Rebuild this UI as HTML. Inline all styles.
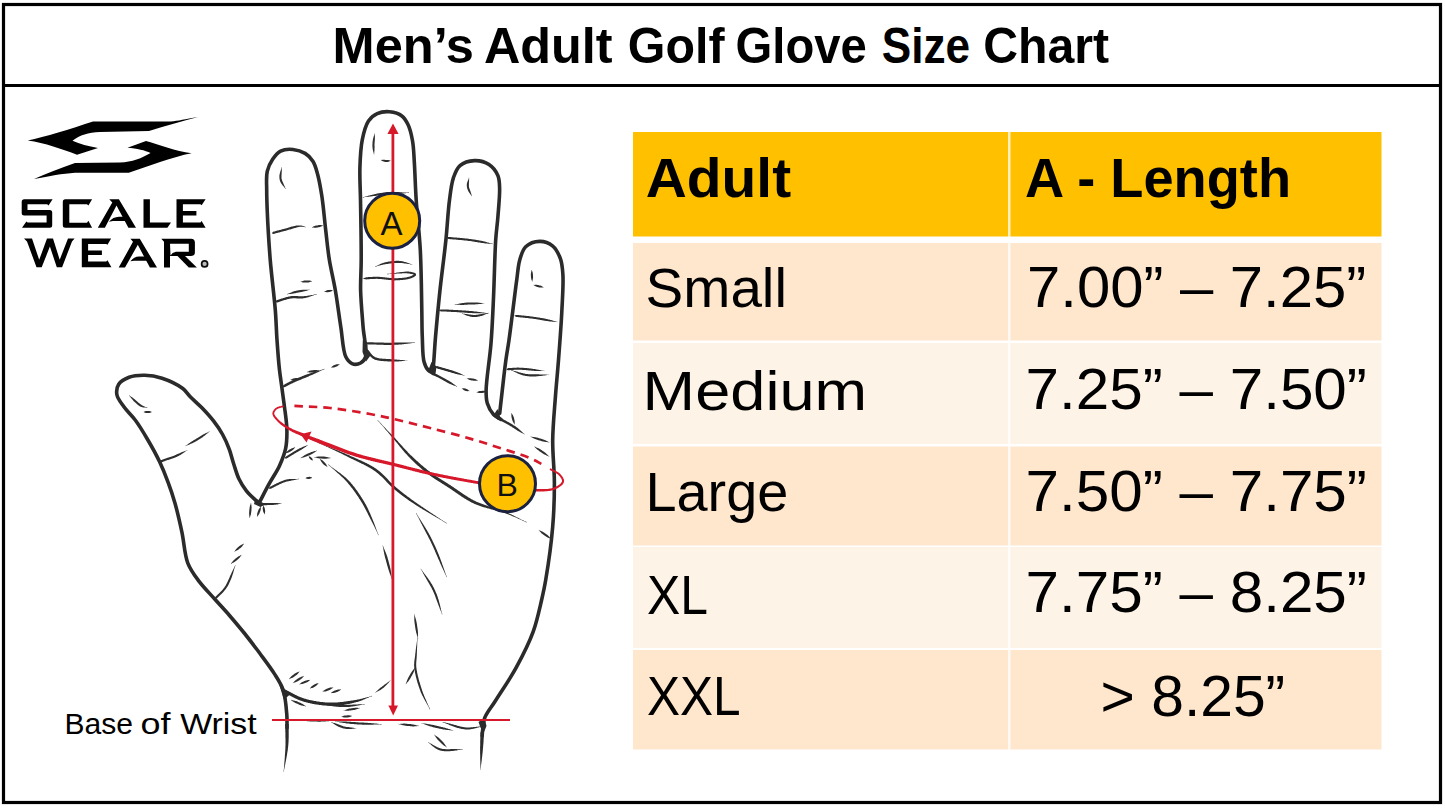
<!DOCTYPE html>
<html><head><meta charset="utf-8">
<style>
html,body{margin:0;padding:0;background:#fff;width:1445px;height:808px;overflow:hidden;}
svg{display:block;}
text{font-family:"Liberation Sans",sans-serif;}
</style></head>
<body>
<svg width="1445" height="808" viewBox="0 0 1445 808">
<rect x="0" y="0" width="1445" height="808" fill="#fff"/>
<rect x="3.5" y="4.5" width="1437" height="798" fill="none" stroke="#000" stroke-width="3.2"/>
<line x1="3" y1="85.5" x2="1442" y2="85.5" stroke="#000" stroke-width="3.2"/>
<g font-size="49.5" font-weight="bold" fill="#000">
<text x="332.6" y="63" textLength="141.3" lengthAdjust="spacingAndGlyphs">Men’s</text>
<text x="483.9" y="63" textLength="128.6" lengthAdjust="spacingAndGlyphs">Adult</text>
<text x="627.8" y="63" textLength="96.7" lengthAdjust="spacingAndGlyphs">Golf</text>
<text x="735.5" y="63" textLength="131.3" lengthAdjust="spacingAndGlyphs">Glove</text>
<text x="881.8" y="63" textLength="88.4" lengthAdjust="spacingAndGlyphs">Size</text>
<text x="983.2" y="63" textLength="125.8" lengthAdjust="spacingAndGlyphs">Chart</text>
</g>

<g>
<rect x="633" y="132" width="748.5" height="104.5" fill="#FFC000"/>
<rect x="633" y="243" width="748.5" height="97.5" fill="#FEE7CD"/>
<rect x="633" y="343" width="748.5" height="101" fill="#FDF3E6"/>
<rect x="633" y="446.5" width="748.5" height="99" fill="#FEE7CD"/>
<rect x="633" y="547" width="748.5" height="101" fill="#FDF3E6"/>
<rect x="633" y="650" width="748.5" height="99.5" fill="#FEE7CD"/>
<rect x="1008" y="132" width="2.5" height="618" fill="#fff" opacity="0.75"/>
</g>
<g fill="#000">
<text x="645.8" y="197" font-size="55" font-weight="bold" textLength="145.3" lengthAdjust="spacingAndGlyphs">Adult</text>
<text x="1025" y="196.5" font-size="55" font-weight="bold" textLength="266" lengthAdjust="spacingAndGlyphs">A - Length</text>
</g>
<g font-size="57" fill="#000">
<text x="645.6" y="306.5" font-size="55" textLength="141.4" lengthAdjust="spacingAndGlyphs">Small</text>
<text x="1027" y="307" textLength="339.2" lengthAdjust="spacingAndGlyphs">7.00” – 7.25”</text>
<text x="642.6" y="410" font-size="55" textLength="224.5" lengthAdjust="spacingAndGlyphs">Medium</text>
<text x="1025.6" y="409.2" textLength="341.3" lengthAdjust="spacingAndGlyphs">7.25” – 7.50”</text>
<text x="645.4" y="511" font-size="55" textLength="142.9" lengthAdjust="spacingAndGlyphs">Large</text>
<text x="1025.6" y="510.6" textLength="341.3" lengthAdjust="spacingAndGlyphs">7.50” – 7.75”</text>
<text x="647" y="614" font-size="55" textLength="61" lengthAdjust="spacingAndGlyphs">XL</text>
<text x="1025.6" y="611.8" textLength="341.3" lengthAdjust="spacingAndGlyphs">7.75” – 8.25”</text>
<text x="647" y="714.5" font-size="55" textLength="93.6" lengthAdjust="spacingAndGlyphs">XXL</text>
<text x="1100.6" y="715.5" textLength="184.6" lengthAdjust="spacingAndGlyphs">&gt; 8.25”</text>
</g>

<g font-size="30" fill="#000">
<text x="64.4" y="733.5" textLength="68.5" lengthAdjust="spacingAndGlyphs">Base</text>
<text x="140.6" y="733.5" textLength="30" lengthAdjust="spacingAndGlyphs">of</text>
<text x="180.2" y="733.5" textLength="76.5" lengthAdjust="spacingAndGlyphs">Wrist</text>
</g>

<g id="logo">

<path d="M198,117 C185,119 178,121 171,121.5 L93,121.5 C70,129 45,137 27.7,140.5 C45,143 62,149 77,154.8 L98,148 C88,146 80,144 72.5,140.7 C80,135 88,132.5 100,132 L149,131 C165,126 182,121 198,117 Z" fill="#000"/>
<path d="M34,179 C50,176 62,173.5 75,172.7 L128.8,172.7 C150,166 172,157 191.6,153.3 C175,151 160,145 146,141 L127.5,147.8 C137,148.5 145,150.5 150.6,152.9 C142,158 132,162 120,162.5 L75,163 C60,168 46,174 34,179 Z" fill="#000"/>
<g fill="#000">
<path d="M24,199.2 L52.6,199.2 L48.5,205.5 L47.2,204.2 L27.5,204.2 L27.5,209.9 L49.7,209.9 Q52.2,209.9 52.2,212.4 L52.2,225.3 Q52.2,227.8 49.7,227.8 L22,227.8 L26.4,221.4 L27.6,222.6 L46.6,222.6 L46.6,215.5 L24.2,215.5 Q21.7,215.5 21.7,213 L21.7,201.7 Q21.7,199.2 24.2,199.2 Z"/>
<path d="M65.3,199.2 L92.1,199.2 L88.4,205.5 L87,204.2 L69.3,204.2 L69.3,222.8 L87,222.8 L88.4,220.8 L92.1,227.8 L65.3,227.8 Q62.8,227.8 62.8,225.3 L62.8,201.7 Q62.8,199.2 65.3,199.2 Z"/>
<path d="M109.3,199.2 L118.9,199.2 L136,227.8 L128.4,227.8 L116.5,205.5 L104.9,227.8 L97.8,227.8 L112.3,202.5 Z"/>
<path d="M108.9,221.8 Q113,217 119,216.8 L124,216.8 L126.2,221 L113,221 Z"/>
<path d="M143.5,199.2 L149.9,199.2 L149.9,222.6 L171,222.6 L167.4,227.8 L143.5,227.8 Z"/>
<path d="M176.5,199.2 L205.6,199.2 L201.6,205.3 L200.5,204.3 L182.9,204.3 L182.9,211.1 L196.4,211.1 L196.4,215.5 L182.9,215.5 L182.9,222.6 L200.5,222.6 L201.6,221 L205.6,227.8 L176.5,227.8 Z"/>
<path d="M24,238.6 L32,238.6 L39.2,259.8 L47,238.6 L53,238.6 L59.7,259.7 L68,238.6 L74.6,238.6 L72,241.5 L62.1,267.2 L56.8,267.2 L49.9,246.6 L41.7,267.2 L36.5,267.2 L27,241.5 Z"/>
<path d="M81.8,238.6 L111.1,238.6 L107.5,244.8 L106.3,243.9 L88.1,243.9 L88.1,250.4 L101.9,250.4 L101.9,255 L88.1,255 L88.1,261.6 L106.3,261.6 L107.5,260.3 L111.4,267.2 L81.8,267.2 Z"/>
<path d="M130.4,238.7 L139.8,238.7 L157,267.6 L149.9,267.6 L137.8,244.8 L125,267.6 L118.7,267.6 L133,241.8 Z"/>
<path d="M130.4,261.2 Q134,256.8 139,256.6 L145.2,256.6 L147.2,260.8 L134,260.8 Z"/>
<path fill-rule="evenodd" d="M161.3,238.7 L191,238.7 Q194.9,238.7 194.9,242.6 L194.9,252.2 Q194.9,256.1 191,256.1 L170,256.1 L170,267.6 L164,267.6 L164,241.8 Z M170,243.7 L188.8,243.7 L188.8,251.8 L176,251.8 Q172,252.5 170.5,255.5 Z"/>
<path d="M177,255.5 L184.5,255.5 L196.9,267.6 L188.8,267.6 Z"/>
<circle cx="204.6" cy="263.9" r="3" fill="#bbb" stroke="#0d0d0d" stroke-width="1.7"/>
</g>

</g>

<g id="hand">
<path d="M259.6,502.0 C262.9,495.7 266.1,489.3 269.5,483.2 C272.7,477.3 276.7,471.8 279.4,465.9 C282.0,460.2 284.3,454.6 285.6,448.6 C286.9,442.6 287.0,436.5 286.9,430.0 C286.8,422.8 285.4,414.3 284.5,407.1 C283.7,400.6 282.8,394.8 282.0,388.6 C281.2,382.4 280.3,376.9 279.5,370.0 C278.5,361.2 277.7,350.0 277.0,340.0 C276.3,330.0 276.2,321.3 275.3,310.0 C274.1,295.3 271.6,276.3 270.2,259.5 C268.9,242.9 267.7,222.8 267.2,210.0 C266.9,201.9 266.7,196.6 266.7,190.0 C266.7,183.6 266.0,176.7 267.3,171.2 C268.4,166.6 270.4,162.5 272.8,159.0 C275.0,155.9 277.4,152.7 280.6,151.1 C284.0,149.4 288.8,149.1 292.9,149.5 C297.0,149.9 301.7,151.3 305.1,153.4 C308.3,155.3 310.9,158.1 312.9,161.2 C315.1,164.6 316.1,168.7 317.4,173.4 C319.2,179.7 320.5,187.4 321.8,195.7 C323.4,205.9 324.4,219.0 325.7,230.0 C326.9,240.2 327.7,249.6 329.3,259.5 C330.9,269.6 333.5,279.3 335.3,290.0 C337.3,301.7 339.0,315.3 340.8,327.0 C342.5,337.5 342.8,350.6 345.8,356.8 C347.5,360.2 349.5,362.6 352.0,363.6 C354.4,364.6 358.3,364.2 360.6,363.0 C362.8,361.9 364.6,359.9 365.6,356.8 C367.4,350.8 363.9,337.5 363.1,327.0 C362.2,315.3 360.9,301.7 360.6,290.0 C360.4,279.5 361.2,271.7 361.2,260.0 C361.3,243.4 360.8,216.9 360.5,200.0 C360.3,187.7 359.6,178.3 359.9,168.0 C360.2,158.2 360.6,148.0 362.3,139.6 C363.7,132.7 365.5,125.5 368.5,121.0 C370.8,117.6 373.8,115.1 377.2,113.6 C380.8,112.0 385.5,111.4 389.6,111.8 C393.8,112.2 398.8,113.6 401.9,116.0 C404.8,118.1 406.4,121.3 408.1,124.8 C410.2,129.2 411.5,135.0 412.5,140.8 C413.7,147.3 413.8,153.8 414.3,161.9 C415.0,172.7 415.3,186.4 416.2,200.0 C417.2,215.5 419.4,232.6 420.3,250.0 C421.3,269.1 421.5,293.9 421.8,310.0 C422.0,320.8 421.9,328.2 422.3,337.0 C422.7,345.5 422.4,355.9 424.1,361.9 C425.1,365.6 426.6,368.6 428.5,370.5 C429.9,371.9 431.8,372.2 433.4,373.0" fill="none" stroke="#2b2b2b" stroke-width="3.6" stroke-linecap="round" stroke-linejoin="round" />
<path d="M432.5,372.0 C432.8,369.9 433.1,368.5 433.4,365.6 C434.1,359.5 434.6,347.7 435.5,337.0 C436.7,323.3 438.3,306.0 440.0,290.0 C441.8,273.3 444.4,254.9 446.0,239.0 C447.4,225.2 448.0,211.2 449.5,200.1 C450.6,191.6 451.3,184.0 453.4,177.8 C455.1,173.0 456.6,168.5 460.0,165.6 C463.5,162.6 469.6,160.8 474.5,160.6 C479.3,160.4 485.1,161.9 489.0,164.5 C492.8,167.0 496.2,171.5 497.9,175.6 C499.5,179.4 499.4,182.9 499.6,187.9 C499.9,195.5 498.6,207.7 497.9,216.8 C497.3,225.0 496.3,230.5 495.7,240.0 C494.7,255.3 494.3,281.6 493.4,300.0 C492.7,315.6 492.2,328.5 491.0,343.3 C489.8,358.8 486.1,380.3 486.1,391.0 C486.1,396.4 486.1,399.4 487.3,403.3 C488.5,407.3 490.9,411.7 493.5,414.5 C495.6,416.8 498.5,417.8 501.0,419.4" fill="none" stroke="#2b2b2b" stroke-width="3.6" stroke-linecap="round" stroke-linejoin="round" />
<path d="M499.7,413.2 C500.5,405.8 501.3,399.0 502.2,391.0 C503.3,381.5 504.6,369.2 505.9,360.0 C506.9,352.6 508.0,347.3 509.0,340.0 C510.3,331.0 511.6,320.0 512.9,310.0 C514.2,299.9 515.5,288.6 516.8,279.5 C517.8,272.2 518.1,265.5 519.8,259.7 C521.3,254.8 522.5,249.8 525.7,246.8 C529.0,243.7 535.0,241.5 539.6,241.4 C544.0,241.3 549.1,243.1 552.5,245.8 C556.1,248.7 558.7,254.0 560.4,258.7 C562.2,263.6 562.5,268.2 562.9,274.6 C563.5,284.0 562.5,297.2 561.9,310.0 C561.2,325.2 559.7,344.6 558.5,360.0 C557.5,373.3 556.3,384.2 555.4,397.0 C554.4,410.8 552.9,425.6 552.7,440.0 C552.5,454.4 554.4,468.9 554.4,483.3 C554.4,497.8 554.0,511.5 552.7,526.7 C551.3,543.6 548.0,566.5 545.7,580.0 C544.3,588.3 543.3,592.6 541.6,600.0 C539.4,609.4 537.1,620.9 533.2,631.6 C528.9,643.4 522.6,655.8 516.3,667.4 C510.0,679.0 501.1,691.7 495.3,701.0 C491.2,707.6 486.8,712.5 484.7,717.9 C483.1,722.2 483.0,727.2 482.6,730.5 C482.3,732.7 482.3,734.2 482.2,736.0" fill="none" stroke="#2b2b2b" stroke-width="3.6" stroke-linecap="round" stroke-linejoin="round" />
<path d="M480.6,731.9 L480.6,732.6 L480.5,733.3 L480.5,734.0 L480.5,734.7 L480.4,735.4 L480.4,736.0 L480.4,736.7 L480.4,737.4 L480.3,738.1 L480.3,738.8 L480.3,739.4 L480.3,740.1 L480.2,740.8 L480.2,741.5 L480.2,742.2 L480.2,742.9 L480.2,743.6 L480.2,744.3 L480.2,745.1 L480.2,745.8 L480.1,746.6 L480.1,747.3 L480.1,748.0 L480.1,748.6 L480.1,749.3 L480.1,750.0 L480.1,750.6 L480.1,751.3 L480.1,752.0 L480.1,752.7 L480.1,753.4 L480.1,754.1 L480.2,754.8 L480.2,755.5 L480.2,756.2 L480.2,756.9 L480.2,757.7 L480.2,758.4 L480.2,759.1 L480.2,759.8 L480.3,760.6 L480.3,761.3 L480.3,762.0 L480.3,762.8 L480.3,763.5 L480.3,764.2 L480.4,765.0 L480.4,765.7 L480.4,766.4 L480.4,767.1 L480.4,767.9 L480.4,768.6 L480.4,769.3 L480.4,770.0 L480.6,770.0 L480.7,769.3 L480.7,768.6 L480.8,767.9 L480.9,767.2 L481.0,766.4 L481.0,765.7 L481.1,765.0 L481.2,764.3 L481.3,763.5 L481.4,762.8 L481.5,762.1 L481.6,761.4 L481.7,760.6 L481.8,759.9 L481.8,759.2 L481.9,758.5 L482.0,757.8 L482.1,757.0 L482.2,756.3 L482.3,755.6 L482.3,754.9 L482.4,754.2 L482.5,753.5 L482.6,752.8 L482.6,752.1 L482.7,751.4 L482.8,750.8 L482.8,750.1 L482.9,749.4 L482.9,748.8 L483.0,748.1 L483.1,747.5 L483.1,746.7 L483.2,746.0 L483.2,745.2 L483.3,744.5 L483.4,743.8 L483.4,743.1 L483.5,742.4 L483.5,741.7 L483.6,741.0 L483.6,740.3 L483.6,739.6 L483.7,738.9 L483.7,738.2 L483.7,737.6 L483.8,736.9 L483.8,736.2 L483.8,735.5 L483.9,734.8 L483.9,734.2 L483.9,733.5 L484.0,732.8 L484.0,732.1 Z" fill="#2b2b2b"/>
<path d="M259.6,503.0 C258.2,501.9 256.9,501.2 255.3,499.8 C252.8,497.6 249.1,494.3 246.4,490.9 C243.6,487.4 241.1,483.3 239.0,479.0 C236.8,474.4 235.4,469.2 233.8,464.2 C232.2,459.3 231.1,454.2 229.3,449.3 C227.4,444.3 225.2,439.2 222.6,434.5 C220.0,429.8 217.0,425.5 213.7,421.2 C210.2,416.6 205.9,412.0 201.9,407.8 C198.0,403.8 193.4,400.0 190.0,396.5 C187.2,393.7 186.1,391.0 182.8,388.5 C177.9,384.8 168.8,380.4 162.0,378.2 C156.1,376.3 150.3,375.4 144.7,375.3 C139.4,375.2 133.6,375.6 129.1,377.3 C125.1,378.8 120.7,381.2 118.7,384.3 C116.9,387.1 116.3,391.2 116.9,394.7 C117.6,398.7 121.1,402.8 123.9,406.8 C127.1,411.3 131.5,415.1 135.2,420.0 C139.4,425.6 143.4,432.3 147.3,439.0 C151.5,446.1 156.0,454.1 159.5,461.6 C162.8,468.6 165.5,475.4 168.1,482.4 C170.7,489.3 172.8,495.6 175.0,503.2 C177.5,512.1 179.9,522.7 182.0,532.6 C184.1,542.6 184.5,554.4 187.7,562.8 C190.3,569.6 193.9,574.4 198.1,580.1 C202.8,586.5 209.5,593.2 214.9,599.3 C220.0,605.0 224.8,610.1 229.7,615.7 C234.7,621.5 239.7,627.4 244.6,633.5 C249.6,639.8 254.5,646.2 259.4,652.8 C264.4,659.6 270.1,667.0 274.3,673.6 C277.9,679.3 281.1,683.8 283.2,690.0 C285.6,697.2 286.2,707.7 286.8,714.7 C287.2,719.8 286.9,723.6 287.0,728.0" fill="none" stroke="#2b2b2b" stroke-width="3.6" stroke-linecap="round" stroke-linejoin="round" />
<path d="M285.3,724.0 L285.3,724.7 L285.3,725.4 L285.3,726.2 L285.3,726.9 L285.3,727.6 L285.3,728.3 L285.3,729.0 L285.3,729.7 L285.3,730.4 L285.3,731.2 L285.3,731.9 L285.4,732.6 L285.4,733.3 L285.4,734.0 L285.4,734.7 L285.4,735.4 L285.4,736.1 L285.4,736.8 L285.4,737.6 L285.5,738.3 L285.5,739.0 L285.5,739.7 L285.5,740.4 L285.5,741.1 L285.5,741.8 L285.5,742.6 L285.5,743.3 L285.5,744.0 L285.5,744.7 L285.5,745.5 L285.4,746.2 L285.4,746.9 L285.4,747.6 L285.4,748.3 L285.3,749.0 L285.3,749.7 L285.3,750.4 L285.2,751.1 L285.2,751.8 L285.1,752.5 L285.1,753.2 L285.0,753.9 L285.0,754.6 L284.9,755.3 L284.9,756.1 L284.8,756.8 L284.8,757.5 L284.7,758.2 L284.7,758.9 L284.6,759.7 L284.6,760.4 L284.5,761.1 L284.4,761.8 L284.4,762.6 L284.3,763.3 L284.3,764.0 L284.2,764.8 L284.2,765.5 L284.1,766.2 L284.0,766.9 L284.0,767.7 L283.9,768.4 L283.9,769.1 L283.8,769.8 L283.7,770.6 L283.6,771.3 L283.6,772.0 L283.8,772.0 L283.9,771.3 L284.0,770.6 L284.1,769.9 L284.2,769.2 L284.4,768.4 L284.5,767.7 L284.7,767.0 L284.8,766.3 L284.9,765.6 L285.1,764.9 L285.2,764.2 L285.4,763.4 L285.5,762.7 L285.6,762.0 L285.8,761.3 L285.9,760.6 L286.1,759.9 L286.2,759.1 L286.3,758.4 L286.5,757.7 L286.6,757.0 L286.7,756.3 L286.9,755.6 L287.0,754.9 L287.1,754.1 L287.2,753.4 L287.3,752.7 L287.4,752.0 L287.6,751.3 L287.7,750.6 L287.8,749.9 L287.8,749.2 L287.9,748.5 L288.0,747.8 L288.1,747.1 L288.2,746.4 L288.2,745.6 L288.3,744.9 L288.4,744.1 L288.4,743.4 L288.5,742.7 L288.5,741.9 L288.6,741.2 L288.6,740.5 L288.6,739.7 L288.6,739.0 L288.7,738.3 L288.7,737.6 L288.7,736.8 L288.7,736.1 L288.7,735.4 L288.7,734.7 L288.7,734.0 L288.7,733.3 L288.7,732.5 L288.7,731.8 L288.7,731.1 L288.7,730.4 L288.7,729.7 L288.7,729.0 L288.7,728.3 L288.7,727.6 L288.7,726.9 L288.7,726.2 L288.7,725.4 L288.7,724.7 L288.7,724.0 Z" fill="#2b2b2b"/>
<path d="M282.8,691.9 L283.5,692.3 L284.1,692.6 L284.7,692.9 L285.4,693.2 L286.0,693.5 L286.6,693.8 L287.2,694.2 L287.9,694.5 L288.5,694.8 L289.1,695.2 L289.7,695.5 L290.4,695.8 L291.0,696.2 L291.6,696.5 L292.3,696.8 L292.9,697.2 L293.6,697.5 L294.2,697.8 L294.9,698.2 L295.5,698.5 L296.2,698.8 L296.9,699.1 L297.6,699.4 L298.2,699.7 L298.9,700.0 L299.6,700.3 L300.3,700.5 L301.0,700.8 L301.8,701.1 L302.5,701.3 L303.2,701.5 L303.9,701.7 L304.5,701.9 L305.2,702.1 L305.9,702.3 L306.6,702.5 L307.2,702.6 L307.9,702.8 L308.6,703.0 L309.3,703.1 L310.0,703.3 L310.7,703.5 L311.4,703.6 L312.1,703.8 L312.9,703.9 L313.6,704.0 L314.3,704.2 L315.0,704.3 L315.8,704.4 L316.5,704.5 L317.2,704.6 L317.9,704.7 L318.7,704.8 L319.4,704.9 L320.1,705.0 L320.9,705.1 L321.6,705.2 L322.3,705.3 L323.1,705.4 L323.8,705.4 L324.5,705.5 L325.3,705.5 L326.0,705.6 L326.7,705.6 L327.4,705.7 L328.1,705.7 L328.9,705.7 L329.6,705.8 L330.3,705.8 L331.0,705.8 L331.7,705.8 L332.5,705.8 L333.2,705.8 L333.9,705.8 L334.7,705.7 L335.4,705.7 L336.2,705.7 L336.9,705.6 L337.7,705.6 L338.4,705.5 L339.2,705.4 L339.9,705.4 L340.6,705.3 L341.4,705.2 L342.1,705.1 L342.9,705.0 L343.6,704.9 L344.3,704.8 L345.1,704.7 L345.8,704.6 L346.5,704.5 L347.2,704.3 L347.9,704.2 L348.6,704.0 L349.3,703.9 L350.0,703.8 L350.7,703.6 L351.4,703.4 L352.1,703.3 L352.7,703.1 L353.4,703.0 L354.0,702.8 L354.7,702.6 L355.3,702.5 L355.9,702.3 L356.6,702.1 L357.3,701.9 L358.1,701.7 L358.8,701.4 L359.5,701.2 L360.2,700.9 L360.9,700.7 L361.6,700.4 L362.3,700.2 L363.0,699.9 L363.6,699.6 L364.3,699.4 L364.9,699.1 L365.6,698.8 L366.2,698.5 L366.8,698.2 L367.5,697.9 L368.1,697.7 L368.8,697.4 L369.4,697.1 L370.0,696.9 L370.7,696.6 L371.4,696.4 L372.1,696.2 L371.9,695.8 L371.3,696.0 L370.6,696.3 L369.9,696.5 L369.2,696.7 L368.6,696.9 L367.9,697.1 L367.2,697.2 L366.6,697.4 L365.9,697.6 L365.2,697.8 L364.5,698.0 L363.9,698.1 L363.2,698.3 L362.5,698.5 L361.8,698.7 L361.1,698.8 L360.4,699.0 L359.7,699.2 L359.0,699.3 L358.3,699.5 L357.6,699.6 L356.8,699.7 L356.0,699.9 L355.4,700.0 L354.8,700.1 L354.2,700.2 L353.5,700.3 L352.9,700.4 L352.2,700.5 L351.5,700.6 L350.9,700.7 L350.2,700.8 L349.5,700.9 L348.8,701.0 L348.1,701.1 L347.4,701.2 L346.7,701.3 L346.0,701.4 L345.3,701.5 L344.6,701.6 L343.9,701.7 L343.2,701.8 L342.5,701.9 L341.7,702.0 L341.0,702.0 L340.3,702.1 L339.6,702.2 L338.9,702.3 L338.1,702.3 L337.4,702.4 L336.7,702.4 L336.0,702.5 L335.3,702.5 L334.6,702.5 L333.8,702.6 L333.1,702.6 L332.4,702.6 L331.7,702.6 L331.0,702.6 L330.3,702.6 L329.7,702.6 L329.0,702.5 L328.3,702.5 L327.6,702.5 L326.9,702.4 L326.2,702.4 L325.5,702.4 L324.8,702.3 L324.1,702.2 L323.4,702.2 L322.7,702.1 L322.0,702.0 L321.2,701.9 L320.5,701.9 L319.8,701.8 L319.1,701.7 L318.4,701.6 L317.7,701.5 L317.0,701.4 L316.3,701.2 L315.6,701.1 L314.9,701.0 L314.2,700.9 L313.5,700.7 L312.8,700.6 L312.1,700.5 L311.4,700.3 L310.7,700.2 L310.0,700.0 L309.4,699.9 L308.7,699.7 L308.0,699.5 L307.4,699.4 L306.7,699.2 L306.1,699.0 L305.4,698.8 L304.8,698.7 L304.2,698.5 L303.5,698.3 L302.8,698.0 L302.1,697.8 L301.5,697.5 L300.8,697.3 L300.1,697.0 L299.5,696.7 L298.8,696.5 L298.2,696.2 L297.6,695.9 L296.9,695.6 L296.3,695.3 L295.7,695.0 L295.0,694.7 L294.4,694.3 L293.8,694.0 L293.1,693.7 L292.5,693.3 L291.9,693.0 L291.3,692.7 L290.6,692.3 L290.0,692.0 L289.4,691.7 L288.7,691.3 L288.1,691.0 L287.4,690.7 L286.8,690.3 L286.2,690.0 L285.5,689.7 L284.8,689.4 L284.2,689.1 Z" fill="#2b2b2b"/>
<path d="M375.4,692.7 L376.0,692.3 L376.6,692.0 L377.3,691.6 L378.0,691.3 L378.6,691.0 L379.3,690.6 L379.9,690.3 L380.5,689.9 L381.1,689.5 L381.8,689.1 L382.4,688.6 L383.0,688.2 L383.6,687.7 L384.1,687.2 L384.6,686.8 L385.1,686.3 L385.6,685.8 L386.2,685.3 L386.7,684.8 L387.1,684.3 L387.6,683.7 L388.1,683.2 L388.6,682.7 L389.1,682.1 L389.6,681.6 L390.0,681.1 L390.6,680.6 L391.1,680.1 L390.9,679.9 L390.4,680.4 L389.8,680.8 L389.2,681.2 L388.7,681.7 L388.1,682.1 L387.5,682.5 L386.9,682.9 L386.3,683.4 L385.8,683.8 L385.2,684.2 L384.6,684.6 L384.1,685.1 L383.5,685.5 L383.0,685.9 L382.4,686.3 L381.9,686.8 L381.3,687.2 L380.7,687.6 L380.1,688.1 L379.6,688.6 L379.0,689.0 L378.5,689.5 L377.9,690.0 L377.4,690.5 L376.9,691.0 L376.3,691.5 L375.8,692.1 L375.2,692.5 Z" fill="#2b2b2b"/>
<path d="M272.1,233.4 L272.9,233.7 L273.7,233.9 L274.4,233.7 L275.1,233.5 L275.8,233.3 L276.5,233.1 L277.2,232.9 L277.9,232.8 L278.6,232.6 L279.3,232.4 L280.0,232.2 L280.7,232.0 L281.5,231.8 L282.2,231.6 L282.9,231.4 L283.6,231.2 L284.3,231.1 L285.1,230.9 L285.8,230.7 L286.5,230.5 L287.2,230.3 L288.0,230.1 L288.7,229.8 L289.4,229.6 L290.2,229.4 L291.0,229.2 L291.7,228.9 L292.5,228.7 L293.2,228.5 L293.9,228.3 L294.6,228.1 L295.3,227.9 L296.0,227.7 L296.7,227.5 L297.3,227.3 L297.9,227.2 L298.5,227.0 L299.1,226.9 L299.6,226.8 L300.5,226.7 L301.3,226.7 L302.0,226.7 L302.8,226.8 L303.5,226.9 L304.3,227.0 L305.0,227.2 L305.8,227.3 L305.8,226.9 L305.1,226.8 L304.4,226.6 L303.7,226.3 L302.9,226.1 L302.2,225.8 L301.4,225.6 L300.5,225.5 L299.6,225.4 L299.0,225.4 L298.3,225.4 L297.7,225.4 L297.0,225.5 L296.3,225.6 L295.6,225.7 L294.8,225.9 L294.1,226.0 L293.4,226.2 L292.6,226.4 L291.8,226.6 L291.1,226.8 L290.3,227.1 L289.6,227.3 L288.8,227.5 L288.1,227.7 L287.3,227.9 L286.6,228.2 L285.9,228.4 L285.2,228.6 L284.5,228.7 L283.8,228.9 L283.1,229.1 L282.3,229.3 L281.6,229.5 L280.9,229.7 L280.2,229.9 L279.5,230.1 L278.8,230.3 L278.1,230.4 L277.4,230.6 L276.6,230.8 L275.9,231.0 L275.2,231.2 L274.5,231.4 L273.8,231.6 L273.1,231.8 L272.5,232.4 L271.9,233.0 Z" fill="#2e2e2e"/>
<path d="M312.0,227.5 L312.7,227.4 L313.5,227.6 L314.2,227.7 L314.9,227.7 L315.6,227.7 L316.3,227.7 L317.0,227.5 L317.7,227.4 L318.4,227.3 L319.1,227.2 L319.8,227.0 L320.5,226.8 L321.1,226.5 L321.8,226.2 L322.4,225.9 L323.1,225.7 L323.1,225.3 L322.4,225.4 L321.6,225.2 L320.9,225.1 L320.2,225.1 L319.5,225.1 L318.8,225.1 L318.1,225.3 L317.4,225.4 L316.7,225.5 L316.0,225.6 L315.3,225.8 L314.6,226.0 L314.0,226.3 L313.3,226.6 L312.7,226.9 L312.0,227.1 Z" fill="#2e2e2e"/>
<path d="M275.1,302.2 L275.9,302.3 L276.7,302.5 L277.5,302.4 L278.2,302.2 L278.9,302.0 L279.6,301.7 L280.3,301.5 L281.0,301.3 L281.7,301.0 L282.4,300.8 L283.1,300.5 L283.8,300.3 L284.5,300.1 L285.2,299.9 L285.9,299.7 L286.6,299.5 L287.3,299.3 L287.9,299.1 L288.6,298.9 L289.2,298.8 L289.9,298.7 L290.5,298.5 L291.2,298.4 L291.9,298.4 L292.6,298.3 L293.3,298.3 L294.0,298.3 L294.7,298.3 L295.4,298.3 L296.1,298.3 L296.8,298.4 L297.5,298.4 L298.2,298.5 L298.9,298.5 L299.6,298.5 L300.4,298.5 L301.1,298.5 L301.9,298.5 L302.6,298.4 L303.4,298.3 L304.1,298.2 L304.8,298.1 L305.5,297.9 L306.2,297.8 L306.9,297.6 L307.5,297.4 L308.2,297.2 L308.9,297.0 L309.6,296.8 L310.3,296.6 L310.9,296.3 L311.6,296.1 L312.3,295.8 L313.0,295.6 L313.6,295.4 L314.3,295.1 L315.0,294.9 L315.7,294.7 L316.4,294.6 L317.0,294.4 L317.0,294.0 L316.3,294.2 L315.6,294.3 L314.9,294.5 L314.2,294.6 L313.5,294.7 L312.8,294.9 L312.1,295.0 L311.4,295.1 L310.7,295.2 L310.0,295.3 L309.3,295.5 L308.6,295.6 L307.9,295.7 L307.2,295.8 L306.5,295.9 L305.8,296.0 L305.2,296.1 L304.5,296.1 L303.8,296.2 L303.2,296.3 L302.5,296.3 L301.8,296.3 L301.1,296.3 L300.4,296.3 L299.7,296.3 L299.0,296.2 L298.3,296.2 L297.6,296.1 L296.9,296.1 L296.2,296.0 L295.5,296.0 L294.7,296.0 L294.0,296.0 L293.2,296.0 L292.4,296.0 L291.6,296.1 L290.8,296.2 L290.1,296.3 L289.5,296.4 L288.8,296.5 L288.1,296.7 L287.4,296.9 L286.7,297.1 L285.9,297.3 L285.2,297.5 L284.5,297.7 L283.8,297.9 L283.1,298.1 L282.4,298.4 L281.7,298.6 L281.0,298.8 L280.3,299.1 L279.6,299.3 L278.9,299.6 L278.1,299.8 L277.4,300.0 L276.7,300.3 L276.1,300.6 L275.5,301.2 L274.9,301.8 Z" fill="#2e2e2e"/>
<path d="M287.2,294.4 L288.0,294.2 L288.7,294.1 L289.5,294.0 L290.2,293.9 L290.9,293.9 L291.7,293.8 L292.4,293.7 L293.2,293.6 L293.9,293.4 L294.6,293.3 L295.3,293.2 L296.0,293.0 L296.8,292.8 L297.5,292.7 L298.2,292.5 L298.9,292.4 L299.6,292.3 L300.3,292.2 L301.0,292.0 L301.7,291.9 L302.4,291.8 L303.1,291.6 L303.8,291.5 L304.6,291.3 L305.3,291.1 L306.0,290.9 L306.7,290.7 L307.4,290.5 L308.1,290.3 L308.8,290.1 L309.5,290.0 L309.5,289.6 L308.8,289.7 L308.0,289.7 L307.3,289.7 L306.5,289.7 L305.8,289.7 L305.1,289.7 L304.3,289.7 L303.6,289.7 L302.9,289.7 L302.1,289.8 L301.4,289.9 L300.7,290.0 L300.0,290.1 L299.2,290.2 L298.5,290.3 L297.8,290.5 L297.1,290.6 L296.3,290.8 L295.6,291.0 L294.8,291.1 L294.1,291.3 L293.4,291.6 L292.7,291.8 L292.0,292.1 L291.3,292.4 L290.6,292.7 L289.9,293.0 L289.3,293.3 L288.6,293.6 L287.9,293.8 L287.2,294.0 Z" fill="#2e2e2e"/>
<path d="M300.8,282.0 L301.5,282.0 L302.2,282.2 L302.9,282.4 L303.6,282.5 L304.4,282.6 L305.1,282.6 L305.8,282.6 L306.5,282.5 L307.2,282.5 L307.9,282.5 L308.6,282.4 L309.2,282.2 L309.9,282.0 L310.6,281.8 L311.3,281.5 L312.0,281.4 L312.0,281.0 L311.3,281.0 L310.6,280.8 L309.9,280.6 L309.2,280.5 L308.4,280.4 L307.7,280.4 L307.0,280.4 L306.3,280.5 L305.6,280.5 L304.9,280.5 L304.2,280.6 L303.6,280.8 L302.9,281.0 L302.2,281.2 L301.5,281.5 L300.8,281.6 Z" fill="#2e2e2e"/>
<path d="M324.4,291.9 L325.2,291.9 L325.9,292.1 L326.7,292.2 L327.4,292.3 L328.1,292.2 L328.9,292.1 L329.6,292.0 L330.3,291.8 L331.0,291.6 L331.7,291.2 L332.3,290.8 L333.0,290.6 L333.0,290.2 L332.2,290.2 L331.5,290.0 L330.7,289.9 L330.0,289.8 L329.3,289.9 L328.5,290.0 L327.8,290.1 L327.1,290.3 L326.4,290.5 L325.7,290.9 L325.1,291.3 L324.4,291.5 Z" fill="#2e2e2e"/>
<path d="M282.6,387.2 L283.4,387.2 L284.3,387.3 L285.0,387.1 L285.6,386.8 L286.2,386.5 L286.8,386.1 L287.5,385.8 L288.1,385.5 L288.7,385.1 L289.3,384.8 L289.9,384.5 L290.6,384.1 L291.2,383.8 L291.9,383.5 L292.6,383.2 L293.1,382.9 L293.7,382.6 L294.3,382.4 L294.9,382.1 L295.6,381.8 L296.2,381.5 L296.8,381.3 L297.4,381.0 L298.0,380.7 L298.7,380.5 L299.3,380.2 L300.0,379.9 L300.7,379.7 L301.3,379.4 L302.0,379.1 L302.7,378.8 L303.4,378.6 L304.1,378.3 L304.8,378.0 L305.5,377.7 L306.1,377.4 L306.7,377.2 L307.3,376.9 L307.9,376.7 L308.6,376.4 L309.2,376.1 L309.8,375.8 L310.5,375.6 L311.1,375.3 L311.8,375.0 L312.5,374.7 L313.1,374.4 L313.8,374.1 L314.5,373.8 L315.1,373.5 L315.8,373.2 L316.5,372.8 L317.2,372.5 L317.8,372.2 L318.5,371.9 L319.2,371.6 L319.9,371.2 L320.5,370.9 L321.2,370.6 L321.9,370.3 L322.5,370.0 L323.2,369.7 L323.9,369.4 L324.6,369.2 L324.4,368.8 L323.8,369.1 L323.1,369.3 L322.4,369.6 L321.7,369.8 L321.0,370.0 L320.3,370.2 L319.5,370.4 L318.8,370.6 L318.1,370.8 L317.4,371.0 L316.7,371.2 L316.0,371.5 L315.3,371.7 L314.5,371.9 L313.8,372.1 L313.1,372.3 L312.4,372.5 L311.7,372.8 L311.0,373.0 L310.4,373.2 L309.7,373.4 L309.0,373.7 L308.3,373.9 L307.7,374.1 L307.0,374.4 L306.4,374.6 L305.8,374.8 L305.1,375.1 L304.5,375.3 L303.8,375.6 L303.1,375.9 L302.4,376.1 L301.7,376.4 L301.0,376.7 L300.3,377.0 L299.7,377.3 L299.0,377.5 L298.3,377.8 L297.7,378.1 L297.0,378.3 L296.4,378.6 L295.8,378.9 L295.1,379.2 L294.5,379.4 L293.9,379.7 L293.3,380.0 L292.7,380.3 L292.0,380.5 L291.4,380.8 L290.7,381.2 L290.1,381.5 L289.4,381.8 L288.7,382.2 L288.1,382.5 L287.5,382.8 L286.8,383.2 L286.2,383.5 L285.6,383.8 L285.0,384.2 L284.4,384.5 L283.8,384.9 L283.2,385.4 L282.8,386.1 L282.4,386.8 Z" fill="#2e2e2e"/>
<path d="M290.6,380.0 L291.4,380.0 L292.1,380.2 L292.9,380.3 L293.6,380.4 L294.4,380.3 L295.1,380.2 L295.8,380.1 L296.5,380.0 L297.2,379.9 L297.9,379.6 L298.6,379.3 L299.3,378.9 L300.0,378.7 L300.0,378.3 L299.2,378.3 L298.5,378.1 L297.7,378.0 L297.0,377.9 L296.2,378.0 L295.5,378.1 L294.8,378.2 L294.1,378.3 L293.4,378.4 L292.7,378.7 L292.0,379.0 L291.3,379.4 L290.6,379.6 Z" fill="#2e2e2e"/>
<path d="M307.0,372.2 L307.7,372.2 L308.5,372.3 L309.2,372.4 L309.9,372.5 L310.6,372.5 L311.4,372.5 L312.1,372.4 L312.8,372.3 L313.5,372.2 L314.2,372.2 L314.9,372.1 L315.6,371.9 L316.3,371.7 L317.0,371.4 L317.6,371.1 L318.3,370.8 L319.0,370.7 L319.0,370.3 L318.3,370.3 L317.5,370.2 L316.8,370.1 L316.1,370.0 L315.4,370.0 L314.6,370.0 L313.9,370.1 L313.2,370.2 L312.5,370.3 L311.8,370.3 L311.1,370.4 L310.4,370.6 L309.7,370.8 L309.0,371.1 L308.4,371.4 L307.7,371.7 L307.0,371.8 Z" fill="#2e2e2e"/>
<path d="M331.1,367.6 L331.8,367.5 L332.5,367.5 L333.3,367.5 L334.0,367.4 L334.7,367.2 L335.3,367.0 L336.0,366.7 L336.6,366.5 L337.3,366.2 L337.9,365.8 L338.5,365.3 L339.0,364.8 L339.7,364.5 L339.5,364.1 L338.8,364.2 L338.1,364.2 L337.3,364.2 L336.6,364.3 L335.9,364.5 L335.3,364.7 L334.6,365.0 L334.0,365.2 L333.3,365.5 L332.7,365.9 L332.1,366.4 L331.6,366.9 L330.9,367.2 Z" fill="#2e2e2e"/>
<path d="M362.8,197.5 L363.5,197.4 L364.2,197.3 L364.9,197.1 L365.6,197.0 L366.3,197.0 L367.0,196.9 L367.7,196.8 L368.4,196.7 L369.1,196.7 L369.8,196.6 L370.5,196.5 L371.2,196.4 L371.9,196.3 L372.6,196.2 L373.3,196.1 L374.0,196.0 L374.7,196.0 L375.4,195.9 L376.1,195.8 L376.8,195.7 L377.5,195.6 L378.2,195.5 L378.8,195.4 L379.5,195.3 L380.2,195.2 L380.9,195.1 L381.6,195.0 L382.3,194.9 L383.0,194.8 L383.7,194.7 L384.4,194.6 L385.1,194.5 L385.8,194.5 L386.5,194.4 L387.2,194.4 L387.8,194.3 L388.5,194.3 L389.2,194.2 L389.9,194.2 L390.6,194.2 L391.3,194.1 L392.0,194.1 L392.7,194.1 L393.4,194.0 L394.1,194.0 L394.8,194.0 L395.5,193.9 L396.2,193.9 L396.9,193.8 L397.7,193.8 L398.4,193.8 L399.1,193.7 L399.8,193.7 L400.5,193.6 L401.2,193.6 L401.9,193.5 L402.6,193.4 L403.3,193.4 L404.0,193.3 L404.8,193.2 L405.5,193.2 L406.2,193.1 L406.9,193.1 L407.6,193.0 L408.3,193.0 L409.0,193.0 L409.0,192.6 L408.3,192.6 L407.6,192.6 L406.9,192.7 L406.2,192.6 L405.5,192.6 L404.7,192.5 L404.0,192.5 L403.3,192.4 L402.6,192.4 L401.9,192.3 L401.2,192.3 L400.5,192.2 L399.8,192.2 L399.1,192.1 L398.3,192.1 L397.6,192.1 L396.9,192.1 L396.2,192.0 L395.5,192.0 L394.8,192.0 L394.1,192.0 L393.4,192.0 L392.7,192.0 L391.9,192.0 L391.2,192.0 L390.5,192.1 L389.8,192.1 L389.1,192.1 L388.4,192.2 L387.7,192.2 L387.0,192.3 L386.3,192.3 L385.6,192.4 L384.9,192.5 L384.2,192.5 L383.5,192.6 L382.7,192.7 L382.0,192.8 L381.3,192.9 L380.6,193.0 L379.9,193.1 L379.2,193.2 L378.5,193.3 L377.8,193.5 L377.1,193.6 L376.4,193.7 L375.7,193.9 L375.1,194.0 L374.4,194.2 L373.7,194.4 L373.0,194.5 L372.3,194.7 L371.6,194.9 L370.9,195.1 L370.3,195.2 L369.6,195.4 L368.9,195.6 L368.2,195.8 L367.6,196.0 L366.9,196.2 L366.2,196.4 L365.5,196.6 L364.8,196.7 L364.2,196.9 L363.5,197.0 L362.8,197.1 Z" fill="#2e2e2e"/>
<path d="M375.1,266.9 L375.8,266.6 L376.4,266.4 L377.1,266.2 L377.8,266.0 L378.5,265.8 L379.2,265.6 L379.9,265.4 L380.6,265.2 L381.3,265.1 L382.0,264.9 L382.7,264.7 L383.4,264.6 L384.1,264.4 L384.9,264.3 L385.5,264.2 L386.2,264.1 L386.8,264.0 L387.5,263.9 L388.2,263.8 L388.9,263.7 L389.6,263.6 L390.3,263.5 L391.0,263.4 L391.7,263.3 L392.4,263.2 L393.2,263.1 L393.9,263.1 L394.6,263.0 L395.3,263.0 L396.0,262.9 L396.7,262.9 L397.4,262.9 L398.1,262.9 L398.8,262.9 L399.4,262.9 L400.2,262.9 L400.9,263.0 L401.6,263.0 L402.2,263.1 L402.9,263.2 L403.7,263.3 L404.4,263.4 L405.1,263.5 L405.8,263.6 L406.5,263.7 L407.2,263.8 L407.9,263.9 L408.6,264.0 L409.3,264.1 L410.0,264.2 L410.7,264.4 L411.5,264.5 L412.2,264.7 L412.2,264.3 L411.5,264.2 L410.8,264.0 L410.2,263.8 L409.5,263.6 L408.8,263.3 L408.1,263.1 L407.4,262.8 L406.8,262.6 L406.1,262.3 L405.4,262.1 L404.7,261.9 L404.0,261.7 L403.3,261.5 L402.5,261.3 L401.8,261.2 L401.1,261.1 L400.3,261.0 L399.6,260.9 L398.8,260.8 L398.1,260.8 L397.4,260.8 L396.7,260.8 L395.9,260.8 L395.2,260.9 L394.5,260.9 L393.7,261.0 L393.0,261.0 L392.2,261.1 L391.5,261.2 L390.7,261.3 L390.0,261.4 L389.3,261.5 L388.6,261.6 L387.8,261.7 L387.1,261.9 L386.5,262.0 L385.8,262.2 L385.1,262.3 L384.5,262.5 L383.7,262.7 L383.0,263.0 L382.2,263.3 L381.5,263.5 L380.9,263.8 L380.2,264.1 L379.5,264.4 L378.9,264.8 L378.2,265.1 L377.6,265.4 L377.0,265.7 L376.3,266.0 L375.6,266.3 L374.9,266.5 Z" fill="#2e2e2e"/>
<path d="M362.8,278.8 L363.5,278.8 L364.3,279.1 L365.0,279.2 L365.7,279.3 L366.5,279.4 L367.2,279.3 L367.9,279.3 L368.6,279.2 L369.3,279.2 L370.0,279.1 L370.7,279.1 L371.4,279.0 L372.2,279.0 L372.9,278.9 L373.6,278.9 L374.3,278.9 L375.1,278.9 L375.8,278.8 L376.5,278.8 L377.3,278.8 L377.9,278.9 L378.6,278.9 L379.3,278.9 L380.0,279.0 L380.7,279.0 L381.4,279.1 L382.1,279.2 L382.8,279.2 L383.5,279.3 L384.2,279.4 L385.0,279.5 L385.7,279.6 L386.4,279.7 L387.2,279.8 L387.9,279.8 L388.6,279.9 L389.4,280.0 L390.1,280.1 L390.8,280.1 L391.6,280.2 L392.3,280.3 L393.0,280.3 L393.7,280.3 L394.4,280.4 L395.1,280.4 L395.8,280.3 L396.6,280.3 L397.4,280.3 L398.2,280.3 L398.9,280.2 L399.7,280.2 L400.5,280.1 L401.3,280.1 L402.1,280.0 L402.9,279.9 L403.6,279.8 L404.4,279.8 L405.1,279.7 L405.8,279.5 L406.5,279.4 L407.2,279.3 L407.9,279.2 L408.5,279.0 L409.2,278.8 L409.8,278.7 L410.3,278.5 L411.2,278.2 L412.2,277.8 L413.1,277.4 L413.9,276.9 L414.7,276.5 L415.3,276.0 L415.9,275.4 L416.1,274.4 L415.7,273.5 L415.0,273.0 L414.3,272.7 L413.4,272.4 L412.4,272.2 L411.4,272.0 L410.4,271.8 L409.3,271.7 L408.8,271.6 L408.2,271.6 L407.6,271.6 L407.0,271.6 L406.4,271.6 L405.8,271.6 L405.1,271.7 L404.4,271.7 L403.7,271.8 L403.0,271.9 L402.3,271.9 L401.6,272.0 L400.8,272.1 L400.1,272.2 L399.3,272.3 L398.5,272.4 L397.7,272.5 L396.9,272.6 L396.2,272.8 L395.4,272.9 L394.6,273.0 L393.8,273.1 L393.0,273.2 L392.2,273.4 L391.4,273.5 L390.6,273.6 L389.9,273.7 L389.1,273.7 L388.4,273.8 L387.6,273.8 L386.9,273.9 L386.9,274.3 L387.6,274.2 L388.4,274.2 L389.1,274.1 L389.9,274.1 L390.7,274.0 L391.5,273.9 L392.2,273.9 L393.0,273.8 L393.8,273.8 L394.6,273.8 L395.4,273.7 L396.2,273.7 L397.0,273.6 L397.8,273.6 L398.6,273.5 L399.4,273.5 L400.2,273.4 L400.9,273.4 L401.7,273.4 L402.4,273.3 L403.1,273.3 L403.8,273.3 L404.5,273.3 L405.2,273.3 L405.8,273.3 L406.4,273.3 L407.0,273.3 L407.6,273.4 L408.1,273.4 L408.6,273.5 L409.1,273.5 L410.1,273.7 L411.0,273.9 L412.0,274.1 L412.8,274.3 L413.5,274.6 L414.0,274.8 L414.2,274.9 L414.1,274.6 L414.1,274.3 L414.0,274.4 L413.5,274.7 L412.9,275.1 L412.2,275.5 L411.3,275.9 L410.5,276.2 L409.7,276.5 L409.2,276.7 L408.6,276.8 L408.1,277.0 L407.5,277.1 L406.8,277.2 L406.2,277.4 L405.5,277.5 L404.8,277.6 L404.1,277.7 L403.4,277.8 L402.6,277.8 L401.9,277.9 L401.1,278.0 L400.4,278.0 L399.6,278.1 L398.8,278.1 L398.1,278.2 L397.3,278.2 L396.5,278.2 L395.8,278.3 L395.1,278.3 L394.5,278.3 L393.8,278.2 L393.1,278.2 L392.4,278.2 L391.7,278.1 L391.0,278.1 L390.3,278.0 L389.6,277.9 L388.9,277.8 L388.2,277.8 L387.4,277.7 L386.7,277.6 L386.0,277.5 L385.2,277.4 L384.5,277.3 L383.8,277.2 L383.0,277.2 L382.3,277.1 L381.6,277.0 L380.8,276.9 L380.1,276.9 L379.4,276.8 L378.7,276.8 L378.0,276.8 L377.3,276.8 L376.5,276.7 L375.8,276.7 L375.0,276.8 L374.3,276.8 L373.5,276.8 L372.8,276.8 L372.0,276.9 L371.3,276.9 L370.6,277.0 L369.9,277.0 L369.1,277.1 L368.4,277.1 L367.7,277.2 L367.0,277.3 L366.3,277.3 L365.6,277.5 L364.9,277.7 L364.2,278.0 L363.5,278.3 L362.8,278.4 Z" fill="#2e2e2e"/>
<path d="M365.5,343.4 L366.2,343.7 L366.9,344.1 L367.6,344.3 L368.3,344.4 L369.0,344.4 L369.7,344.4 L370.4,344.4 L371.1,344.5 L371.8,344.5 L372.6,344.5 L373.3,344.5 L374.0,344.6 L374.7,344.6 L375.4,344.6 L376.1,344.6 L376.8,344.7 L377.5,344.7 L378.3,344.7 L379.0,344.7 L379.7,344.7 L380.4,344.8 L381.1,344.8 L381.8,344.8 L382.5,344.8 L383.2,344.8 L383.9,344.9 L384.6,344.9 L385.3,344.9 L386.0,344.9 L386.7,344.9 L387.4,344.9 L388.1,344.9 L388.8,344.9 L389.5,344.9 L390.2,344.9 L390.9,344.9 L391.6,344.9 L392.3,344.9 L393.1,344.9 L393.8,344.9 L394.5,344.8 L395.2,344.8 L396.0,344.8 L396.7,344.8 L397.4,344.7 L398.1,344.7 L398.8,344.6 L399.5,344.6 L400.2,344.5 L400.9,344.5 L401.6,344.4 L402.3,344.3 L403.0,344.3 L403.7,344.2 L404.4,344.1 L405.1,344.0 L405.8,343.9 L406.5,343.8 L407.2,343.8 L407.9,343.7 L408.6,343.6 L409.3,343.5 L410.0,343.4 L410.7,343.3 L411.4,343.2 L412.1,343.1 L412.8,343.0 L413.5,343.0 L414.2,342.9 L414.9,342.9 L414.9,342.5 L414.2,342.5 L413.5,342.6 L412.8,342.6 L412.1,342.6 L411.4,342.6 L410.7,342.6 L410.0,342.5 L409.3,342.5 L408.6,342.5 L407.8,342.5 L407.1,342.5 L406.4,342.5 L405.7,342.5 L405.0,342.5 L404.3,342.5 L403.6,342.5 L402.9,342.5 L402.2,342.5 L401.5,342.5 L400.8,342.5 L400.1,342.5 L399.4,342.5 L398.7,342.5 L398.0,342.5 L397.3,342.6 L396.6,342.6 L395.9,342.6 L395.2,342.6 L394.5,342.6 L393.7,342.7 L393.0,342.7 L392.3,342.7 L391.6,342.7 L390.9,342.7 L390.2,342.7 L389.5,342.7 L388.8,342.7 L388.2,342.7 L387.5,342.7 L386.8,342.7 L386.1,342.7 L385.4,342.7 L384.7,342.7 L384.0,342.7 L383.3,342.6 L382.6,342.6 L381.9,342.6 L381.2,342.6 L380.4,342.6 L379.7,342.5 L379.0,342.5 L378.3,342.5 L377.6,342.5 L376.9,342.5 L376.2,342.4 L375.5,342.4 L374.8,342.4 L374.1,342.4 L373.3,342.3 L372.6,342.3 L371.9,342.3 L371.2,342.3 L370.5,342.2 L369.8,342.2 L369.1,342.2 L368.4,342.2 L367.7,342.2 L366.9,342.4 L366.2,342.7 L365.5,343.0 Z" fill="#2e2e2e"/>
<path d="M365.9,349.1 L366.0,349.9 L366.2,350.7 L366.5,351.4 L366.9,352.0 L367.3,352.6 L367.8,353.2 L368.2,353.8 L368.7,354.3 L369.1,354.9 L369.6,355.5 L370.1,356.1 L370.6,356.7 L371.2,357.2 L371.8,357.7 L372.4,358.2 L373.0,358.7 L373.7,359.1 L374.4,359.4 L375.0,359.7 L375.7,359.9 L376.4,360.1 L377.1,360.3 L377.8,360.5 L378.6,360.6 L379.3,360.7 L380.1,360.8 L380.8,360.9 L381.6,361.0 L382.3,361.1 L383.1,361.1 L383.9,361.2 L384.6,361.2 L385.4,361.2 L386.2,361.3 L386.9,361.3 L387.7,361.4 L388.4,361.4 L389.2,361.4 L389.9,361.5 L390.6,361.5 L391.3,361.6 L392.1,361.6 L392.8,361.6 L393.5,361.6 L394.2,361.6 L395.0,361.6 L395.7,361.6 L396.4,361.5 L397.2,361.5 L397.9,361.5 L398.6,361.4 L399.4,361.3 L400.1,361.3 L400.8,361.2 L401.6,361.2 L402.3,361.1 L403.0,361.0 L403.8,360.9 L404.5,360.9 L405.2,360.8 L405.9,360.8 L406.7,360.8 L407.4,360.8 L407.4,360.4 L406.7,360.4 L405.9,360.4 L405.2,360.4 L404.5,360.3 L403.8,360.2 L403.0,360.1 L402.3,360.1 L401.6,360.0 L400.8,359.9 L400.1,359.9 L399.4,359.8 L398.6,359.8 L397.9,359.7 L397.2,359.7 L396.5,359.6 L395.7,359.5 L395.0,359.5 L394.3,359.4 L393.6,359.4 L392.9,359.3 L392.2,359.3 L391.5,359.2 L390.8,359.2 L390.1,359.1 L389.3,359.0 L388.6,359.0 L387.8,359.0 L387.1,358.9 L386.3,358.9 L385.5,358.8 L384.8,358.8 L384.0,358.8 L383.3,358.7 L382.5,358.7 L381.8,358.6 L381.1,358.5 L380.4,358.5 L379.7,358.4 L379.0,358.2 L378.3,358.1 L377.7,358.0 L377.1,357.8 L376.5,357.6 L375.9,357.4 L375.4,357.2 L374.9,356.9 L374.3,356.6 L373.8,356.3 L373.3,355.9 L372.8,355.5 L372.3,355.0 L371.9,354.5 L371.4,354.0 L371.0,353.4 L370.6,352.9 L370.1,352.3 L369.7,351.7 L369.2,351.1 L368.8,350.5 L368.3,349.9 L367.7,349.5 L366.9,349.2 L366.1,348.9 Z" fill="#2e2e2e"/>
<path d="M446.5,238.0 L447.2,238.3 L447.8,238.8 L448.5,239.0 L449.3,239.1 L450.0,239.2 L450.7,239.2 L451.4,239.3 L452.1,239.3 L452.8,239.4 L453.5,239.5 L454.3,239.5 L455.0,239.6 L455.7,239.6 L456.4,239.7 L457.1,239.7 L457.8,239.8 L458.5,239.9 L459.3,239.9 L460.0,240.0 L460.7,240.0 L461.4,240.1 L462.1,240.2 L462.8,240.2 L463.5,240.3 L464.2,240.4 L464.9,240.5 L465.6,240.5 L466.3,240.6 L467.0,240.7 L467.8,240.8 L468.5,240.9 L469.2,240.9 L469.9,241.0 L470.6,241.1 L471.3,241.2 L472.0,241.3 L472.6,241.4 L473.3,241.5 L474.0,241.7 L474.7,241.8 L475.4,241.9 L476.1,242.0 L476.8,242.1 L477.5,242.2 L478.2,242.4 L478.9,242.5 L479.6,242.6 L480.3,242.7 L481.0,242.8 L481.7,242.9 L482.4,243.0 L483.1,243.1 L483.8,243.2 L484.5,243.3 L485.2,243.4 L485.9,243.5 L486.6,243.5 L487.3,243.6 L488.0,243.7 L488.7,243.7 L489.4,243.8 L490.2,243.8 L490.9,243.9 L491.6,244.0 L492.3,244.1 L493.0,244.2 L493.0,243.8 L492.3,243.7 L491.6,243.6 L491.0,243.4 L490.3,243.2 L489.6,243.0 L488.9,242.8 L488.2,242.6 L487.5,242.4 L486.9,242.2 L486.2,242.0 L485.5,241.8 L484.8,241.6 L484.1,241.5 L483.4,241.3 L482.7,241.1 L482.1,241.0 L481.4,240.8 L480.7,240.7 L480.0,240.5 L479.3,240.4 L478.6,240.3 L477.9,240.2 L477.2,240.0 L476.5,239.9 L475.8,239.8 L475.1,239.7 L474.4,239.6 L473.7,239.5 L473.0,239.4 L472.3,239.3 L471.6,239.2 L470.8,239.1 L470.1,239.0 L469.4,238.9 L468.7,238.8 L468.0,238.7 L467.3,238.6 L466.6,238.5 L465.9,238.4 L465.1,238.4 L464.4,238.3 L463.7,238.2 L463.0,238.2 L462.3,238.1 L461.6,238.0 L460.9,238.0 L460.1,237.9 L459.4,237.8 L458.7,237.8 L458.0,237.7 L457.3,237.7 L456.6,237.6 L455.9,237.5 L455.1,237.5 L454.4,237.4 L453.7,237.4 L453.0,237.3 L452.3,237.2 L451.6,237.2 L450.9,237.1 L450.2,237.1 L449.4,237.0 L448.7,237.0 L448.0,237.1 L447.3,237.4 L446.5,237.6 Z" fill="#2e2e2e"/>
<path d="M439.0,310.5 L439.7,310.8 L440.4,311.2 L441.1,311.4 L441.9,311.5 L442.6,311.5 L443.3,311.5 L444.1,311.6 L444.8,311.6 L445.5,311.6 L446.3,311.6 L447.0,311.7 L447.7,311.7 L448.4,311.7 L449.2,311.8 L449.9,311.8 L450.6,311.8 L451.4,311.9 L452.1,311.9 L452.8,311.9 L453.5,312.0 L454.2,312.0 L454.9,312.0 L455.7,312.1 L456.4,312.1 L457.1,312.2 L457.8,312.2 L458.5,312.3 L459.2,312.3 L459.9,312.4 L460.6,312.4 L461.3,312.4 L462.0,312.5 L462.7,312.5 L463.4,312.6 L464.1,312.6 L464.8,312.7 L465.6,312.7 L466.3,312.8 L467.0,312.8 L467.7,312.9 L468.4,312.9 L469.2,313.0 L469.9,313.0 L470.6,313.1 L471.3,313.1 L472.0,313.1 L472.7,313.2 L473.4,313.2 L474.1,313.2 L474.9,313.3 L475.6,313.3 L476.3,313.3 L477.0,313.3 L477.8,313.3 L478.5,313.3 L479.2,313.3 L479.9,313.3 L480.7,313.3 L481.4,313.3 L482.1,313.3 L482.9,313.3 L483.6,313.3 L484.4,313.3 L485.1,313.3 L485.8,313.3 L486.5,313.4 L487.3,313.4 L488.0,313.5 L488.0,313.1 L487.3,313.0 L486.6,313.0 L485.8,312.9 L485.1,312.8 L484.4,312.7 L483.7,312.6 L482.9,312.5 L482.2,312.4 L481.5,312.3 L480.8,312.2 L480.0,312.1 L479.3,312.0 L478.6,311.9 L477.9,311.8 L477.1,311.7 L476.4,311.6 L475.7,311.5 L475.0,311.4 L474.3,311.4 L473.6,311.3 L472.9,311.2 L472.2,311.1 L471.5,311.1 L470.8,311.0 L470.1,311.0 L469.3,310.9 L468.6,310.8 L467.9,310.8 L467.1,310.7 L466.4,310.7 L465.7,310.6 L465.0,310.6 L464.3,310.5 L463.6,310.5 L462.9,310.4 L462.2,310.4 L461.5,310.3 L460.8,310.3 L460.1,310.3 L459.3,310.2 L458.6,310.2 L457.9,310.1 L457.2,310.1 L456.5,310.0 L455.8,310.0 L455.1,310.0 L454.3,309.9 L453.6,309.9 L452.9,309.8 L452.2,309.8 L451.4,309.8 L450.7,309.7 L450.0,309.7 L449.3,309.7 L448.5,309.6 L447.8,309.6 L447.1,309.6 L446.3,309.6 L445.6,309.5 L444.9,309.5 L444.2,309.5 L443.4,309.4 L442.7,309.4 L442.0,309.4 L441.2,309.4 L440.5,309.5 L439.7,309.9 L439.0,310.1 Z" fill="#2e2e2e"/>
<path d="M454.6,304.8 L455.3,304.7 L456.0,304.7 L456.7,304.7 L457.4,304.8 L458.1,304.8 L458.9,304.8 L459.6,304.8 L460.3,304.9 L461.0,304.9 L461.7,304.9 L462.4,304.9 L463.1,304.9 L463.8,304.9 L464.5,304.8 L465.2,304.8 L465.9,304.8 L466.6,304.7 L467.3,304.7 L468.0,304.6 L468.7,304.6 L469.4,304.6 L470.0,304.5 L470.8,304.5 L471.5,304.5 L472.2,304.5 L472.9,304.5 L473.6,304.4 L474.4,304.4 L475.1,304.4 L475.8,304.3 L476.5,304.3 L477.2,304.2 L477.9,304.2 L478.7,304.1 L479.4,304.0 L480.1,304.0 L480.8,303.9 L481.5,303.8 L482.2,303.7 L483.0,303.6 L483.7,303.6 L484.4,303.6 L484.4,303.2 L483.7,303.2 L483.0,303.2 L482.2,303.1 L481.5,303.0 L480.8,302.9 L480.1,302.8 L479.4,302.8 L478.7,302.7 L477.9,302.6 L477.2,302.5 L476.5,302.5 L475.8,302.4 L475.1,302.4 L474.3,302.4 L473.6,302.4 L472.9,302.4 L472.2,302.4 L471.4,302.4 L470.7,302.4 L470.0,302.5 L469.3,302.5 L468.6,302.5 L467.9,302.6 L467.2,302.6 L466.5,302.6 L465.8,302.7 L465.1,302.7 L464.4,302.8 L463.7,302.9 L463.0,303.0 L462.3,303.1 L461.6,303.2 L460.9,303.3 L460.2,303.5 L459.5,303.6 L458.8,303.7 L458.1,303.9 L457.4,304.0 L456.7,304.2 L456.0,304.3 L455.3,304.3 L454.6,304.4 Z" fill="#2e2e2e"/>
<path d="M461.9,313.8 L462.5,313.9 L463.2,314.1 L463.9,314.4 L464.5,314.6 L465.2,314.9 L465.8,315.2 L466.5,315.4 L467.2,315.7 L467.8,315.9 L468.5,316.1 L469.2,316.3 L469.9,316.5 L470.6,316.7 L471.3,316.8 L472.1,316.9 L472.8,317.0 L473.5,317.0 L474.3,317.0 L475.0,317.0 L475.7,317.0 L476.4,316.9 L477.2,316.8 L477.9,316.7 L478.6,316.6 L479.3,316.5 L480.0,316.3 L480.7,316.1 L481.4,315.9 L482.1,315.7 L482.8,315.4 L483.5,315.2 L484.2,314.9 L484.9,314.6 L485.6,314.3 L486.3,314.1 L487.0,313.8 L487.6,313.5 L488.3,313.3 L489.0,313.2 L489.0,312.8 L488.3,313.0 L487.5,313.1 L486.8,313.2 L486.1,313.3 L485.3,313.3 L484.6,313.4 L483.9,313.5 L483.1,313.7 L482.4,313.8 L481.7,313.9 L481.0,314.0 L480.3,314.2 L479.6,314.3 L478.9,314.4 L478.2,314.5 L477.5,314.7 L476.9,314.8 L476.2,314.8 L475.6,314.9 L474.9,314.9 L474.3,315.0 L473.6,314.9 L473.0,314.9 L472.3,314.8 L471.6,314.8 L470.9,314.7 L470.3,314.6 L469.6,314.5 L468.9,314.4 L468.2,314.3 L467.5,314.2 L466.8,314.1 L466.1,314.0 L465.4,313.9 L464.7,313.8 L464.0,313.8 L463.3,313.7 L462.6,313.5 L461.9,313.4 Z" fill="#2e2e2e"/>
<path d="M435.4,367.0 L436.0,367.8 L436.6,368.3 L437.3,368.5 L437.9,368.7 L438.6,368.9 L439.3,369.1 L440.0,369.3 L440.7,369.5 L441.4,369.7 L442.1,369.9 L442.8,370.1 L443.5,370.3 L444.2,370.5 L444.9,370.7 L445.5,370.9 L446.2,371.1 L446.9,371.3 L447.6,371.5 L448.3,371.7 L449.0,371.9 L449.7,372.1 L450.4,372.3 L451.0,372.5 L451.7,372.7 L452.4,372.9 L453.1,373.1 L453.8,373.3 L454.5,373.5 L455.2,373.7 L455.9,373.9 L456.6,374.1 L457.3,374.2 L458.0,374.4 L458.7,374.5 L459.4,374.7 L460.1,374.8 L460.8,374.9 L461.5,375.0 L462.2,375.2 L463.0,375.3 L463.7,375.5 L464.3,375.7 L464.5,375.3 L463.8,375.1 L463.1,374.9 L462.4,374.6 L461.8,374.2 L461.1,373.9 L460.5,373.6 L459.8,373.3 L459.2,373.0 L458.5,372.7 L457.8,372.5 L457.2,372.2 L456.5,371.9 L455.8,371.7 L455.1,371.4 L454.5,371.2 L453.8,371.0 L453.1,370.7 L452.4,370.5 L451.7,370.3 L451.0,370.1 L450.3,369.9 L449.6,369.7 L449.0,369.5 L448.3,369.3 L447.6,369.1 L446.9,368.9 L446.2,368.7 L445.5,368.5 L444.8,368.3 L444.1,368.1 L443.4,367.9 L442.7,367.7 L442.0,367.5 L441.3,367.3 L440.7,367.1 L440.0,366.9 L439.3,366.7 L438.6,366.5 L437.9,366.3 L437.2,366.1 L436.4,366.2 L435.6,366.6 Z" fill="#2e2e2e"/>
<path d="M466.8,378.8 L467.5,379.0 L468.1,379.3 L468.8,379.6 L469.5,379.9 L470.1,380.1 L470.8,380.3 L471.5,380.4 L472.2,380.5 L472.9,380.6 L473.6,380.8 L474.3,380.8 L475.1,380.8 L475.8,380.8 L476.5,380.7 L477.3,380.5 L478.0,380.6 L478.0,380.2 L477.3,380.0 L476.7,379.7 L476.0,379.4 L475.3,379.1 L474.7,378.9 L474.0,378.7 L473.3,378.6 L472.6,378.5 L471.9,378.4 L471.2,378.2 L470.5,378.2 L469.7,378.2 L469.0,378.2 L468.3,378.3 L467.5,378.5 L466.8,378.4 Z" fill="#2e2e2e"/>
<path d="M434.4,374.5 L434.7,375.4 L435.2,376.0 L435.8,376.3 L436.4,376.6 L437.0,377.0 L437.6,377.3 L438.2,377.6 L438.9,378.0 L439.5,378.3 L440.1,378.6 L440.7,379.0 L441.3,379.3 L441.9,379.6 L442.6,380.0 L443.2,380.3 L443.8,380.7 L444.4,381.0 L445.1,381.3 L445.7,381.7 L446.3,382.0 L446.9,382.4 L447.5,382.7 L448.2,383.0 L448.8,383.4 L449.5,383.7 L450.1,384.0 L450.8,384.3 L451.5,384.6 L452.2,384.9 L452.8,385.1 L453.5,385.4 L454.2,385.6 L454.9,385.9 L455.6,386.1 L456.3,386.4 L456.9,386.8 L457.1,386.4 L456.5,386.1 L455.9,385.7 L455.3,385.2 L454.7,384.8 L454.1,384.3 L453.5,383.9 L452.9,383.4 L452.3,383.0 L451.7,382.6 L451.1,382.2 L450.5,381.8 L449.9,381.4 L449.3,381.0 L448.7,380.7 L448.0,380.3 L447.4,380.0 L446.8,379.7 L446.2,379.3 L445.6,379.0 L444.9,378.6 L444.3,378.3 L443.7,378.0 L443.0,377.6 L442.4,377.3 L441.8,376.9 L441.2,376.6 L440.6,376.3 L439.9,375.9 L439.3,375.6 L438.7,375.3 L438.1,375.0 L437.5,374.6 L436.9,374.3 L436.3,374.0 L435.5,373.9 L434.6,374.1 Z" fill="#2e2e2e"/>
<path d="M461.8,388.7 L462.5,389.1 L463.0,389.6 L463.6,390.1 L464.3,390.4 L464.9,390.6 L465.6,390.9 L466.3,391.1 L467.0,391.2 L467.7,391.2 L468.5,391.1 L469.2,391.2 L469.4,390.8 L468.7,390.4 L468.2,389.9 L467.6,389.4 L466.9,389.1 L466.3,388.9 L465.6,388.6 L464.9,388.4 L464.2,388.3 L463.5,388.3 L462.7,388.4 L462.0,388.3 Z" fill="#2e2e2e"/>
<path d="M476.7,392.4 L477.4,392.4 L478.1,392.7 L478.9,392.9 L479.6,393.0 L480.3,393.0 L481.0,393.0 L481.7,392.9 L482.4,392.9 L483.1,392.8 L483.8,392.7 L484.5,392.5 L485.2,392.2 L485.9,391.9 L486.6,391.8 L486.6,391.4 L485.9,391.4 L485.2,391.1 L484.4,390.9 L483.7,390.8 L483.0,390.8 L482.3,390.8 L481.6,390.9 L480.9,390.9 L480.2,391.0 L479.5,391.1 L478.8,391.3 L478.1,391.6 L477.4,391.9 L476.7,392.0 Z" fill="#2e2e2e"/>
<path d="M514.5,315.9 L515.1,316.3 L515.8,316.7 L516.5,317.0 L517.2,317.0 L517.9,317.1 L518.6,317.2 L519.3,317.3 L520.0,317.3 L520.7,317.4 L521.4,317.5 L522.1,317.6 L522.8,317.6 L523.5,317.7 L524.2,317.8 L524.9,317.8 L525.6,317.9 L526.3,318.0 L527.1,318.1 L527.8,318.1 L528.5,318.2 L529.2,318.3 L529.9,318.4 L530.6,318.5 L531.3,318.6 L532.0,318.6 L532.7,318.7 L533.4,318.8 L534.1,318.9 L534.8,319.0 L535.5,319.1 L536.2,319.2 L536.9,319.3 L537.6,319.5 L538.3,319.6 L539.0,319.7 L539.7,319.8 L540.4,319.9 L541.1,320.0 L541.8,320.2 L542.4,320.3 L543.1,320.4 L543.8,320.5 L544.5,320.7 L545.3,320.8 L546.0,320.9 L546.7,321.0 L547.4,321.1 L548.1,321.2 L548.8,321.3 L549.5,321.4 L550.2,321.5 L550.9,321.6 L551.7,321.6 L552.4,321.7 L553.1,321.7 L553.8,321.8 L554.5,321.8 L555.2,321.9 L556.0,321.9 L556.7,322.1 L557.4,322.2 L557.4,321.8 L556.7,321.7 L556.0,321.6 L555.3,321.4 L554.7,321.1 L554.0,320.9 L553.3,320.7 L552.6,320.5 L551.9,320.3 L551.2,320.1 L550.5,319.9 L549.8,319.7 L549.1,319.5 L548.4,319.4 L547.7,319.2 L547.0,319.0 L546.3,318.9 L545.6,318.7 L544.9,318.6 L544.2,318.5 L543.5,318.3 L542.8,318.2 L542.1,318.1 L541.4,318.0 L540.7,317.9 L540.0,317.7 L539.3,317.6 L538.6,317.5 L537.9,317.4 L537.2,317.3 L536.5,317.2 L535.8,317.1 L535.2,317.0 L534.4,316.9 L533.7,316.8 L533.0,316.7 L532.3,316.6 L531.5,316.5 L530.8,316.4 L530.1,316.3 L529.4,316.2 L528.7,316.1 L528.0,316.1 L527.3,316.0 L526.6,315.9 L525.9,315.8 L525.2,315.8 L524.5,315.7 L523.8,315.6 L523.0,315.5 L522.3,315.5 L521.6,315.4 L520.9,315.3 L520.2,315.2 L519.5,315.2 L518.8,315.1 L518.1,315.0 L517.4,315.0 L516.7,314.9 L516.0,315.0 L515.3,315.3 L514.5,315.5 Z" fill="#2e2e2e"/>
<path d="M506.5,369.5 L507.2,369.9 L508.0,370.2 L508.7,370.2 L509.4,370.2 L510.1,370.1 L510.8,370.1 L511.4,370.0 L512.1,370.0 L512.8,369.9 L513.5,369.9 L514.2,369.8 L514.9,369.8 L515.6,369.8 L516.4,369.8 L517.1,369.7 L517.9,369.7 L518.7,369.7 L519.5,369.7 L520.1,369.8 L520.7,369.8 L521.3,369.8 L521.9,369.8 L522.6,369.9 L523.2,369.9 L523.9,370.0 L524.5,370.0 L525.2,370.1 L525.9,370.1 L526.6,370.2 L527.3,370.3 L528.0,370.3 L528.7,370.4 L529.5,370.5 L530.2,370.5 L530.9,370.6 L531.7,370.7 L532.4,370.7 L533.2,370.8 L533.9,370.8 L534.6,370.9 L535.4,370.9 L536.2,370.9 L536.9,371.0 L537.7,371.0 L538.4,371.0 L539.2,371.0 L539.9,371.0 L540.6,371.0 L541.4,371.0 L542.1,371.0 L542.9,371.1 L543.6,371.1 L544.3,371.2 L544.3,370.8 L543.6,370.7 L542.9,370.7 L542.2,370.6 L541.5,370.4 L540.7,370.3 L540.0,370.1 L539.3,370.0 L538.5,369.8 L537.8,369.7 L537.1,369.5 L536.3,369.4 L535.6,369.2 L534.8,369.1 L534.1,369.0 L533.4,368.9 L532.6,368.8 L531.9,368.7 L531.1,368.6 L530.4,368.5 L529.7,368.4 L529.0,368.3 L528.2,368.2 L527.5,368.2 L526.8,368.1 L526.1,368.0 L525.4,368.0 L524.7,367.9 L524.0,367.9 L523.4,367.8 L522.7,367.8 L522.0,367.8 L521.4,367.7 L520.8,367.7 L520.1,367.7 L519.5,367.7 L518.7,367.6 L517.9,367.6 L517.1,367.6 L516.3,367.7 L515.6,367.7 L514.8,367.7 L514.1,367.7 L513.4,367.8 L512.7,367.8 L512.0,367.9 L511.3,367.9 L510.6,368.0 L509.9,368.0 L509.2,368.1 L508.5,368.1 L507.9,368.3 L507.2,368.7 L506.5,369.1 Z" fill="#2e2e2e"/>
<path d="M510.7,370.2 L511.4,370.4 L512.1,370.7 L512.7,370.9 L513.4,371.2 L514.0,371.5 L514.6,371.9 L515.2,372.2 L515.9,372.5 L516.5,372.8 L517.1,373.1 L517.7,373.4 L518.4,373.7 L519.1,374.0 L519.7,374.3 L520.4,374.5 L521.1,374.8 L521.8,375.0 L522.5,375.2 L523.2,375.5 L524.0,375.6 L524.8,375.8 L525.5,375.9 L526.2,376.0 L526.8,376.1 L527.5,376.2 L528.2,376.3 L528.9,376.3 L529.6,376.4 L530.3,376.4 L531.0,376.4 L531.7,376.4 L532.4,376.4 L533.1,376.4 L533.8,376.4 L534.6,376.4 L535.3,376.4 L536.0,376.4 L536.8,376.3 L537.5,376.3 L538.2,376.2 L539.0,376.1 L539.7,376.1 L540.4,376.0 L541.2,375.9 L541.9,375.8 L542.7,375.7 L543.4,375.6 L544.1,375.5 L544.9,375.4 L545.6,375.3 L546.3,375.2 L547.0,375.1 L547.8,375.1 L548.5,375.1 L549.2,375.1 L549.2,374.7 L548.5,374.7 L547.8,374.7 L547.0,374.7 L546.3,374.6 L545.6,374.6 L544.8,374.5 L544.1,374.5 L543.4,374.5 L542.6,374.4 L541.9,374.4 L541.1,374.4 L540.4,374.4 L539.6,374.4 L538.9,374.3 L538.2,374.3 L537.4,374.3 L536.7,374.3 L536.0,374.3 L535.2,374.3 L534.5,374.3 L533.8,374.3 L533.1,374.3 L532.4,374.3 L531.7,374.3 L531.0,374.3 L530.3,374.3 L529.7,374.3 L529.0,374.2 L528.4,374.2 L527.7,374.1 L527.1,374.0 L526.5,374.0 L525.9,373.9 L525.1,373.7 L524.4,373.6 L523.7,373.5 L523.0,373.3 L522.3,373.1 L521.6,373.0 L521.0,372.8 L520.3,372.6 L519.6,372.4 L518.9,372.2 L518.3,372.0 L517.6,371.8 L516.9,371.6 L516.3,371.4 L515.6,371.2 L514.9,371.1 L514.2,370.9 L513.6,370.7 L512.9,370.5 L512.2,370.3 L511.5,370.0 L510.9,369.8 Z" fill="#2e2e2e"/>
<path d="M499.9,419.2 L500.2,420.1 L500.7,420.7 L501.3,421.1 L502.0,421.4 L502.6,421.8 L503.2,422.1 L503.9,422.4 L504.5,422.8 L505.1,423.1 L505.8,423.4 L506.4,423.8 L507.0,424.1 L507.6,424.4 L508.3,424.8 L508.9,425.1 L509.5,425.5 L510.1,425.9 L510.7,426.2 L511.4,426.6 L512.0,427.0 L512.5,427.4 L513.1,427.8 L513.7,428.1 L514.3,428.5 L514.9,428.9 L515.5,429.3 L516.1,429.7 L516.7,430.1 L517.3,430.5 L518.0,430.9 L518.6,431.2 L519.2,431.6 L519.9,432.0 L520.5,432.3 L521.2,432.7 L521.9,433.0 L522.5,433.3 L523.2,433.7 L523.8,434.0 L524.4,434.5 L524.6,434.1 L524.0,433.7 L523.4,433.3 L522.9,432.8 L522.4,432.2 L521.9,431.7 L521.3,431.2 L520.8,430.7 L520.2,430.2 L519.7,429.7 L519.1,429.2 L518.6,428.8 L518.0,428.3 L517.4,427.8 L516.9,427.4 L516.3,427.0 L515.7,426.6 L515.1,426.1 L514.5,425.7 L513.8,425.4 L513.2,425.0 L512.6,424.6 L512.0,424.2 L511.4,423.8 L510.7,423.4 L510.1,423.1 L509.4,422.7 L508.8,422.3 L508.2,422.0 L507.5,421.7 L506.9,421.3 L506.3,421.0 L505.6,420.6 L505.0,420.3 L504.4,420.0 L503.7,419.6 L503.1,419.3 L502.5,419.0 L501.8,418.6 L501.0,418.6 L500.1,418.8 Z" fill="#2e2e2e"/>
<path d="M530.5,436.9 L531.2,437.1 L531.9,437.4 L532.5,437.7 L533.2,438.1 L533.8,438.4 L534.5,438.7 L535.2,439.0 L535.8,439.3 L536.5,439.5 L537.2,439.8 L537.9,440.0 L538.6,440.2 L539.3,440.4 L539.9,440.6 L540.6,440.8 L541.3,441.0 L542.0,441.2 L542.7,441.4 L543.4,441.6 L544.1,441.7 L544.8,441.8 L545.6,441.9 L546.3,442.0 L547.0,442.1 L547.7,442.2 L548.5,442.3 L549.1,442.5 L549.3,442.1 L548.6,441.9 L547.9,441.6 L547.3,441.3 L546.6,440.9 L546.0,440.6 L545.3,440.3 L544.6,440.0 L544.0,439.7 L543.3,439.5 L542.6,439.2 L541.9,439.0 L541.2,438.8 L540.5,438.6 L539.9,438.4 L539.2,438.2 L538.5,438.0 L537.8,437.8 L537.1,437.6 L536.4,437.4 L535.7,437.3 L535.0,437.2 L534.2,437.1 L533.5,437.0 L532.8,436.9 L532.1,436.8 L531.3,436.7 L530.7,436.5 Z" fill="#2e2e2e"/>
<path d="M511.3,413.3 L511.4,414.0 L511.4,414.7 L511.4,415.5 L511.4,416.2 L511.5,417.0 L511.7,417.7 L511.8,418.4 L512.0,419.1 L512.2,419.8 L512.4,420.5 L512.7,421.2 L513.0,421.8 L513.3,422.5 L513.7,423.1 L514.2,423.8 L514.4,424.5 L514.8,424.3 L514.7,423.6 L514.7,422.9 L514.7,422.1 L514.7,421.4 L514.6,420.6 L514.4,419.9 L514.3,419.2 L514.1,418.5 L513.9,417.8 L513.7,417.1 L513.4,416.4 L513.1,415.8 L512.8,415.1 L512.4,414.5 L511.9,413.8 L511.7,413.1 Z" fill="#2e2e2e"/>
<path d="M534.3,446.8 L534.9,447.2 L535.4,447.7 L535.9,448.2 L536.4,448.7 L536.9,449.2 L537.5,449.7 L538.0,450.1 L538.6,450.6 L539.2,451.0 L539.7,451.4 L540.3,451.8 L540.9,452.2 L541.5,452.6 L542.1,453.0 L542.7,453.4 L543.3,453.8 L543.9,454.2 L544.5,454.5 L545.2,454.8 L545.8,455.1 L546.5,455.4 L547.2,455.7 L547.8,456.0 L548.5,456.3 L549.1,456.7 L549.3,456.3 L548.7,455.9 L548.2,455.4 L547.7,454.9 L547.2,454.4 L546.7,453.9 L546.1,453.4 L545.6,453.0 L545.0,452.5 L544.4,452.1 L543.9,451.7 L543.3,451.3 L542.7,450.9 L542.1,450.5 L541.5,450.1 L540.9,449.7 L540.3,449.3 L539.7,448.9 L539.1,448.6 L538.4,448.3 L537.8,448.0 L537.1,447.7 L536.4,447.4 L535.8,447.1 L535.1,446.8 L534.5,446.4 Z" fill="#2e2e2e"/>
<path d="M538.7,530.3 L539.3,530.7 L539.7,531.2 L540.2,531.8 L540.7,532.3 L541.2,532.9 L541.7,533.4 L542.2,533.8 L542.8,534.3 L543.4,534.7 L543.9,535.1 L544.5,535.5 L545.1,535.9 L545.7,536.3 L546.3,536.7 L546.9,537.1 L547.5,537.4 L548.2,537.7 L548.8,538.0 L549.5,538.3 L550.2,538.5 L550.8,539.0 L551.0,538.6 L550.4,538.2 L550.0,537.7 L549.5,537.1 L549.0,536.6 L548.5,536.0 L548.0,535.5 L547.5,535.1 L546.9,534.6 L546.3,534.2 L545.8,533.8 L545.2,533.4 L544.6,533.0 L544.0,532.6 L543.4,532.2 L542.8,531.8 L542.2,531.5 L541.5,531.2 L540.9,530.9 L540.2,530.6 L539.5,530.4 L538.9,529.9 Z" fill="#2e2e2e"/>
<path d="M159.6,462.2 L160.5,462.5 L161.3,462.5 L162.0,462.2 L162.7,461.9 L163.4,461.6 L164.1,461.4 L164.9,461.1 L165.6,460.8 L166.4,460.5 L167.0,460.3 L167.6,460.1 L168.3,459.9 L169.0,459.7 L169.6,459.5 L170.3,459.2 L171.0,459.0 L171.7,458.8 L172.5,458.5 L173.2,458.3 L173.9,458.0 L174.7,457.7 L175.4,457.4 L176.0,457.1 L176.7,456.9 L177.3,456.6 L177.9,456.3 L178.6,455.9 L179.2,455.6 L179.8,455.2 L180.5,454.9 L181.1,454.5 L181.7,454.1 L182.3,453.7 L183.0,453.3 L183.6,452.8 L184.2,452.4 L184.8,452.0 L185.4,451.6 L186.0,451.1 L186.6,450.8 L187.3,450.5 L187.1,450.1 L186.5,450.4 L185.8,450.8 L185.1,451.0 L184.4,451.3 L183.7,451.5 L183.0,451.8 L182.3,452.1 L181.6,452.3 L180.9,452.6 L180.3,452.9 L179.6,453.2 L178.9,453.4 L178.3,453.7 L177.6,454.0 L177.0,454.3 L176.4,454.6 L175.8,454.9 L175.2,455.1 L174.6,455.4 L173.9,455.7 L173.2,455.9 L172.4,456.2 L171.7,456.5 L171.0,456.7 L170.3,456.9 L169.7,457.1 L169.0,457.4 L168.3,457.6 L167.6,457.8 L166.9,458.0 L166.3,458.2 L165.6,458.5 L164.8,458.8 L164.1,459.0 L163.4,459.3 L162.6,459.6 L161.9,459.9 L161.2,460.1 L160.5,460.4 L159.9,461.0 L159.4,461.8 Z" fill="#2e2e2e"/>
<path d="M185.6,446.2 L186.2,445.8 L186.9,445.5 L187.6,445.2 L188.3,444.9 L188.9,444.7 L189.6,444.4 L190.3,444.1 L191.0,443.8 L191.6,443.5 L192.3,443.2 L193.0,442.9 L193.6,442.6 L194.3,442.3 L194.9,441.9 L195.6,441.5 L196.2,441.2 L196.9,440.8 L197.5,440.4 L198.1,440.0 L198.7,439.7 L199.3,439.3 L199.9,438.9 L200.5,438.6 L201.1,438.2 L201.7,437.8 L202.3,437.4 L202.9,437.0 L203.4,436.5 L204.0,436.1 L204.6,435.7 L205.1,435.2 L205.7,434.8 L206.2,434.3 L206.8,433.8 L207.3,433.4 L207.9,432.9 L208.4,432.4 L209.0,432.1 L209.6,431.7 L209.4,431.3 L208.8,431.7 L208.2,432.1 L207.5,432.4 L206.9,432.7 L206.2,433.0 L205.6,433.3 L205.0,433.6 L204.3,434.0 L203.7,434.3 L203.0,434.6 L202.4,435.0 L201.8,435.3 L201.2,435.7 L200.6,436.0 L200.0,436.4 L199.4,436.8 L198.8,437.2 L198.2,437.5 L197.6,437.9 L197.0,438.2 L196.5,438.6 L195.8,439.0 L195.2,439.4 L194.5,439.7 L193.9,440.1 L193.3,440.5 L192.7,440.9 L192.0,441.3 L191.4,441.7 L190.8,442.1 L190.2,442.5 L189.6,442.9 L189.0,443.3 L188.4,443.8 L187.8,444.2 L187.3,444.7 L186.7,445.1 L186.0,445.5 L185.4,445.8 Z" fill="#2e2e2e"/>
<path d="M215.1,598.9 L215.9,598.7 L216.7,598.4 L217.3,598.0 L217.8,597.5 L218.3,597.0 L218.8,596.5 L219.3,596.0 L219.8,595.5 L220.3,595.0 L220.8,594.5 L221.4,594.0 L221.9,593.5 L222.4,592.9 L222.9,592.4 L223.4,591.9 L223.9,591.3 L224.4,590.7 L224.9,590.1 L225.4,589.5 L225.9,588.9 L226.3,588.2 L226.8,587.6 L227.1,587.0 L227.5,586.4 L227.8,585.9 L228.2,585.3 L228.5,584.7 L228.8,584.0 L229.1,583.4 L229.4,582.8 L229.7,582.1 L230.0,581.5 L230.3,580.8 L230.6,580.1 L230.9,579.5 L231.2,578.8 L231.4,578.1 L231.7,577.4 L231.9,576.7 L232.2,576.0 L232.4,575.3 L232.6,574.6 L232.9,573.9 L233.1,573.2 L233.3,572.5 L233.5,571.7 L233.7,571.0 L233.9,570.3 L234.1,569.6 L234.3,568.9 L234.5,568.2 L234.8,567.5 L235.0,566.8 L235.3,566.1 L235.6,565.5 L235.2,565.3 L234.9,566.0 L234.6,566.6 L234.3,567.3 L234.0,568.0 L233.7,568.6 L233.3,569.3 L233.0,569.9 L232.7,570.6 L232.3,571.3 L232.0,572.0 L231.7,572.6 L231.4,573.3 L231.1,574.0 L230.7,574.7 L230.4,575.3 L230.1,576.0 L229.8,576.7 L229.6,577.3 L229.3,578.0 L229.0,578.7 L228.7,579.3 L228.4,580.0 L228.1,580.6 L227.8,581.2 L227.5,581.9 L227.2,582.5 L226.9,583.1 L226.6,583.7 L226.3,584.3 L226.0,584.8 L225.7,585.4 L225.4,585.9 L225.0,586.4 L224.6,587.1 L224.2,587.7 L223.7,588.2 L223.3,588.8 L222.8,589.4 L222.3,589.9 L221.9,590.4 L221.4,591.0 L220.9,591.5 L220.4,592.0 L219.9,592.5 L219.4,593.0 L218.9,593.5 L218.4,594.0 L217.8,594.5 L217.3,595.0 L216.8,595.5 L216.3,596.0 L215.8,596.5 L215.3,597.1 L215.1,597.9 L214.9,598.7 Z" fill="#2e2e2e"/>
<path d="M231.1,563.9 L231.7,563.4 L232.4,563.1 L233.0,562.8 L233.7,562.5 L234.3,562.1 L234.9,561.7 L235.5,561.3 L236.1,560.8 L236.6,560.4 L237.2,559.9 L237.7,559.5 L238.3,559.0 L238.8,558.5 L239.3,558.0 L239.8,557.4 L240.2,556.8 L240.7,556.2 L241.1,555.6 L241.6,555.2 L241.4,554.8 L240.8,555.3 L240.1,555.6 L239.5,555.9 L238.8,556.2 L238.2,556.6 L237.6,557.0 L237.0,557.4 L236.4,557.9 L235.9,558.3 L235.3,558.8 L234.8,559.2 L234.2,559.7 L233.7,560.2 L233.2,560.7 L232.7,561.3 L232.3,561.9 L231.8,562.5 L231.4,563.1 L230.9,563.5 Z" fill="#2e2e2e"/>
<path d="M234.6,551.7 L235.2,551.2 L235.9,550.9 L236.6,550.6 L237.3,550.3 L237.9,549.9 L238.5,549.5 L239.1,549.1 L239.6,548.6 L240.2,548.2 L240.8,547.7 L241.3,547.3 L241.8,546.7 L242.3,546.2 L242.7,545.6 L243.2,545.0 L243.6,544.3 L244.1,543.9 L243.9,543.5 L243.3,544.0 L242.6,544.3 L241.9,544.6 L241.2,544.9 L240.6,545.3 L240.0,545.7 L239.4,546.1 L238.9,546.6 L238.3,547.0 L237.7,547.5 L237.2,547.9 L236.7,548.5 L236.2,549.0 L235.8,549.6 L235.3,550.2 L234.9,550.9 L234.4,551.3 Z" fill="#2e2e2e"/>
<path d="M261.0,504.5 L261.8,505.2 L262.5,505.3 L263.2,505.3 L263.9,505.3 L264.6,505.2 L265.4,505.2 L266.1,505.2 L266.8,505.2 L267.5,505.1 L268.2,505.1 L269.0,505.1 L269.7,505.1 L270.4,505.0 L271.1,505.0 L271.8,505.0 L272.6,504.9 L273.3,504.9 L274.0,504.8 L274.7,504.8 L275.4,504.7 L276.2,504.6 L276.9,504.5 L277.6,504.4 L278.3,504.3 L279.0,504.1 L279.7,504.0 L280.5,503.9 L281.2,503.8 L281.9,503.8 L281.9,503.4 L281.2,503.4 L280.5,503.4 L279.7,503.3 L279.0,503.3 L278.3,503.2 L277.6,503.1 L276.8,503.0 L276.1,503.0 L275.4,502.9 L274.7,502.9 L273.9,502.9 L273.2,502.9 L272.5,502.9 L271.8,502.9 L271.1,502.9 L270.3,502.9 L269.6,503.0 L268.9,503.0 L268.2,503.0 L267.5,503.0 L266.7,503.1 L266.0,503.1 L265.3,503.1 L264.6,503.1 L263.8,503.2 L263.1,503.2 L262.4,503.2 L261.7,503.3 L261.0,504.1 Z" fill="#2e2e2e"/>
<path d="M250.8,503.0 L250.7,503.7 L250.5,504.4 L250.3,505.1 L250.0,505.8 L249.8,506.5 L249.7,507.2 L249.6,507.9 L249.5,508.6 L249.4,509.3 L249.3,510.0 L249.3,510.7 L249.2,511.4 L249.2,512.1 L249.1,512.8 L249.1,513.6 L249.2,514.3 L249.2,515.0 L249.3,515.7 L249.4,516.4 L249.6,517.2 L249.5,517.9 L249.9,517.9 L250.0,517.2 L250.2,516.5 L250.4,515.8 L250.7,515.1 L250.9,514.4 L251.0,513.7 L251.1,513.0 L251.2,512.3 L251.3,511.6 L251.4,510.9 L251.4,510.2 L251.5,509.5 L251.5,508.8 L251.6,508.1 L251.6,507.3 L251.5,506.6 L251.5,505.9 L251.4,505.2 L251.3,504.5 L251.1,503.7 L251.2,503.0 Z" fill="#2e2e2e"/>
<path d="M260.6,506.6 L260.3,507.3 L259.8,507.8 L259.4,508.4 L259.0,509.0 L258.6,509.6 L258.3,510.3 L258.1,511.0 L257.8,511.6 L257.6,512.3 L257.4,512.9 L257.2,513.6 L257.1,514.4 L257.1,515.1 L257.1,515.8 L256.9,516.5 L257.3,516.7 L257.6,516.0 L258.1,515.5 L258.5,514.9 L258.9,514.3 L259.3,513.7 L259.6,513.0 L259.8,512.3 L260.1,511.7 L260.3,511.0 L260.5,510.4 L260.7,509.7 L260.8,508.9 L260.8,508.2 L260.8,507.5 L261.0,506.8 Z" fill="#2e2e2e"/>
<path d="M263.1,505.5 L263.1,506.3 L262.9,507.0 L262.8,507.8 L262.7,508.5 L262.8,509.3 L262.9,510.0 L263.0,510.7 L263.2,511.4 L263.4,512.2 L263.8,512.8 L264.2,513.5 L264.4,514.2 L264.8,514.2 L264.8,513.4 L265.0,512.7 L265.1,511.9 L265.2,511.2 L265.1,510.4 L265.0,509.7 L264.9,509.0 L264.7,508.3 L264.5,507.5 L264.1,506.9 L263.7,506.2 L263.5,505.5 Z" fill="#2e2e2e"/>
<path d="M269.1,488.7 L269.9,488.8 L270.7,488.8 L271.4,488.5 L272.0,488.2 L272.7,487.8 L273.3,487.5 L274.0,487.2 L274.6,486.8 L275.3,486.5 L275.9,486.2 L276.5,485.8 L277.2,485.5 L277.8,485.2 L278.5,484.9 L279.1,484.6 L279.7,484.2 L280.3,484.0 L281.0,483.7 L281.6,483.4 L282.2,483.1 L282.8,482.9 L283.5,482.6 L284.1,482.4 L284.7,482.2 L285.3,482.0 L286.0,481.8 L286.7,481.6 L287.4,481.5 L288.0,481.3 L288.7,481.2 L289.4,481.0 L290.1,480.9 L290.8,480.7 L291.5,480.6 L292.2,480.5 L292.8,480.3 L293.5,480.2 L294.2,480.1 L294.9,479.9 L295.6,479.8 L296.3,479.6 L297.0,479.4 L297.7,479.3 L298.4,479.2 L299.1,479.1 L299.1,478.7 L298.4,478.8 L297.7,478.9 L297.0,478.9 L296.2,478.9 L295.5,478.9 L294.8,478.9 L294.1,478.9 L293.4,478.9 L292.7,478.9 L292.0,478.9 L291.3,478.9 L290.5,478.9 L289.8,479.0 L289.1,479.1 L288.4,479.2 L287.6,479.3 L286.9,479.4 L286.2,479.6 L285.4,479.8 L284.7,480.0 L284.0,480.2 L283.4,480.4 L282.7,480.7 L282.1,480.9 L281.4,481.2 L280.8,481.5 L280.1,481.7 L279.5,482.0 L278.8,482.4 L278.2,482.7 L277.5,483.0 L276.9,483.3 L276.2,483.6 L275.6,484.0 L274.9,484.3 L274.3,484.6 L273.6,485.0 L273.0,485.3 L272.4,485.6 L271.7,486.0 L271.1,486.3 L270.5,486.6 L269.8,487.0 L269.3,487.6 L268.9,488.3 Z" fill="#2e2e2e"/>
<path d="M305.6,478.3 L306.3,478.5 L307.1,478.8 L307.8,479.0 L308.5,479.0 L309.2,478.9 L309.9,478.8 L310.6,478.6 L311.3,478.2 L312.0,477.9 L312.0,477.5 L311.3,477.3 L310.5,477.0 L309.8,476.8 L309.1,476.8 L308.4,476.9 L307.7,477.0 L307.0,477.2 L306.3,477.6 L305.6,477.9 Z" fill="#2e2e2e"/>
<path d="M285.6,453.4 L286.3,453.1 L287.0,452.9 L287.8,452.7 L288.5,452.5 L289.2,452.2 L289.9,451.8 L290.5,451.4 L291.2,451.1 L291.8,450.7 L292.4,450.3 L293.0,449.8 L293.6,449.3 L294.1,448.7 L294.6,448.1 L295.2,447.7 L295.0,447.3 L294.3,447.6 L293.6,447.8 L292.8,448.0 L292.1,448.2 L291.4,448.5 L290.7,448.9 L290.1,449.3 L289.4,449.6 L288.8,450.0 L288.2,450.4 L287.6,450.9 L287.0,451.4 L286.5,452.0 L286.0,452.6 L285.4,453.0 Z" fill="#2e2e2e"/>
<path d="M285.1,458.5 L286.0,458.6 L286.8,458.5 L287.4,458.1 L288.0,457.7 L288.6,457.3 L289.2,457.0 L289.8,456.6 L290.4,456.2 L291.0,455.8 L291.6,455.5 L292.2,455.1 L292.8,454.7 L293.4,454.4 L294.0,454.0 L294.6,453.6 L295.2,453.3 L295.8,452.9 L296.3,452.6 L296.9,452.2 L297.5,451.9 L298.2,451.5 L298.8,451.2 L299.5,450.8 L300.1,450.5 L300.7,450.1 L301.4,449.7 L302.0,449.3 L302.6,448.9 L303.2,448.5 L303.8,448.1 L304.4,447.7 L305.0,447.3 L305.6,446.9 L306.2,446.4 L306.8,446.0 L307.4,445.6 L308.1,445.3 L307.9,444.9 L307.3,445.3 L306.6,445.6 L305.9,445.8 L305.2,446.1 L304.5,446.3 L303.8,446.6 L303.2,446.8 L302.5,447.1 L301.8,447.4 L301.1,447.7 L300.4,448.0 L299.8,448.3 L299.1,448.6 L298.5,449.0 L297.8,449.3 L297.1,449.7 L296.5,450.1 L295.9,450.4 L295.3,450.8 L294.7,451.1 L294.1,451.5 L293.5,451.8 L292.9,452.2 L292.3,452.6 L291.7,452.9 L291.1,453.3 L290.5,453.7 L289.9,454.1 L289.3,454.4 L288.7,454.8 L288.1,455.2 L287.5,455.6 L286.9,455.9 L286.3,456.3 L285.7,456.7 L285.2,457.3 L284.9,458.1 Z" fill="#2e2e2e"/>
<path d="M300.8,458.2 L301.4,457.9 L302.1,457.7 L302.8,457.6 L303.5,457.4 L304.2,457.2 L304.9,457.0 L305.6,456.8 L306.3,456.6 L306.9,456.3 L307.6,456.0 L308.2,455.7 L308.9,455.5 L309.5,455.2 L310.1,454.9 L310.8,454.6 L311.4,454.3 L312.1,453.9 L312.7,453.6 L313.3,453.2 L313.9,452.8 L314.5,452.4 L315.1,452.0 L315.6,451.6 L316.2,451.2 L316.9,450.9 L316.7,450.5 L316.1,450.8 L315.4,451.0 L314.7,451.1 L314.0,451.3 L313.3,451.5 L312.6,451.7 L311.9,451.9 L311.2,452.1 L310.6,452.4 L309.9,452.7 L309.3,453.0 L308.6,453.2 L308.0,453.5 L307.4,453.8 L306.7,454.1 L306.1,454.4 L305.4,454.8 L304.8,455.1 L304.2,455.5 L303.6,455.9 L303.0,456.3 L302.4,456.7 L301.9,457.1 L301.3,457.5 L300.6,457.8 Z" fill="#2e2e2e"/>
<path d="M308.7,456.5 L309.0,457.2 L309.2,458.0 L309.6,458.6 L310.1,459.1 L310.6,459.6 L311.2,460.0 L312.0,460.2 L312.7,460.5 L312.9,460.3 L312.6,459.6 L312.4,458.8 L312.0,458.2 L311.5,457.7 L311.0,457.2 L310.4,456.8 L309.6,456.6 L308.9,456.3 Z" fill="#2e2e2e"/>
<path d="M314.4,457.4 L315.1,457.4 L315.8,457.6 L316.5,457.8 L317.2,458.0 L317.9,458.2 L318.6,458.3 L319.3,458.4 L319.9,458.5 L320.6,458.6 L321.3,458.6 L322.0,458.6 L322.7,458.7 L323.4,458.7 L324.1,458.7 L324.8,458.7 L325.6,458.7 L326.3,458.7 L327.0,458.6 L327.7,458.5 L328.4,458.4 L329.1,458.3 L329.8,458.2 L330.5,458.2 L330.5,457.8 L329.8,457.8 L329.1,457.6 L328.4,457.4 L327.7,457.2 L327.0,457.0 L326.3,456.9 L325.6,456.8 L325.0,456.7 L324.3,456.6 L323.6,456.6 L322.9,456.6 L322.2,456.5 L321.5,456.5 L320.8,456.5 L320.1,456.5 L319.3,456.5 L318.6,456.5 L317.9,456.6 L317.2,456.7 L316.5,456.8 L315.8,456.9 L315.1,457.0 L314.4,457.0 Z" fill="#2e2e2e"/>
<path d="M319.9,459.1 L320.3,459.7 L320.6,460.4 L320.9,461.1 L321.3,461.7 L321.7,462.3 L322.2,462.8 L322.6,463.4 L323.1,463.9 L323.6,464.4 L324.1,464.9 L324.7,465.3 L325.3,465.7 L325.9,466.1 L326.6,466.5 L327.2,466.9 L327.4,466.7 L327.0,466.1 L326.7,465.4 L326.4,464.7 L326.0,464.1 L325.6,463.5 L325.1,463.0 L324.7,462.4 L324.2,461.9 L323.7,461.4 L323.2,460.9 L322.6,460.5 L322.0,460.1 L321.4,459.7 L320.7,459.3 L320.1,458.9 Z" fill="#2e2e2e"/>
<path d="M328.0,464.6 L328.5,465.0 L329.0,465.5 L329.6,465.9 L330.1,466.4 L330.7,466.8 L331.2,467.3 L331.7,467.8 L332.3,468.2 L332.8,468.7 L333.3,469.2 L333.8,469.6 L334.4,470.1 L334.9,470.6 L335.4,471.0 L336.0,471.5 L336.5,472.0 L337.0,472.4 L337.5,472.9 L338.1,473.4 L338.6,473.8 L339.1,474.3 L339.6,474.8 L340.2,475.3 L340.7,475.7 L341.2,476.2 L341.7,476.7 L342.2,477.2 L342.7,477.6 L343.2,478.1 L343.7,478.6 L344.2,479.1 L344.6,479.6 L345.1,480.1 L345.6,480.6 L346.0,481.1 L346.5,481.6 L347.0,482.1 L347.4,482.6 L347.9,483.1 L348.3,483.7 L348.8,484.2 L349.2,484.7 L349.7,485.3 L350.1,485.8 L350.6,486.4 L351.0,486.9 L351.4,487.5 L351.9,488.0 L352.3,488.6 L352.7,489.1 L353.1,489.7 L353.6,490.3 L354.0,490.8 L354.4,491.4 L354.8,492.0 L355.2,492.6 L355.6,493.1 L356.0,493.7 L356.4,494.3 L356.8,494.9 L357.2,495.5 L357.6,496.0 L358.0,496.6 L358.4,497.2 L358.8,497.8 L359.1,498.4 L359.5,498.9 L359.9,499.5 L360.2,500.1 L360.6,500.6 L360.9,501.2 L361.3,501.8 L361.6,502.3 L362.0,503.0 L362.4,503.6 L362.8,504.2 L363.1,504.9 L363.5,505.5 L363.8,506.1 L364.2,506.8 L364.5,507.4 L364.9,508.1 L365.2,508.7 L365.5,509.3 L365.9,510.0 L366.2,510.6 L366.5,511.2 L366.9,511.9 L367.2,512.5 L367.5,513.1 L367.8,513.8 L368.1,514.4 L368.4,515.0 L368.8,515.7 L369.1,516.3 L369.4,516.9 L369.7,517.5 L370.0,518.1 L370.3,518.7 L370.6,519.3 L370.9,520.0 L371.3,520.6 L371.6,521.2 L371.9,521.9 L372.3,522.5 L372.6,523.2 L372.9,523.8 L373.2,524.4 L373.6,525.1 L373.9,525.7 L374.2,526.3 L374.5,527.0 L374.8,527.6 L375.1,528.2 L375.4,528.8 L375.7,529.5 L376.0,530.1 L376.3,530.7 L376.6,531.3 L376.9,532.0 L377.2,532.6 L377.5,533.2 L377.8,533.9 L378.0,534.5 L378.3,535.2 L378.7,535.0 L378.4,534.4 L378.1,533.7 L377.8,533.1 L377.6,532.4 L377.3,531.8 L377.1,531.2 L376.8,530.5 L376.6,529.9 L376.3,529.2 L376.1,528.5 L375.9,527.9 L375.6,527.2 L375.4,526.6 L375.1,525.9 L374.9,525.3 L374.6,524.6 L374.4,523.9 L374.1,523.3 L373.9,522.6 L373.6,521.9 L373.3,521.2 L373.0,520.5 L372.7,519.8 L372.5,519.2 L372.2,518.6 L372.0,518.0 L371.7,517.3 L371.4,516.7 L371.2,516.1 L370.9,515.4 L370.6,514.8 L370.4,514.1 L370.1,513.5 L369.8,512.8 L369.5,512.2 L369.2,511.5 L368.9,510.9 L368.6,510.2 L368.3,509.6 L368.0,508.9 L367.7,508.3 L367.4,507.6 L367.0,506.9 L366.7,506.3 L366.4,505.6 L366.0,505.0 L365.7,504.3 L365.3,503.7 L364.9,503.0 L364.5,502.3 L364.2,501.7 L363.8,501.1 L363.4,500.5 L363.1,499.9 L362.7,499.3 L362.3,498.7 L362.0,498.2 L361.6,497.6 L361.2,497.0 L360.9,496.4 L360.5,495.8 L360.1,495.2 L359.7,494.7 L359.3,494.1 L358.9,493.5 L358.5,492.9 L358.1,492.3 L357.7,491.7 L357.3,491.1 L356.9,490.5 L356.4,490.0 L356.0,489.4 L355.6,488.8 L355.1,488.2 L354.7,487.6 L354.3,487.1 L353.8,486.5 L353.4,485.9 L352.9,485.4 L352.5,484.8 L352.0,484.3 L351.5,483.7 L351.1,483.2 L350.6,482.6 L350.1,482.1 L349.6,481.6 L349.1,481.0 L348.6,480.5 L348.1,480.0 L347.6,479.5 L347.1,479.0 L346.6,478.5 L346.1,478.1 L345.6,477.6 L345.0,477.1 L344.5,476.7 L344.0,476.2 L343.4,475.8 L342.9,475.3 L342.3,474.9 L341.8,474.4 L341.2,474.0 L340.7,473.6 L340.1,473.1 L339.5,472.7 L339.0,472.3 L338.4,471.9 L337.8,471.5 L337.2,471.0 L336.7,470.6 L336.1,470.2 L335.5,469.8 L334.9,469.4 L334.4,469.0 L333.8,468.6 L333.2,468.2 L332.6,467.7 L332.1,467.3 L331.5,466.9 L330.9,466.5 L330.4,466.1 L329.8,465.6 L329.3,465.2 L328.8,464.7 L328.2,464.2 Z" fill="#2e2e2e"/>
<path d="M382.6,545.8 L382.8,546.4 L383.0,547.1 L383.1,547.8 L383.3,548.5 L383.4,549.2 L383.5,549.9 L383.6,550.6 L383.7,551.2 L383.9,551.9 L384.0,552.6 L384.1,553.3 L384.3,554.0 L384.4,554.7 L384.6,555.4 L384.8,556.1 L384.9,556.8 L385.1,557.5 L385.3,558.2 L385.5,558.9 L385.7,559.6 L385.9,560.3 L386.1,560.9 L386.2,561.6 L386.4,562.2 L386.6,562.9 L386.8,563.5 L386.9,564.2 L387.1,564.9 L387.3,565.5 L387.5,566.2 L387.7,566.9 L387.9,567.6 L388.1,568.2 L388.3,568.9 L388.5,569.6 L388.7,570.3 L388.9,571.0 L389.2,571.6 L389.4,572.3 L389.6,573.0 L389.9,573.7 L390.1,574.3 L390.4,575.0 L390.7,575.7 L390.9,576.4 L391.2,577.0 L391.4,577.7 L391.6,578.4 L391.8,579.1 L392.2,578.9 L392.0,578.3 L391.8,577.6 L391.7,576.9 L391.6,576.2 L391.5,575.5 L391.4,574.7 L391.3,574.0 L391.2,573.3 L391.1,572.6 L391.0,571.9 L390.9,571.2 L390.8,570.5 L390.6,569.8 L390.5,569.1 L390.4,568.4 L390.2,567.7 L390.0,567.0 L389.9,566.3 L389.7,565.6 L389.5,564.9 L389.3,564.3 L389.2,563.6 L389.0,562.9 L388.8,562.3 L388.6,561.6 L388.5,561.0 L388.3,560.3 L388.1,559.7 L387.9,559.0 L387.7,558.2 L387.5,557.5 L387.3,556.8 L387.0,556.1 L386.8,555.5 L386.6,554.8 L386.3,554.1 L386.1,553.5 L385.8,552.8 L385.6,552.2 L385.3,551.5 L385.0,550.9 L384.8,550.2 L384.5,549.6 L384.2,548.9 L383.9,548.3 L383.7,547.6 L383.4,547.0 L383.2,546.3 L383.0,545.6 Z" fill="#2e2e2e"/>
<path d="M318.3,442.9 L319.0,443.2 L319.6,443.5 L320.3,443.7 L320.9,444.0 L321.5,444.3 L322.2,444.6 L322.8,444.9 L323.5,445.2 L324.1,445.4 L324.8,445.8 L325.4,446.1 L326.0,446.4 L326.7,446.7 L327.3,447.0 L328.0,447.3 L328.6,447.6 L329.2,447.9 L329.9,448.2 L330.5,448.5 L331.1,448.8 L331.8,449.1 L332.4,449.4 L333.1,449.7 L333.7,450.0 L334.3,450.3 L335.0,450.6 L335.6,450.9 L336.2,451.2 L336.9,451.5 L337.5,451.8 L338.1,452.1 L338.8,452.4 L339.4,452.7 L340.1,453.0 L340.7,453.3 L341.3,453.6 L342.0,453.9 L342.6,454.3 L343.2,454.6 L343.8,454.9 L344.5,455.2 L345.1,455.5 L345.7,455.8 L346.4,456.1 L347.0,456.5 L347.6,456.8 L348.3,457.1 L348.9,457.4 L349.5,457.7 L350.2,458.0 L350.8,458.4 L351.5,458.7 L352.1,459.0 L352.8,459.3 L353.4,459.6 L354.1,459.9 L354.7,460.2 L355.4,460.5 L356.0,460.8 L356.7,461.2 L357.3,461.5 L358.0,461.8 L358.6,462.1 L359.3,462.4 L359.9,462.7 L360.6,463.0 L361.2,463.4 L361.9,463.7 L362.5,464.0 L363.1,464.3 L363.8,464.6 L364.4,465.0 L365.0,465.3 L365.6,465.6 L366.3,465.9 L366.9,466.3 L367.5,466.6 L368.1,466.9 L368.7,467.3 L369.3,467.6 L369.9,467.9 L370.5,468.3 L371.1,468.6 L371.6,469.0 L372.2,469.3 L372.8,469.7 L373.3,470.1 L373.9,470.4 L374.4,470.8 L375.0,471.2 L375.5,471.6 L376.1,472.0 L376.7,472.4 L377.2,472.9 L377.8,473.3 L378.3,473.8 L378.8,474.2 L379.4,474.7 L379.9,475.2 L380.4,475.7 L380.9,476.1 L381.4,476.6 L382.0,477.1 L382.5,477.6 L383.0,478.1 L383.5,478.6 L384.0,479.1 L384.4,479.6 L384.9,480.1 L385.4,480.6 L385.9,481.1 L386.4,481.7 L386.9,482.2 L387.4,482.7 L387.9,483.2 L388.4,483.7 L388.9,484.2 L389.4,484.7 L389.9,485.2 L390.4,485.7 L390.9,486.2 L391.4,486.7 L391.9,487.1 L392.4,487.6 L392.9,488.1 L393.4,488.5 L394.0,489.0 L394.5,489.5 L395.1,489.9 L395.6,490.4 L396.2,490.8 L396.7,491.3 L397.3,491.7 L397.8,492.2 L398.3,492.6 L398.9,493.0 L399.4,493.4 L399.9,493.8 L400.5,494.3 L401.0,494.7 L401.5,495.1 L402.1,495.5 L402.6,495.9 L403.2,496.3 L403.7,496.7 L404.3,497.1 L404.8,497.5 L405.4,497.9 L406.0,498.3 L406.6,498.8 L407.1,499.2 L407.7,499.6 L408.3,500.0 L408.9,500.4 L409.6,500.9 L410.2,501.3 L410.8,501.7 L411.5,502.2 L412.2,502.6 L412.7,503.0 L413.2,503.3 L413.7,503.6 L414.2,504.0 L414.8,504.3 L415.3,504.7 L415.9,505.0 L416.4,505.4 L417.0,505.8 L417.5,506.1 L418.1,506.5 L418.7,506.8 L419.3,507.2 L419.8,507.5 L420.4,507.9 L421.0,508.3 L421.6,508.6 L422.2,509.0 L422.8,509.4 L423.4,509.7 L424.1,510.1 L424.7,510.5 L425.3,510.8 L425.9,511.2 L426.5,511.6 L427.2,511.9 L427.8,512.3 L428.4,512.7 L429.1,513.1 L429.7,513.4 L430.3,513.8 L431.0,514.2 L431.6,514.5 L432.2,514.9 L432.9,515.3 L433.5,515.7 L434.2,516.0 L434.8,516.4 L435.4,516.8 L436.1,517.2 L436.7,517.5 L437.4,517.9 L438.0,518.3 L438.7,518.6 L439.3,519.0 L439.9,519.4 L440.6,519.7 L441.2,520.1 L441.8,520.5 L442.4,520.9 L443.1,521.3 L443.7,521.7 L444.3,522.0 L444.9,522.4 L445.5,522.8 L446.1,523.2 L446.7,523.6 L446.9,523.2 L446.3,522.8 L445.7,522.5 L445.1,522.1 L444.5,521.7 L443.9,521.3 L443.3,520.9 L442.7,520.5 L442.0,520.2 L441.4,519.7 L440.8,519.3 L440.2,518.9 L439.6,518.5 L439.0,518.1 L438.4,517.7 L437.8,517.3 L437.1,516.9 L436.5,516.5 L435.9,516.0 L435.3,515.6 L434.7,515.2 L434.0,514.8 L433.4,514.4 L432.8,514.0 L432.2,513.6 L431.6,513.2 L431.0,512.8 L430.4,512.4 L429.7,511.9 L429.1,511.5 L428.5,511.1 L427.9,510.7 L427.3,510.3 L426.7,509.9 L426.1,509.5 L425.5,509.1 L424.9,508.7 L424.3,508.3 L423.7,507.9 L423.2,507.5 L422.6,507.1 L422.0,506.7 L421.4,506.4 L420.9,506.0 L420.3,505.6 L419.7,505.2 L419.2,504.8 L418.6,504.4 L418.1,504.1 L417.5,503.7 L417.0,503.3 L416.5,502.9 L416.0,502.6 L415.4,502.2 L414.9,501.9 L414.4,501.5 L413.9,501.1 L413.4,500.8 L412.8,500.3 L412.2,499.9 L411.5,499.4 L410.9,498.9 L410.3,498.5 L409.7,498.1 L409.1,497.6 L408.6,497.2 L408.0,496.8 L407.4,496.4 L406.9,495.9 L406.3,495.5 L405.8,495.1 L405.2,494.7 L404.7,494.3 L404.1,493.9 L403.6,493.5 L403.1,493.1 L402.6,492.7 L402.0,492.2 L401.5,491.8 L401.0,491.4 L400.5,491.0 L399.9,490.6 L399.4,490.1 L398.9,489.7 L398.4,489.3 L397.8,488.8 L397.3,488.4 L396.7,487.9 L396.2,487.5 L395.6,487.0 L395.1,486.6 L394.6,486.1 L394.1,485.7 L393.6,485.2 L393.1,484.8 L392.7,484.3 L392.2,483.8 L391.7,483.3 L391.2,482.9 L390.7,482.4 L390.2,481.9 L389.7,481.4 L389.3,480.9 L388.8,480.4 L388.3,479.9 L387.8,479.3 L387.3,478.8 L386.8,478.3 L386.3,477.8 L385.8,477.3 L385.3,476.8 L384.8,476.3 L384.3,475.8 L383.8,475.3 L383.2,474.8 L382.7,474.2 L382.2,473.7 L381.7,473.3 L381.1,472.8 L380.6,472.3 L380.0,471.8 L379.4,471.3 L378.8,470.8 L378.3,470.4 L377.7,469.9 L377.1,469.5 L376.4,469.0 L375.9,468.6 L375.3,468.3 L374.7,467.9 L374.2,467.5 L373.6,467.1 L373.0,466.8 L372.4,466.4 L371.8,466.1 L371.2,465.7 L370.6,465.4 L370.0,465.0 L369.3,464.7 L368.7,464.3 L368.1,464.0 L367.4,463.7 L366.8,463.3 L366.2,463.0 L365.5,462.7 L364.9,462.4 L364.2,462.1 L363.6,461.8 L362.9,461.5 L362.3,461.2 L361.6,460.8 L361.0,460.5 L360.3,460.2 L359.6,459.9 L359.0,459.7 L358.3,459.4 L357.7,459.1 L357.0,458.8 L356.3,458.5 L355.7,458.2 L355.0,457.9 L354.3,457.6 L353.7,457.3 L353.0,457.0 L352.4,456.8 L351.7,456.5 L351.0,456.2 L350.4,455.9 L349.7,455.6 L349.1,455.3 L348.5,455.0 L347.8,454.7 L347.2,454.5 L346.5,454.2 L345.9,453.9 L345.2,453.6 L344.6,453.3 L343.9,453.0 L343.3,452.8 L342.6,452.5 L342.0,452.2 L341.3,451.9 L340.7,451.7 L340.0,451.4 L339.4,451.1 L338.7,450.8 L338.1,450.6 L337.4,450.3 L336.8,450.0 L336.1,449.8 L335.4,449.5 L334.8,449.2 L334.1,449.0 L333.5,448.7 L332.8,448.4 L332.2,448.2 L331.5,447.9 L330.9,447.7 L330.2,447.4 L329.5,447.1 L328.9,446.9 L328.2,446.6 L327.6,446.4 L326.9,446.1 L326.3,445.8 L325.6,445.6 L325.0,445.3 L324.3,445.1 L323.6,444.8 L323.0,444.5 L322.4,444.2 L321.7,443.9 L321.1,443.7 L320.4,443.4 L319.8,443.1 L319.1,442.8 L318.5,442.5 Z" fill="#2e2e2e"/>
<path d="M377.4,420.1 L377.8,420.7 L378.3,421.2 L378.8,421.7 L379.3,422.3 L379.8,422.8 L380.2,423.3 L380.7,423.9 L381.2,424.4 L381.7,424.9 L382.2,425.5 L382.6,426.0 L383.1,426.6 L383.6,427.1 L384.0,427.7 L384.5,428.3 L385.0,428.8 L385.4,429.4 L385.9,429.9 L386.4,430.4 L386.8,431.0 L387.3,431.5 L387.8,432.1 L388.2,432.6 L388.7,433.2 L389.2,433.7 L389.6,434.3 L390.1,434.8 L390.5,435.4 L391.0,435.9 L391.5,436.4 L391.9,437.0 L392.4,437.5 L392.8,438.0 L393.3,438.6 L393.7,439.1 L394.2,439.7 L394.7,440.2 L395.1,440.8 L395.6,441.4 L396.1,441.9 L396.5,442.5 L397.0,443.0 L397.4,443.6 L397.9,444.1 L398.3,444.7 L398.8,445.3 L399.2,445.8 L399.7,446.4 L400.1,446.9 L400.6,447.5 L401.0,448.0 L401.5,448.6 L401.9,449.1 L402.4,449.7 L402.9,450.2 L403.3,450.8 L403.8,451.3 L404.3,451.9 L404.7,452.4 L405.2,452.9 L405.7,453.5 L406.2,454.0 L406.7,454.6 L407.2,455.1 L407.7,455.7 L408.2,456.2 L408.7,456.7 L409.2,457.2 L409.7,457.7 L410.1,458.2 L410.6,458.7 L411.1,459.2 L411.6,459.7 L412.1,460.2 L412.7,460.7 L413.2,461.2 L413.7,461.7 L414.2,462.2 L414.7,462.7 L415.2,463.2 L415.7,463.7 L416.3,464.2 L416.8,464.7 L417.3,465.2 L417.9,465.7 L418.4,466.1 L418.9,466.6 L419.5,467.1 L420.0,467.6 L420.6,468.1 L421.1,468.6 L421.7,469.0 L422.2,469.5 L422.8,470.0 L423.4,470.4 L423.9,470.9 L424.5,471.4 L425.1,471.8 L425.6,472.3 L426.2,472.7 L426.8,473.2 L427.3,473.6 L427.9,474.0 L428.5,474.5 L429.0,474.9 L429.6,475.3 L430.2,475.7 L430.7,476.1 L431.3,476.5 L431.9,476.9 L432.5,477.3 L433.0,477.7 L433.6,478.1 L434.2,478.5 L434.8,478.9 L435.4,479.3 L436.0,479.7 L436.6,480.0 L437.2,480.4 L437.8,480.8 L438.4,481.2 L439.0,481.6 L439.6,482.0 L440.2,482.3 L440.8,482.7 L441.4,483.1 L442.0,483.5 L442.6,483.9 L443.2,484.2 L443.8,484.6 L444.4,485.0 L445.0,485.4 L445.6,485.8 L446.2,486.1 L446.8,486.5 L447.4,486.9 L448.0,487.3 L448.6,487.7 L449.2,488.1 L449.8,488.4 L450.3,488.8 L450.9,489.2 L451.5,489.6 L452.1,490.0 L452.7,490.4 L453.2,490.8 L453.8,491.2 L454.4,491.6 L455.0,492.0 L455.6,492.4 L456.1,492.8 L456.7,493.2 L457.3,493.6 L457.9,494.0 L458.5,494.4 L459.1,494.8 L459.7,495.2 L460.2,495.6 L460.8,496.0 L461.4,496.4 L462.0,496.8 L462.6,497.2 L463.2,497.6 L463.9,498.0 L464.5,498.4 L465.1,498.7 L465.7,499.1 L466.3,499.5 L467.0,499.9 L467.6,500.2 L468.2,500.6 L468.8,501.0 L469.5,501.3 L470.1,501.7 L470.8,502.0 L471.4,502.4 L472.1,502.7 L472.8,503.0 L473.4,503.3 L474.1,503.7 L474.8,503.9 L475.4,504.2 L476.1,504.5 L476.7,504.8 L477.4,505.0 L478.1,505.3 L478.8,505.6 L479.4,505.8 L480.1,506.0 L480.8,506.3 L481.5,506.5 L482.2,506.7 L482.9,507.0 L483.7,507.2 L484.4,507.4 L485.1,507.6 L485.8,507.8 L486.5,508.0 L487.2,508.2 L487.9,508.4 L488.7,508.6 L489.4,508.8 L490.1,509.0 L490.8,509.2 L491.5,509.4 L492.2,509.6 L493.0,509.7 L493.7,509.9 L494.4,510.1 L495.1,510.3 L495.8,510.5 L496.5,510.7 L497.2,510.9 L497.9,511.1 L498.5,511.2 L499.2,511.4 L499.9,511.6 L500.6,511.8 L501.2,512.0 L501.9,512.2 L502.5,512.4 L503.2,512.6 L503.8,512.8 L504.4,513.0 L505.0,513.2 L505.6,513.5 L506.4,513.7 L507.1,514.0 L507.8,514.3 L508.5,514.5 L509.2,514.8 L509.9,515.1 L510.5,515.3 L511.2,515.6 L511.9,515.9 L512.6,516.2 L513.2,516.4 L513.9,516.7 L514.5,517.0 L515.2,517.3 L515.8,517.5 L516.4,517.8 L517.1,518.1 L517.7,518.4 L518.4,518.7 L519.0,518.9 L519.6,519.2 L520.3,519.5 L520.9,519.8 L521.5,520.1 L522.2,520.4 L522.8,520.7 L523.4,521.0 L524.0,521.3 L524.7,521.6 L525.3,521.9 L526.0,522.2 L526.6,522.5 L526.8,522.1 L526.1,521.8 L525.5,521.5 L524.9,521.2 L524.2,520.9 L523.6,520.6 L523.0,520.3 L522.3,520.0 L521.7,519.7 L521.1,519.4 L520.5,519.1 L519.8,518.8 L519.2,518.5 L518.6,518.1 L518.0,517.8 L517.4,517.5 L516.7,517.2 L516.1,516.9 L515.5,516.5 L514.9,516.2 L514.2,515.9 L513.6,515.6 L513.0,515.3 L512.3,515.0 L511.6,514.6 L511.0,514.3 L510.3,514.0 L509.6,513.7 L509.0,513.4 L508.3,513.1 L507.6,512.8 L506.9,512.5 L506.2,512.1 L505.5,511.9 L504.9,511.6 L504.3,511.4 L503.7,511.1 L503.0,510.9 L502.4,510.7 L501.7,510.4 L501.1,510.2 L500.4,510.0 L499.7,509.7 L499.1,509.5 L498.4,509.3 L497.7,509.1 L497.0,508.8 L496.3,508.6 L495.6,508.4 L494.9,508.2 L494.2,508.0 L493.5,507.7 L492.8,507.5 L492.1,507.3 L491.4,507.1 L490.7,506.9 L490.0,506.6 L489.3,506.4 L488.6,506.2 L487.9,506.0 L487.2,505.7 L486.5,505.5 L485.8,505.3 L485.1,505.1 L484.4,504.8 L483.7,504.6 L483.0,504.3 L482.4,504.1 L481.7,503.8 L481.0,503.6 L480.4,503.3 L479.7,503.1 L479.1,502.8 L478.4,502.5 L477.8,502.3 L477.1,502.0 L476.5,501.7 L475.9,501.4 L475.3,501.1 L474.7,500.8 L474.0,500.5 L473.4,500.2 L472.8,499.8 L472.1,499.5 L471.5,499.2 L470.9,498.8 L470.3,498.5 L469.7,498.1 L469.1,497.7 L468.5,497.4 L467.9,497.0 L467.3,496.6 L466.7,496.2 L466.1,495.8 L465.5,495.5 L464.9,495.1 L464.3,494.7 L463.7,494.3 L463.1,493.9 L462.5,493.5 L461.9,493.1 L461.3,492.7 L460.8,492.3 L460.2,491.9 L459.6,491.5 L459.0,491.1 L458.4,490.7 L457.8,490.3 L457.3,489.9 L456.7,489.5 L456.1,489.1 L455.5,488.7 L454.9,488.3 L454.3,487.9 L453.8,487.5 L453.2,487.1 L452.6,486.7 L452.0,486.3 L451.4,485.9 L450.8,485.5 L450.2,485.1 L449.6,484.8 L449.0,484.4 L448.4,484.0 L447.8,483.6 L447.2,483.2 L446.6,482.8 L446.0,482.5 L445.4,482.1 L444.8,481.7 L444.2,481.3 L443.6,480.9 L443.0,480.6 L442.4,480.2 L441.8,479.8 L441.2,479.4 L440.6,479.0 L440.0,478.7 L439.4,478.3 L438.8,477.9 L438.2,477.5 L437.6,477.1 L437.0,476.8 L436.5,476.4 L435.9,476.0 L435.3,475.6 L434.7,475.2 L434.2,474.8 L433.6,474.4 L433.0,474.0 L432.5,473.7 L431.9,473.3 L431.3,472.9 L430.8,472.5 L430.2,472.0 L429.7,471.6 L429.2,471.2 L428.6,470.8 L428.1,470.4 L427.5,469.9 L426.9,469.5 L426.4,469.0 L425.8,468.6 L425.3,468.1 L424.7,467.7 L424.1,467.2 L423.6,466.8 L423.0,466.3 L422.5,465.8 L422.0,465.4 L421.4,464.9 L420.9,464.4 L420.3,464.0 L419.8,463.5 L419.3,463.0 L418.7,462.6 L418.2,462.1 L417.7,461.6 L417.1,461.1 L416.6,460.7 L416.1,460.2 L415.6,459.7 L415.1,459.2 L414.5,458.7 L414.0,458.3 L413.5,457.8 L413.0,457.3 L412.5,456.8 L412.0,456.3 L411.5,455.8 L411.0,455.4 L410.5,454.9 L410.0,454.4 L409.5,453.9 L409.0,453.4 L408.5,452.9 L408.0,452.4 L407.5,451.8 L407.0,451.3 L406.5,450.8 L406.0,450.3 L405.5,449.8 L405.0,449.3 L404.5,448.7 L404.1,448.2 L403.6,447.7 L403.1,447.2 L402.6,446.6 L402.2,446.1 L401.7,445.6 L401.2,445.1 L400.7,444.5 L400.3,444.0 L399.8,443.5 L399.3,442.9 L398.8,442.4 L398.3,441.9 L397.9,441.3 L397.4,440.8 L396.9,440.2 L396.4,439.7 L395.9,439.2 L395.4,438.6 L394.9,438.1 L394.4,437.6 L393.9,437.1 L393.4,436.6 L392.9,436.1 L392.5,435.5 L392.0,435.0 L391.5,434.5 L391.0,434.0 L390.5,433.5 L390.0,433.0 L389.5,432.5 L389.0,431.9 L388.5,431.4 L388.0,430.9 L387.5,430.4 L387.0,429.9 L386.5,429.4 L386.0,428.8 L385.5,428.3 L385.0,427.8 L384.5,427.3 L384.0,426.7 L383.5,426.2 L383.0,425.7 L382.5,425.2 L382.0,424.7 L381.5,424.1 L381.0,423.6 L380.5,423.1 L380.1,422.5 L379.6,422.0 L379.1,421.5 L378.6,420.9 L378.1,420.4 L377.6,419.9 Z" fill="#2e2e2e"/>
<path d="M416.0,513.3 L416.4,513.9 L416.7,514.5 L417.1,515.2 L417.4,515.8 L417.7,516.4 L418.1,517.0 L418.4,517.7 L418.7,518.3 L419.0,519.0 L419.3,519.6 L419.6,520.2 L420.0,520.9 L420.3,521.5 L420.6,522.1 L420.9,522.7 L421.2,523.4 L421.6,524.0 L421.9,524.6 L422.2,525.3 L422.5,525.9 L422.9,526.5 L423.2,527.1 L423.5,527.8 L423.8,528.4 L424.2,529.0 L424.5,529.7 L424.8,530.3 L425.1,530.9 L425.5,531.5 L425.8,532.2 L426.1,532.8 L426.5,533.4 L426.8,534.1 L427.1,534.7 L427.5,535.3 L427.8,536.0 L428.1,536.6 L428.4,537.3 L428.8,537.9 L429.1,538.5 L429.4,539.2 L429.8,539.8 L430.1,540.5 L430.4,541.1 L430.7,541.8 L431.1,542.5 L431.3,543.1 L431.6,543.7 L431.9,544.3 L432.2,544.9 L432.5,545.5 L432.8,546.2 L433.1,546.8 L433.4,547.4 L433.6,548.0 L433.9,548.7 L434.2,549.3 L434.5,550.0 L434.8,550.6 L435.0,551.2 L435.3,551.9 L435.6,552.5 L435.9,553.2 L436.1,553.8 L436.4,554.5 L436.7,555.1 L437.0,555.8 L437.3,556.4 L437.6,557.1 L437.8,557.7 L438.1,558.4 L438.4,559.0 L438.7,559.7 L439.0,560.3 L439.3,561.0 L439.6,561.6 L439.8,562.3 L440.1,562.9 L440.4,563.6 L440.7,564.3 L441.0,564.9 L441.3,565.6 L441.6,566.2 L441.9,566.9 L442.2,567.5 L442.5,568.2 L442.8,568.8 L443.1,569.5 L443.4,570.1 L443.7,570.8 L444.0,571.4 L444.3,572.1 L444.6,572.7 L444.9,573.4 L445.2,574.0 L445.5,574.7 L445.8,575.3 L446.1,576.0 L446.3,576.6 L446.6,577.3 L447.0,577.1 L446.7,576.5 L446.4,575.8 L446.2,575.2 L445.9,574.5 L445.6,573.8 L445.4,573.2 L445.2,572.5 L444.9,571.8 L444.7,571.1 L444.5,570.5 L444.2,569.8 L444.0,569.1 L443.8,568.4 L443.5,567.8 L443.3,567.1 L443.1,566.4 L442.8,565.7 L442.6,565.1 L442.3,564.4 L442.1,563.7 L441.9,563.0 L441.6,562.3 L441.4,561.7 L441.1,561.0 L440.9,560.3 L440.6,559.7 L440.4,559.0 L440.1,558.3 L439.9,557.6 L439.6,557.0 L439.4,556.3 L439.1,555.7 L438.9,555.0 L438.6,554.3 L438.3,553.7 L438.1,553.0 L437.8,552.4 L437.5,551.7 L437.2,551.1 L437.0,550.4 L436.7,549.8 L436.4,549.1 L436.1,548.5 L435.8,547.8 L435.6,547.2 L435.3,546.6 L435.0,545.9 L434.7,545.3 L434.4,544.7 L434.1,544.0 L433.8,543.4 L433.5,542.8 L433.2,542.2 L432.9,541.5 L432.6,540.9 L432.3,540.2 L432.0,539.5 L431.6,538.9 L431.3,538.2 L431.0,537.6 L430.6,536.9 L430.3,536.3 L430.0,535.6 L429.6,535.0 L429.3,534.4 L428.9,533.7 L428.6,533.1 L428.2,532.5 L427.9,531.9 L427.5,531.2 L427.1,530.6 L426.8,530.0 L426.4,529.4 L426.0,528.8 L425.7,528.2 L425.3,527.6 L424.9,527.0 L424.6,526.4 L424.2,525.8 L423.8,525.2 L423.4,524.6 L423.1,524.0 L422.7,523.4 L422.3,522.8 L421.9,522.2 L421.5,521.6 L421.2,521.0 L420.8,520.4 L420.4,519.8 L420.0,519.2 L419.6,518.6 L419.3,518.0 L418.9,517.4 L418.5,516.8 L418.1,516.2 L417.8,515.6 L417.4,515.0 L417.1,514.4 L416.7,513.7 L416.4,513.1 Z" fill="#2e2e2e"/>
<path d="M420.6,568.9 L421.0,569.5 L421.4,570.1 L421.8,570.7 L422.1,571.4 L422.5,572.0 L422.8,572.6 L423.1,573.3 L423.5,573.9 L423.8,574.5 L424.2,575.1 L424.5,575.8 L424.9,576.4 L425.2,577.0 L425.6,577.6 L426.0,578.3 L426.3,578.9 L426.7,579.5 L427.0,580.1 L427.4,580.7 L427.8,581.4 L428.1,582.0 L428.5,582.6 L428.8,583.2 L429.2,583.8 L429.5,584.4 L429.9,585.0 L430.2,585.7 L430.6,586.3 L430.9,586.9 L431.3,587.5 L431.6,588.1 L431.9,588.8 L432.2,589.4 L432.5,590.0 L432.9,590.6 L433.1,591.3 L433.4,591.9 L433.7,592.5 L434.0,593.2 L434.2,593.8 L434.5,594.5 L434.8,595.1 L435.0,595.8 L435.3,596.4 L435.5,597.1 L435.7,597.7 L436.0,598.4 L436.2,599.0 L436.5,599.7 L436.7,600.4 L437.0,601.0 L437.2,601.7 L437.5,602.4 L437.7,603.0 L438.0,603.7 L438.2,604.4 L438.5,605.0 L438.7,605.7 L439.0,606.4 L439.2,607.0 L439.5,607.7 L439.7,608.4 L440.0,609.0 L440.3,609.7 L440.5,610.4 L440.8,611.0 L441.1,611.7 L441.3,612.3 L441.6,613.0 L441.8,613.7 L442.0,614.4 L442.4,614.2 L442.2,613.6 L441.9,612.9 L441.7,612.2 L441.5,611.5 L441.3,610.8 L441.2,610.2 L441.0,609.5 L440.9,608.8 L440.7,608.1 L440.5,607.4 L440.4,606.7 L440.2,606.0 L440.0,605.3 L439.9,604.6 L439.7,603.9 L439.5,603.2 L439.3,602.5 L439.1,601.8 L438.9,601.1 L438.8,600.4 L438.6,599.8 L438.3,599.1 L438.1,598.4 L437.9,597.7 L437.7,597.0 L437.5,596.4 L437.2,595.7 L437.0,595.0 L436.7,594.3 L436.5,593.7 L436.2,593.0 L435.9,592.4 L435.6,591.7 L435.3,591.1 L435.1,590.4 L434.7,589.8 L434.4,589.1 L434.1,588.4 L433.8,587.8 L433.5,587.2 L433.1,586.5 L432.8,585.9 L432.4,585.2 L432.1,584.6 L431.7,584.0 L431.3,583.4 L430.9,582.8 L430.5,582.2 L430.2,581.6 L429.8,581.0 L429.4,580.4 L428.9,579.8 L428.5,579.2 L428.1,578.6 L427.7,578.0 L427.3,577.4 L426.8,576.8 L426.4,576.3 L426.0,575.7 L425.5,575.1 L425.1,574.5 L424.7,574.0 L424.2,573.4 L423.8,572.8 L423.4,572.3 L422.9,571.7 L422.5,571.1 L422.1,570.5 L421.7,569.9 L421.3,569.3 L421.0,568.7 Z" fill="#2e2e2e"/>
<path d="M414.1,614.3 L414.2,615.0 L414.3,615.8 L414.3,616.5 L414.3,617.2 L414.3,617.9 L414.3,618.7 L414.3,619.4 L414.3,620.1 L414.4,620.8 L414.4,621.5 L414.5,622.2 L414.6,623.0 L414.7,623.7 L414.8,624.4 L414.9,625.1 L415.0,625.8 L415.1,626.5 L415.2,627.2 L415.3,627.9 L415.4,628.6 L415.5,629.3 L415.7,630.1 L415.8,630.8 L416.0,631.5 L416.1,632.2 L416.3,632.9 L416.5,633.6 L416.7,634.2 L416.9,634.9 L417.1,635.6 L417.3,636.3 L417.5,637.0 L417.7,637.7 L417.8,638.4 L418.2,638.4 L418.1,637.7 L418.0,636.9 L418.0,636.2 L418.0,635.5 L418.0,634.8 L418.0,634.0 L418.0,633.3 L418.0,632.6 L417.9,631.9 L417.9,631.2 L417.8,630.5 L417.7,629.7 L417.6,629.0 L417.5,628.3 L417.4,627.6 L417.3,626.9 L417.2,626.2 L417.1,625.5 L417.0,624.8 L416.9,624.1 L416.8,623.4 L416.6,622.6 L416.5,621.9 L416.3,621.2 L416.2,620.5 L416.0,619.8 L415.8,619.1 L415.6,618.5 L415.4,617.8 L415.2,617.1 L415.0,616.4 L414.8,615.7 L414.6,615.0 L414.5,614.3 Z" fill="#2e2e2e"/>
<path d="M417.2,637.9 L417.1,638.6 L417.1,639.3 L417.0,640.0 L417.0,640.8 L416.9,641.5 L416.8,642.2 L416.7,642.9 L416.6,643.7 L416.5,644.4 L416.4,645.1 L416.3,645.9 L416.2,646.6 L416.1,647.3 L416.0,648.0 L415.9,648.7 L415.8,649.5 L415.7,650.2 L415.6,650.9 L415.6,651.6 L415.5,652.3 L415.4,652.9 L415.3,653.6 L415.2,654.3 L415.2,654.9 L415.1,655.7 L415.0,656.4 L414.9,657.2 L414.8,657.9 L414.7,658.6 L414.6,659.3 L414.5,660.0 L414.4,660.7 L414.3,661.4 L414.3,662.1 L414.2,662.8 L414.2,663.5 L414.1,664.3 L414.1,665.0 L414.1,665.8 L414.2,666.7 L414.3,667.5 L414.3,668.1 L414.4,668.7 L414.5,669.4 L414.6,670.0 L414.7,670.7 L414.8,671.3 L414.9,672.0 L415.0,672.7 L415.2,673.4 L415.3,674.1 L415.5,674.8 L415.6,675.5 L415.8,676.2 L416.0,676.9 L416.1,677.6 L416.3,678.3 L416.5,679.1 L416.7,679.8 L416.9,680.5 L417.1,681.2 L417.3,682.0 L417.5,682.7 L417.7,683.4 L418.0,684.1 L418.2,684.8 L418.4,685.6 L418.7,686.3 L418.9,687.0 L419.1,687.6 L419.4,688.3 L419.6,689.0 L419.9,689.7 L420.1,690.3 L420.4,691.0 L420.6,691.7 L420.9,692.4 L421.2,693.0 L421.5,693.7 L421.8,694.4 L422.1,695.0 L422.4,695.7 L422.8,696.3 L423.1,697.0 L423.4,697.6 L423.8,698.2 L424.1,698.9 L424.4,699.5 L424.8,700.1 L425.1,700.8 L425.5,701.4 L425.8,702.0 L426.2,702.6 L426.5,703.3 L426.9,703.9 L427.2,704.5 L427.6,705.1 L427.9,705.7 L428.3,706.4 L428.6,707.0 L428.9,707.6 L429.2,708.3 L429.5,708.9 L429.8,709.6 L430.2,709.4 L429.9,708.8 L429.6,708.1 L429.3,707.5 L429.0,706.8 L428.6,706.2 L428.4,705.5 L428.1,704.9 L427.8,704.2 L427.5,703.6 L427.2,702.9 L426.9,702.3 L426.6,701.6 L426.4,700.9 L426.1,700.3 L425.8,699.6 L425.5,699.0 L425.2,698.3 L424.9,697.7 L424.7,697.0 L424.4,696.4 L424.1,695.7 L423.9,695.0 L423.6,694.4 L423.3,693.7 L423.1,693.0 L422.8,692.4 L422.6,691.7 L422.4,691.0 L422.1,690.4 L421.9,689.7 L421.7,689.0 L421.5,688.4 L421.3,687.7 L421.0,687.0 L420.8,686.3 L420.6,685.6 L420.4,684.9 L420.2,684.2 L420.0,683.5 L419.8,682.8 L419.5,682.1 L419.3,681.4 L419.1,680.7 L418.9,680.0 L418.7,679.2 L418.5,678.5 L418.4,677.8 L418.2,677.1 L418.0,676.4 L417.8,675.7 L417.7,675.0 L417.5,674.3 L417.4,673.6 L417.2,672.9 L417.1,672.3 L417.0,671.6 L416.9,671.0 L416.7,670.3 L416.6,669.7 L416.6,669.1 L416.5,668.5 L416.4,667.9 L416.3,667.3 L416.3,666.5 L416.2,665.8 L416.2,665.0 L416.2,664.3 L416.2,663.6 L416.2,662.9 L416.3,662.2 L416.3,661.5 L416.4,660.9 L416.4,660.2 L416.5,659.5 L416.6,658.8 L416.6,658.1 L416.7,657.4 L416.7,656.6 L416.8,655.8 L416.8,655.1 L416.8,654.4 L416.9,653.7 L416.9,653.0 L416.9,652.4 L416.9,651.7 L417.0,651.0 L417.0,650.3 L417.0,649.6 L417.0,648.8 L417.1,648.1 L417.1,647.4 L417.1,646.7 L417.2,645.9 L417.2,645.2 L417.2,644.5 L417.2,643.7 L417.3,643.0 L417.3,642.3 L417.3,641.5 L417.4,640.8 L417.4,640.1 L417.5,639.4 L417.5,638.6 L417.6,637.9 Z" fill="#2e2e2e"/>
<path d="M415.1,667.3 L414.8,667.9 L414.3,668.5 L413.9,669.0 L413.4,669.6 L412.9,670.2 L412.5,670.7 L412.1,671.3 L411.6,671.9 L411.3,672.5 L410.9,673.1 L410.5,673.7 L410.2,674.3 L409.8,675.0 L409.5,675.6 L409.1,676.2 L408.8,676.8 L408.4,677.5 L408.1,678.1 L407.8,678.7 L407.5,679.4 L407.2,680.1 L407.0,680.7 L406.7,681.4 L406.5,682.1 L406.2,682.8 L406.0,683.5 L405.6,684.1 L406.0,684.3 L406.3,683.7 L406.8,683.1 L407.2,682.6 L407.7,682.0 L408.2,681.4 L408.6,680.9 L409.0,680.3 L409.5,679.7 L409.8,679.1 L410.2,678.5 L410.6,677.9 L410.9,677.3 L411.3,676.6 L411.6,676.0 L412.0,675.4 L412.3,674.8 L412.7,674.1 L413.0,673.5 L413.3,672.9 L413.6,672.2 L413.9,671.5 L414.1,670.9 L414.4,670.2 L414.6,669.5 L414.9,668.8 L415.1,668.1 L415.5,667.5 Z" fill="#2e2e2e"/>
<path d="M289.1,679.2 L289.7,678.8 L290.4,678.5 L291.1,678.3 L291.8,678.0 L292.5,677.7 L293.1,677.4 L293.7,677.0 L294.3,676.6 L294.9,676.2 L295.4,675.7 L296.0,675.3 L296.6,674.9 L297.1,674.4 L297.6,673.9 L298.1,673.4 L298.6,672.8 L299.0,672.2 L299.6,671.8 L299.4,671.4 L298.8,671.8 L298.1,672.1 L297.4,672.3 L296.7,672.6 L296.0,672.9 L295.4,673.2 L294.8,673.6 L294.2,674.0 L293.6,674.4 L293.1,674.9 L292.5,675.3 L291.9,675.7 L291.4,676.2 L290.9,676.7 L290.4,677.2 L289.9,677.8 L289.5,678.4 L288.9,678.8 Z" fill="#2e2e2e"/>
<path d="M293.1,683.2 L293.7,682.8 L294.5,682.6 L295.2,682.4 L295.9,682.1 L296.6,681.8 L297.2,681.5 L297.8,681.2 L298.5,680.8 L299.1,680.4 L299.7,680.0 L300.3,679.6 L300.9,679.2 L301.4,678.7 L302.0,678.2 L302.5,677.7 L303.0,677.2 L303.5,676.6 L304.1,676.2 L303.9,675.8 L303.3,676.2 L302.5,676.4 L301.8,676.6 L301.1,676.9 L300.4,677.2 L299.8,677.5 L299.2,677.8 L298.5,678.2 L297.9,678.6 L297.3,679.0 L296.7,679.4 L296.1,679.8 L295.6,680.3 L295.0,680.8 L294.5,681.3 L294.0,681.8 L293.5,682.4 L292.9,682.8 Z" fill="#2e2e2e"/>
<path d="M299.6,684.4 L300.3,684.2 L301.0,684.1 L301.7,684.1 L302.4,684.0 L303.1,683.8 L303.8,683.6 L304.5,683.3 L305.1,683.1 L305.8,682.8 L306.5,682.5 L307.1,682.2 L307.7,681.9 L308.3,681.4 L308.9,681.0 L309.4,680.5 L310.1,680.2 L309.9,679.8 L309.2,680.0 L308.5,680.1 L307.8,680.1 L307.1,680.2 L306.4,680.4 L305.7,680.6 L305.0,680.9 L304.4,681.1 L303.7,681.4 L303.0,681.7 L302.4,682.0 L301.8,682.3 L301.2,682.8 L300.6,683.2 L300.1,683.7 L299.4,684.0 Z" fill="#2e2e2e"/>
<path d="M310.1,688.6 L310.8,688.3 L311.5,688.1 L312.2,688.0 L312.9,687.7 L313.5,687.4 L314.2,687.1 L314.8,686.7 L315.4,686.3 L315.9,685.9 L316.5,685.5 L317.0,685.0 L317.5,684.4 L318.0,683.8 L318.5,683.4 L318.3,683.0 L317.6,683.3 L316.9,683.5 L316.2,683.6 L315.5,683.9 L314.9,684.2 L314.2,684.5 L313.6,684.9 L313.0,685.3 L312.5,685.7 L311.9,686.1 L311.4,686.6 L310.9,687.2 L310.4,687.8 L309.9,688.2 Z" fill="#2e2e2e"/>
<path d="M322.7,691.8 L323.4,691.6 L324.1,691.5 L324.8,691.5 L325.6,691.4 L326.3,691.2 L327.0,691.0 L327.6,690.7 L328.3,690.5 L328.9,690.2 L329.6,689.9 L330.3,689.6 L330.9,689.3 L331.5,688.8 L332.1,688.4 L332.6,687.9 L333.3,687.6 L333.1,687.2 L332.4,687.4 L331.7,687.5 L331.0,687.5 L330.2,687.6 L329.5,687.8 L328.8,688.0 L328.2,688.3 L327.5,688.5 L326.9,688.8 L326.2,689.1 L325.5,689.4 L324.9,689.7 L324.3,690.2 L323.7,690.6 L323.2,691.1 L322.5,691.4 Z" fill="#2e2e2e"/>
<path d="M331.1,693.2 L331.8,693.0 L332.5,693.0 L333.2,693.0 L334.0,692.9 L334.7,692.8 L335.3,692.6 L336.0,692.4 L336.7,692.1 L337.3,691.9 L338.0,691.6 L338.6,691.3 L339.2,690.9 L339.8,690.5 L340.4,690.0 L341.1,689.7 L340.9,689.3 L340.2,689.5 L339.5,689.5 L338.8,689.5 L338.0,689.6 L337.3,689.7 L336.7,689.9 L336.0,690.1 L335.3,690.4 L334.7,690.6 L334.0,690.9 L333.4,691.2 L332.8,691.6 L332.2,692.0 L331.6,692.5 L330.9,692.8 Z" fill="#2e2e2e"/>
<path d="M290.9,700.2 L291.6,700.5 L292.2,700.9 L292.8,701.4 L293.4,701.8 L294.0,702.2 L294.7,702.6 L295.3,702.9 L296.0,703.2 L296.6,703.5 L297.3,703.8 L298.0,704.1 L298.7,704.4 L299.3,704.7 L300.0,705.0 L300.7,705.2 L301.4,705.4 L302.1,705.6 L302.8,705.8 L303.6,705.9 L304.3,706.1 L305.0,706.2 L305.7,706.5 L305.9,706.1 L305.2,705.8 L304.6,705.4 L304.0,704.9 L303.4,704.5 L302.8,704.1 L302.1,703.7 L301.5,703.4 L300.8,703.1 L300.2,702.8 L299.5,702.5 L298.8,702.2 L298.1,701.9 L297.5,701.6 L296.8,701.3 L296.1,701.1 L295.4,700.9 L294.7,700.7 L294.0,700.5 L293.2,700.4 L292.5,700.2 L291.8,700.1 L291.1,699.8 Z" fill="#2e2e2e"/>
<path d="M320.5,704.4 L321.2,704.5 L321.9,704.5 L322.6,704.6 L323.3,704.7 L324.0,704.8 L324.7,704.9 L325.4,705.1 L326.1,705.2 L326.8,705.3 L327.5,705.4 L328.2,705.6 L328.9,705.7 L329.6,705.8 L330.3,705.9 L331.1,706.0 L331.8,706.1 L332.5,706.2 L333.2,706.3 L333.9,706.4 L334.6,706.5 L335.3,706.6 L336.0,706.7 L336.7,706.7 L337.4,706.8 L338.1,706.8 L338.8,706.9 L339.5,706.9 L340.2,706.9 L340.9,707.0 L341.6,707.0 L342.3,707.0 L343.0,707.0 L343.7,707.0 L344.3,707.1 L345.0,707.0 L345.8,707.0 L346.5,707.0 L347.2,707.0 L348.0,707.0 L348.7,706.9 L349.4,706.9 L350.2,706.8 L350.9,706.7 L351.6,706.6 L352.3,706.5 L353.0,706.4 L353.7,706.3 L354.4,706.2 L355.1,706.1 L355.8,706.0 L356.5,705.8 L357.1,705.7 L357.8,705.6 L358.5,705.4 L359.2,705.3 L359.9,705.2 L360.6,705.0 L361.2,704.9 L361.9,704.7 L362.6,704.6 L363.3,704.5 L364.0,704.5 L364.7,704.4 L364.7,704.0 L364.0,704.1 L363.3,704.1 L362.6,704.2 L361.9,704.2 L361.2,704.2 L360.5,704.3 L359.8,704.3 L359.1,704.3 L358.4,704.3 L357.7,704.4 L357.0,704.4 L356.3,704.4 L355.6,704.5 L354.9,704.5 L354.2,704.5 L353.5,704.6 L352.8,704.6 L352.1,704.7 L351.4,704.7 L350.7,704.7 L350.0,704.8 L349.3,704.8 L348.6,704.8 L347.9,704.9 L347.2,704.9 L346.4,704.9 L345.7,704.9 L345.0,705.0 L344.3,705.0 L343.7,704.9 L343.0,704.9 L342.3,704.9 L341.7,704.9 L341.0,704.9 L340.3,704.8 L339.6,704.8 L339.0,704.8 L338.3,704.7 L337.6,704.7 L336.9,704.6 L336.2,704.6 L335.5,704.6 L334.8,704.5 L334.1,704.5 L333.4,704.4 L332.6,704.4 L331.9,704.4 L331.2,704.3 L330.5,704.3 L329.8,704.3 L329.1,704.3 L328.4,704.2 L327.6,704.2 L326.9,704.2 L326.2,704.2 L325.5,704.2 L324.8,704.2 L324.1,704.2 L323.3,704.2 L322.6,704.2 L321.9,704.1 L321.2,704.1 L320.5,704.0 Z" fill="#2e2e2e"/>
<path d="M343.7,710.7 L344.4,710.6 L345.2,710.6 L345.9,710.7 L346.6,710.7 L347.4,710.7 L348.1,710.7 L348.8,710.7 L349.5,710.6 L350.2,710.6 L350.9,710.5 L351.7,710.3 L352.4,710.2 L353.1,710.1 L353.8,710.0 L354.5,709.9 L355.2,709.7 L355.9,709.5 L356.6,709.3 L357.3,709.1 L358.0,708.8 L358.6,708.6 L359.3,708.3 L360.0,708.2 L360.0,707.8 L359.3,707.9 L358.5,707.9 L357.8,707.8 L357.1,707.8 L356.3,707.8 L355.6,707.8 L354.9,707.8 L354.2,707.9 L353.5,707.9 L352.8,708.0 L352.0,708.2 L351.3,708.3 L350.6,708.4 L349.9,708.5 L349.2,708.6 L348.5,708.8 L347.8,709.0 L347.1,709.2 L346.4,709.4 L345.7,709.7 L345.1,709.9 L344.4,710.2 L343.7,710.3 Z" fill="#2e2e2e"/>
<path d="M341.6,717.0 L342.4,717.0 L343.1,717.2 L343.9,717.4 L344.6,717.5 L345.4,717.5 L346.1,717.5 L346.9,717.4 L347.6,717.4 L348.4,717.3 L349.1,717.2 L349.8,717.0 L350.6,716.7 L351.3,716.3 L352.0,716.2 L352.0,715.8 L351.2,715.8 L350.5,715.6 L349.7,715.4 L349.0,715.3 L348.2,715.3 L347.5,715.3 L346.7,715.4 L346.0,715.4 L345.2,715.5 L344.5,715.6 L343.8,715.8 L343.0,716.1 L342.3,716.5 L341.6,716.6 Z" fill="#2e2e2e"/>
<path d="M299.5,720.2 L300.2,720.2 L300.9,720.2 L301.6,720.4 L302.3,720.5 L303.0,720.6 L303.7,720.7 L304.4,720.8 L305.1,720.9 L305.8,721.0 L306.5,721.1 L307.2,721.2 L307.9,721.2 L308.6,721.3 L309.3,721.3 L310.0,721.4 L310.7,721.4 L311.4,721.5 L312.1,721.5 L312.8,721.5 L313.5,721.5 L314.2,721.5 L314.9,721.6 L315.6,721.6 L316.3,721.6 L317.0,721.6 L317.7,721.7 L318.4,721.7 L319.1,721.7 L319.8,721.7 L320.5,721.7 L321.2,721.6 L321.9,721.6 L322.7,721.6 L323.4,721.5 L324.1,721.5 L324.8,721.4 L325.5,721.4 L326.2,721.3 L326.9,721.2 L327.6,721.2 L328.3,721.2 L329.0,721.2 L329.0,720.8 L328.3,720.8 L327.6,720.8 L326.9,720.6 L326.2,720.5 L325.5,720.4 L324.8,720.3 L324.1,720.2 L323.4,720.1 L322.7,720.0 L322.0,719.9 L321.3,719.8 L320.6,719.8 L319.9,719.7 L319.2,719.7 L318.5,719.6 L317.8,719.6 L317.1,719.5 L316.4,719.5 L315.7,719.5 L315.0,719.5 L314.3,719.5 L313.6,719.4 L312.9,719.4 L312.2,719.4 L311.5,719.4 L310.8,719.3 L310.1,719.3 L309.4,719.3 L308.7,719.3 L308.0,719.3 L307.3,719.4 L306.6,719.4 L305.8,719.4 L305.1,719.5 L304.4,719.5 L303.7,719.6 L303.0,719.6 L302.3,719.7 L301.6,719.8 L300.9,719.8 L300.2,719.8 L299.5,719.8 Z" fill="#2e2e2e"/>
<path d="M330.9,722.3 L331.6,722.6 L332.2,722.9 L332.9,723.3 L333.5,723.7 L334.1,724.1 L334.7,724.5 L335.3,724.9 L336.0,725.3 L336.6,725.7 L337.3,726.0 L337.9,726.4 L338.6,726.7 L339.3,727.0 L339.9,727.3 L340.6,727.6 L341.3,727.8 L342.0,728.0 L342.7,728.2 L343.5,728.4 L344.2,728.6 L344.9,728.7 L345.6,728.8 L346.3,728.9 L347.1,729.0 L347.8,729.0 L348.5,729.0 L349.2,729.0 L349.9,729.0 L350.7,729.0 L351.4,728.9 L352.1,728.8 L352.8,728.8 L353.5,728.7 L354.2,728.6 L354.9,728.5 L355.6,728.5 L356.3,728.6 L356.3,728.2 L355.6,728.2 L354.9,728.1 L354.2,728.0 L353.5,727.8 L352.8,727.7 L352.1,727.6 L351.4,727.5 L350.7,727.4 L350.0,727.3 L349.3,727.2 L348.6,727.1 L347.9,727.0 L347.3,726.9 L346.6,726.9 L345.9,726.8 L345.3,726.7 L344.6,726.5 L343.9,726.4 L343.3,726.2 L342.7,726.0 L342.0,725.8 L341.4,725.6 L340.7,725.3 L340.0,725.1 L339.4,724.8 L338.7,724.6 L338.0,724.3 L337.4,724.1 L336.7,723.8 L336.0,723.6 L335.3,723.3 L334.6,723.1 L333.9,722.9 L333.1,722.7 L332.4,722.5 L331.7,722.2 L331.1,721.9 Z" fill="#2e2e2e"/>
<path d="M335.0,721.7 L335.7,721.8 L336.4,721.8 L337.1,721.9 L337.8,722.0 L338.6,722.1 L339.3,722.2 L340.0,722.4 L340.7,722.5 L341.4,722.6 L342.1,722.7 L342.9,722.8 L343.6,722.9 L344.3,723.0 L345.0,723.1 L345.7,723.3 L346.5,723.4 L347.2,723.4 L347.9,723.5 L348.6,723.6 L349.3,723.7 L350.0,723.8 L350.8,723.9 L351.5,723.9 L352.2,724.0 L352.9,724.1 L353.6,724.1 L354.3,724.2 L355.0,724.2 L355.7,724.3 L356.5,724.3 L357.2,724.4 L357.9,724.4 L358.6,724.5 L359.2,724.5 L359.9,724.5 L360.7,724.6 L361.4,724.6 L362.2,724.7 L362.9,724.7 L363.6,724.7 L364.4,724.8 L365.1,724.8 L365.8,724.8 L366.6,724.8 L367.3,724.8 L368.0,724.8 L368.7,724.8 L369.4,724.8 L370.2,724.8 L370.9,724.7 L371.6,724.7 L372.3,724.7 L373.0,724.7 L373.7,724.6 L374.4,724.6 L375.2,724.6 L375.9,724.5 L376.6,724.5 L377.3,724.4 L378.0,724.4 L378.7,724.4 L379.4,724.3 L380.2,724.4 L380.9,724.4 L381.6,724.4 L381.6,724.0 L380.9,724.0 L380.2,724.0 L379.5,723.9 L378.7,723.9 L378.0,723.8 L377.3,723.7 L376.6,723.6 L375.9,723.6 L375.2,723.5 L374.5,723.4 L373.8,723.3 L373.1,723.3 L372.3,723.2 L371.6,723.2 L370.9,723.1 L370.2,723.0 L369.5,723.0 L368.8,722.9 L368.1,722.9 L367.3,722.8 L366.6,722.8 L365.9,722.7 L365.2,722.7 L364.5,722.7 L363.7,722.6 L363.0,722.6 L362.3,722.6 L361.5,722.5 L360.8,722.5 L360.1,722.5 L359.4,722.4 L358.7,722.4 L358.0,722.3 L357.3,722.3 L356.6,722.2 L355.9,722.2 L355.2,722.1 L354.5,722.1 L353.8,722.0 L353.1,722.0 L352.4,721.9 L351.6,721.9 L350.9,721.8 L350.2,721.8 L349.5,721.8 L348.8,721.7 L348.1,721.7 L347.3,721.7 L346.6,721.6 L345.9,721.6 L345.2,721.6 L344.4,721.6 L343.7,721.5 L343.0,721.5 L342.2,721.5 L341.5,721.5 L340.8,721.5 L340.1,721.5 L339.3,721.5 L338.6,721.5 L337.9,721.5 L337.2,721.5 L336.4,721.4 L335.7,721.4 L335.0,721.3 Z" fill="#2e2e2e"/>
<path d="M482.6,726.1 L481.9,726.2 L481.2,726.3 L480.5,726.4 L479.8,726.5 L479.1,726.5 L478.4,726.6 L477.7,726.7 L477.0,726.7 L476.3,726.8 L475.6,726.9 L474.9,727.0 L474.2,727.0 L473.5,727.1 L472.8,727.2 L472.2,727.2 L471.5,727.3 L470.8,727.3 L470.1,727.4 L469.4,727.4 L468.7,727.4 L468.0,727.4 L467.3,727.4 L466.6,727.4 L465.9,727.4 L465.3,727.3 L464.6,727.2 L464.0,727.2 L463.4,727.1 L462.8,727.0 L462.1,726.8 L461.5,726.7 L460.8,726.6 L460.2,726.4 L459.5,726.2 L458.8,726.1 L458.1,725.9 L457.5,725.7 L456.8,725.5 L456.1,725.3 L455.4,725.1 L454.7,724.9 L454.0,724.7 L453.3,724.5 L452.6,724.3 L451.9,724.2 L451.2,724.0 L450.5,723.8 L449.7,723.6 L449.0,723.4 L448.3,723.3 L447.6,723.1 L446.9,722.9 L446.1,722.8 L445.4,722.6 L444.7,722.5 L444.0,722.3 L443.3,722.1 L442.7,721.9 L442.5,722.3 L443.2,722.5 L443.9,722.7 L444.6,722.9 L445.3,723.2 L445.9,723.5 L446.6,723.7 L447.3,724.0 L448.0,724.3 L448.6,724.6 L449.3,724.9 L450.0,725.2 L450.7,725.4 L451.4,725.7 L452.1,726.0 L452.7,726.3 L453.4,726.5 L454.1,726.8 L454.8,727.0 L455.5,727.3 L456.2,727.5 L456.9,727.7 L457.6,727.9 L458.3,728.1 L459.0,728.3 L459.7,728.4 L460.3,728.6 L461.0,728.8 L461.7,728.9 L462.4,729.0 L463.1,729.1 L463.7,729.2 L464.4,729.3 L465.1,729.4 L465.7,729.4 L466.5,729.5 L467.3,729.5 L468.0,729.5 L468.8,729.5 L469.5,729.4 L470.3,729.3 L471.0,729.2 L471.7,729.1 L472.4,729.0 L473.1,728.8 L473.8,728.7 L474.5,728.5 L475.2,728.3 L475.8,728.2 L476.5,728.0 L477.2,727.8 L477.9,727.6 L478.5,727.4 L479.2,727.2 L479.9,727.0 L480.6,726.8 L481.2,726.7 L481.9,726.6 L482.6,726.5 Z" fill="#2e2e2e"/>
<path d="M453.2,730.3 L452.5,730.2 L451.8,730.0 L451.1,729.8 L450.5,729.5 L449.8,729.3 L449.1,729.1 L448.4,728.9 L447.7,728.6 L447.0,728.4 L446.3,728.2 L445.6,728.0 L444.9,727.8 L444.2,727.6 L443.5,727.4 L442.8,727.3 L442.1,727.1 L441.4,726.9 L440.7,726.8 L440.0,726.6 L439.3,726.5 L438.6,726.3 L437.9,726.1 L437.2,726.0 L436.5,725.8 L435.8,725.6 L435.1,725.5 L434.4,725.3 L433.7,725.1 L433.0,725.0 L432.3,724.8 L431.6,724.7 L430.9,724.5 L430.2,724.4 L429.5,724.3 L428.8,724.2 L428.1,724.1 L427.3,723.9 L426.6,723.8 L425.9,723.7 L425.2,723.6 L424.5,723.5 L423.8,723.5 L423.0,723.4 L422.3,723.2 L421.6,723.0 L421.6,723.4 L422.3,723.6 L422.9,723.7 L423.6,724.0 L424.3,724.2 L425.0,724.5 L425.7,724.8 L426.3,725.0 L427.0,725.3 L427.7,725.5 L428.4,725.7 L429.1,726.0 L429.7,726.2 L430.4,726.4 L431.1,726.6 L431.8,726.8 L432.5,727.0 L433.2,727.2 L433.9,727.4 L434.6,727.5 L435.3,727.7 L436.1,727.9 L436.8,728.0 L437.5,728.2 L438.2,728.3 L438.9,728.5 L439.6,728.7 L440.3,728.8 L441.0,729.0 L441.7,729.1 L442.4,729.2 L443.1,729.4 L443.8,729.5 L444.5,729.6 L445.2,729.7 L446.0,729.8 L446.7,729.9 L447.4,730.0 L448.1,730.0 L448.9,730.1 L449.6,730.2 L450.3,730.2 L451.0,730.3 L451.7,730.4 L452.5,730.5 L453.2,730.7 Z" fill="#2e2e2e"/>
<path d="M398.5,724.2 L399.2,724.3 L399.9,724.4 L400.6,724.6 L401.3,724.8 L402.0,725.0 L402.7,725.2 L403.4,725.3 L404.1,725.5 L404.8,725.6 L405.5,725.7 L406.2,725.8 L406.9,725.9 L407.6,725.9 L408.3,726.0 L409.0,726.1 L409.7,726.1 L410.4,726.2 L411.1,726.3 L411.8,726.3 L412.5,726.4 L413.3,726.4 L414.0,726.4 L414.7,726.3 L415.4,726.3 L416.1,726.3 L416.8,726.2 L417.6,726.1 L418.3,726.1 L419.0,726.2 L419.0,725.8 L418.3,725.7 L417.6,725.6 L416.9,725.4 L416.2,725.2 L415.5,725.0 L414.8,724.8 L414.1,724.7 L413.4,724.5 L412.7,724.4 L412.0,724.3 L411.3,724.2 L410.6,724.1 L409.9,724.1 L409.2,724.0 L408.5,723.9 L407.8,723.9 L407.1,723.8 L406.4,723.7 L405.7,723.7 L405.0,723.6 L404.2,723.6 L403.5,723.6 L402.8,723.7 L402.1,723.7 L401.4,723.7 L400.7,723.8 L399.9,723.9 L399.2,723.9 L398.5,723.8 Z" fill="#2e2e2e"/>
<path d="M427.8,742.3 L428.4,742.6 L429.0,743.0 L429.6,743.5 L430.2,743.9 L430.7,744.4 L431.3,744.9 L431.8,745.4 L432.4,745.9 L432.9,746.4 L433.5,746.8 L434.1,747.3 L434.7,747.7 L435.3,748.2 L435.9,748.6 L436.6,749.0 L437.2,749.3 L438.0,749.7 L438.7,750.0 L439.4,750.3 L440.2,750.5 L440.9,750.7 L441.5,750.8 L442.2,750.9 L442.9,751.0 L443.5,751.1 L444.2,751.2 L444.9,751.2 L445.6,751.3 L446.4,751.3 L447.1,751.3 L447.8,751.3 L448.5,751.3 L449.3,751.2 L450.0,751.2 L450.8,751.1 L451.5,751.1 L452.3,751.0 L453.0,750.9 L453.8,750.8 L454.5,750.7 L455.3,750.6 L456.0,750.5 L456.8,750.4 L457.5,750.2 L458.2,750.1 L459.0,750.0 L459.7,749.9 L460.4,749.8 L461.2,749.7 L461.9,749.7 L462.6,749.7 L462.6,749.3 L461.9,749.3 L461.2,749.3 L460.4,749.3 L459.7,749.3 L458.9,749.2 L458.2,749.2 L457.4,749.2 L456.7,749.1 L455.9,749.1 L455.2,749.1 L454.4,749.1 L453.7,749.1 L452.9,749.1 L452.2,749.1 L451.4,749.1 L450.7,749.1 L449.9,749.2 L449.2,749.2 L448.5,749.2 L447.8,749.2 L447.1,749.2 L446.4,749.2 L445.7,749.2 L445.1,749.1 L444.4,749.1 L443.8,749.0 L443.1,749.0 L442.5,748.9 L441.9,748.8 L441.3,748.6 L440.8,748.5 L440.1,748.3 L439.4,748.1 L438.7,747.8 L438.1,747.5 L437.5,747.3 L436.8,747.0 L436.2,746.6 L435.6,746.3 L434.9,746.0 L434.3,745.6 L433.7,745.2 L433.1,744.9 L432.4,744.5 L431.8,744.1 L431.2,743.8 L430.5,743.4 L429.9,743.1 L429.2,742.7 L428.6,742.3 L428.0,741.9 Z" fill="#2e2e2e"/>
<path d="M434.1,734.8 L434.6,735.3 L435.0,735.9 L435.4,736.6 L435.8,737.2 L436.2,737.8 L436.6,738.3 L437.1,738.9 L437.5,739.5 L438.0,740.0 L438.5,740.5 L439.0,741.0 L439.5,741.5 L440.0,742.0 L440.5,742.6 L441.0,743.1 L441.5,743.6 L442.1,744.0 L442.6,744.5 L443.2,745.0 L443.8,745.4 L444.3,745.8 L444.9,746.2 L445.6,746.6 L446.2,747.0 L446.7,747.5 L446.9,747.3 L446.4,746.8 L446.0,746.2 L445.6,745.5 L445.2,744.9 L444.8,744.3 L444.4,743.8 L443.9,743.2 L443.5,742.6 L443.0,742.1 L442.5,741.6 L442.0,741.1 L441.5,740.6 L441.0,740.1 L440.5,739.5 L440.0,739.0 L439.5,738.5 L438.9,738.1 L438.4,737.6 L437.8,737.1 L437.2,736.7 L436.7,736.3 L436.1,735.9 L435.4,735.5 L434.8,735.1 L434.3,734.6 Z" fill="#2e2e2e"/>
<path d="M281.5,167.3 L281.4,168.0 L281.3,168.7 L281.0,169.5 L280.8,170.2 L280.5,170.9 L280.3,171.6 L280.1,172.4 L279.9,173.1 L279.7,173.9 L279.6,174.6 L279.4,175.4 L279.4,176.1 L279.4,176.9 L279.4,177.7 L279.5,178.4 L279.6,179.2 L279.7,180.0 L280.0,180.7 L280.2,181.5 L280.6,182.2 L280.9,182.9 L281.3,183.6 L281.8,184.2 L282.2,184.8 L282.7,185.4 L283.2,186.0 L283.7,186.6 L284.2,187.2 L284.7,187.8 L285.1,188.4 L285.4,189.1 L285.8,188.9 L285.4,188.2 L285.1,187.5 L284.8,186.8 L284.6,186.1 L284.2,185.4 L283.9,184.7 L283.6,184.0 L283.3,183.3 L283.0,182.6 L282.7,182.0 L282.4,181.3 L282.2,180.7 L282.0,180.1 L281.8,179.4 L281.6,178.8 L281.5,178.2 L281.5,177.5 L281.5,176.9 L281.5,176.2 L281.5,175.5 L281.6,174.8 L281.6,174.1 L281.6,173.4 L281.7,172.6 L281.7,171.9 L281.8,171.1 L281.8,170.3 L281.8,169.6 L281.8,168.8 L281.8,168.1 L281.9,167.3 Z" fill="#2e2e2e"/>
<path d="M374.5,133.4 L374.4,134.1 L374.3,134.8 L374.0,135.5 L373.8,136.2 L373.6,136.8 L373.4,137.5 L373.2,138.2 L373.0,138.9 L372.9,139.6 L372.8,140.4 L372.7,141.1 L372.6,141.8 L372.5,142.5 L372.5,143.2 L372.5,144.0 L372.4,144.7 L372.4,145.4 L372.4,146.1 L372.5,146.8 L372.5,147.5 L372.6,148.3 L372.7,149.0 L372.8,149.7 L373.0,150.4 L373.1,151.0 L373.3,151.7 L373.5,152.4 L373.7,153.1 L373.8,153.8 L373.8,154.5 L374.2,154.5 L374.2,153.8 L374.2,153.1 L374.3,152.4 L374.3,151.7 L374.4,151.0 L374.5,150.2 L374.5,149.5 L374.5,148.8 L374.5,148.1 L374.6,147.5 L374.6,146.8 L374.5,146.1 L374.5,145.4 L374.5,144.7 L374.5,144.0 L374.6,143.3 L374.6,142.7 L374.7,142.0 L374.7,141.3 L374.8,140.6 L374.8,139.9 L374.9,139.2 L374.9,138.5 L374.9,137.7 L374.9,137.0 L374.9,136.3 L374.8,135.6 L374.8,134.8 L374.8,134.1 L374.9,133.4 Z" fill="#2e2e2e"/>
<path d="M380.9,160.2 L381.6,160.5 L382.2,160.9 L382.9,161.3 L383.6,161.6 L384.4,161.8 L385.1,162.0 L385.9,162.0 L386.8,162.1 L387.7,162.0 L388.5,161.7 L389.3,161.4 L390.0,161.0 L390.8,160.8 L390.8,160.4 L390.0,160.4 L389.1,160.2 L388.3,160.0 L387.5,160.0 L386.8,160.0 L386.1,160.0 L385.4,159.9 L384.7,159.8 L384.0,159.7 L383.3,159.7 L382.5,159.8 L381.7,159.9 L380.9,159.8 Z" fill="#2e2e2e"/>
<path d="M468.8,177.8 L468.7,178.5 L468.5,179.2 L468.2,179.9 L467.9,180.6 L467.6,181.4 L467.3,182.1 L467.1,182.8 L466.9,183.6 L466.8,184.4 L466.8,185.2 L466.8,186.0 L466.9,186.8 L467.0,187.6 L467.2,188.3 L467.4,189.1 L467.7,189.8 L468.0,190.5 L468.3,191.2 L468.7,191.8 L469.1,192.5 L469.5,193.1 L470.0,193.8 L470.5,194.4 L470.9,195.0 L471.3,195.6 L471.6,196.3 L472.0,196.1 L471.7,195.4 L471.5,194.7 L471.3,194.0 L471.1,193.2 L470.8,192.5 L470.6,191.8 L470.4,191.1 L470.1,190.4 L469.9,189.7 L469.6,189.0 L469.4,188.4 L469.2,187.8 L469.0,187.2 L468.9,186.6 L468.9,185.9 L468.9,185.2 L468.9,184.6 L468.9,183.9 L468.9,183.1 L469.0,182.4 L469.0,181.7 L469.1,180.9 L469.1,180.1 L469.1,179.3 L469.1,178.6 L469.2,177.8 Z" fill="#2e2e2e"/>
<path d="M531.5,270.0 L531.5,270.7 L531.3,271.5 L531.1,272.2 L531.0,272.9 L530.9,273.6 L530.8,274.4 L530.9,275.1 L530.9,275.8 L530.9,276.5 L531.0,277.2 L531.1,277.9 L531.2,278.7 L531.4,279.4 L531.6,280.1 L531.9,280.8 L532.0,281.5 L532.4,281.5 L532.4,280.8 L532.6,280.0 L532.8,279.3 L532.9,278.6 L533.0,277.9 L533.1,277.1 L533.0,276.4 L533.0,275.7 L533.0,275.0 L532.9,274.3 L532.8,273.6 L532.7,272.8 L532.5,272.1 L532.3,271.4 L532.0,270.7 L531.9,270.0 Z" fill="#2e2e2e"/>
<path d="M533.7,285.2 L534.3,285.5 L535.0,285.9 L535.6,286.3 L536.3,286.6 L537.0,286.9 L537.7,287.0 L538.4,287.2 L539.1,287.4 L539.8,287.5 L540.5,287.6 L541.3,287.6 L542.1,287.6 L542.8,287.5 L543.6,287.6 L543.6,287.2 L543.0,286.9 L542.3,286.5 L541.7,286.1 L541.0,285.8 L540.3,285.5 L539.6,285.4 L538.9,285.2 L538.2,285.0 L537.5,284.9 L536.8,284.8 L536.0,284.8 L535.2,284.8 L534.5,284.9 L533.7,284.8 Z" fill="#2e2e2e"/>
<path d="M129.0,395.7 L129.5,396.1 L130.0,396.7 L130.5,397.3 L131.0,397.9 L131.5,398.5 L132.0,399.1 L132.5,399.7 L133.0,400.3 L133.5,400.9 L134.1,401.5 L134.6,402.0 L135.2,402.6 L135.8,403.1 L136.3,403.6 L136.9,404.1 L137.4,404.5 L138.0,405.0 L138.6,405.4 L139.1,405.8 L139.7,406.2 L140.2,406.5 L140.8,406.7 L141.6,407.1 L142.4,407.3 L143.1,407.4 L143.9,407.5 L144.6,407.6 L145.2,407.6 L145.9,407.6 L146.6,407.7 L147.2,407.9 L147.4,407.5 L146.7,407.3 L146.0,407.1 L145.4,406.9 L144.8,406.6 L144.1,406.4 L143.5,406.1 L142.9,405.8 L142.3,405.5 L141.6,405.1 L141.2,404.8 L140.8,404.5 L140.3,404.1 L139.8,403.7 L139.3,403.3 L138.8,402.9 L138.3,402.5 L137.7,402.0 L137.2,401.5 L136.6,401.0 L136.0,400.5 L135.5,400.0 L134.9,399.5 L134.3,399.0 L133.6,398.5 L133.0,398.0 L132.4,397.6 L131.7,397.1 L131.0,396.7 L130.4,396.3 L129.8,395.8 L129.2,395.3 Z" fill="#2e2e2e"/>
<path d="M143.8,412.2 L144.5,412.4 L145.2,412.7 L145.9,412.9 L146.6,413.0 L147.3,413.0 L148.1,413.1 L148.8,413.0 L149.5,412.9 L150.2,412.7 L150.9,412.4 L151.6,412.2 L151.6,411.8 L150.9,411.6 L150.2,411.3 L149.5,411.1 L148.8,411.0 L148.1,410.9 L147.3,410.9 L146.6,411.0 L145.9,411.1 L145.2,411.3 L144.5,411.6 L143.8,411.8 Z" fill="#2e2e2e"/>
<polygon points="362.8,340 367.5,343.2 367.2,349 370.5,355.5 366,361.5 362.5,352" fill="#2b2b2b"/>
<polygon points="431.5,362 436.5,366.5 435.5,373.8 438,377 432,375 428,371" fill="#2b2b2b"/>
<polygon points="497.5,409 500.5,417.5 504,421 498,420 493,416" fill="#2b2b2b"/>
<polygon points="255,500 262,502.5 266,504 260.5,507 254,504" fill="#2b2b2b"/>
<polygon points="478.5,722 484.5,718 486.5,726 484,732 480.5,727.5" fill="#2b2b2b"/>
<polygon points="279,684 285,689.5 290,694.5 287,697 284,700" fill="#2b2b2b"/>
</g>

<line x1="392.9" y1="131" x2="392.9" y2="707" stroke="#D7182A" stroke-width="2.8"/>
<polygon points="393,123.5 387.4,134 398.6,134" fill="#D7182A"/>
<polygon points="393.2,715.5 388.4,705.5 398,705.5" fill="#D7182A"/>
<line x1="272" y1="720" x2="510" y2="720" stroke="#D7182A" stroke-width="2.1"/>
<path d="M294.4,405.9 C306.3,406.6 317.8,406.7 330.0,408.0 C343.0,409.4 357.9,411.8 370.0,414.0 C380.2,415.9 388.4,417.8 398.0,420.0 C408.3,422.4 418.7,425.1 430.0,428.0 C442.6,431.2 457.7,435.0 470.0,438.6 C480.8,441.7 490.1,444.8 500.0,448.0 C509.9,451.2 521.5,454.5 529.4,457.8 C535.1,460.2 538.8,462.6 543.5,465.0" fill="none" stroke="#D7182A" stroke-width="2.7" stroke-dasharray="8.5 6"/>
<path d="M283.3,405.4 L282.6,405.6 L281.8,405.8 L281.1,406.0 L280.3,406.2 L279.6,406.3 L278.8,406.5 L278.1,406.8 L277.3,407.0 L276.6,407.4 L276.0,407.8 L275.3,408.3 L274.7,408.9 L274.1,409.5 L273.6,410.2 L273.1,410.9 L272.8,411.6 L272.5,412.4 L272.4,413.3 L272.4,414.0 L272.6,414.8 L272.9,415.5 L273.2,416.2 L273.6,416.9 L274.1,417.6 L274.6,418.2 L275.2,418.9 L275.7,419.5 L276.3,420.2 L276.7,420.6 L277.1,421.1 L277.5,421.6 L278.0,422.0 L278.5,422.5 L279.0,423.0 L279.6,423.4 L280.1,423.9 L280.7,424.4 L281.2,424.9 L281.8,425.3 L282.4,425.8 L283.1,426.2 L283.7,426.7 L284.3,427.1 L284.9,427.6 L285.6,428.0 L286.2,428.4 L286.9,428.9 L287.5,429.3 L288.1,429.6 L288.7,430.0 L289.3,430.3 L289.9,430.6 L290.4,431.0 L291.1,431.3 L291.7,431.6 L292.3,431.9 L292.9,432.2 L293.5,432.5 L294.2,432.8 L294.8,433.1 L295.4,433.4 L296.1,433.7 L296.7,434.0 L297.4,434.2 L298.1,434.5 L298.7,434.8 L299.4,435.1 L300.1,435.4 L300.7,435.7 L301.4,436.0 L302.1,436.2 L302.8,436.5 L303.4,436.8 L304.1,437.1 L304.8,437.4 L305.5,437.7 L306.1,438.0 L306.7,438.2 L307.3,438.5 L307.9,438.8 L308.6,439.1 L309.2,439.3 L309.8,439.6 L310.5,439.9 L311.1,440.1 L311.8,440.4 L312.4,440.7 L313.1,441.0 L313.7,441.2 L314.4,441.5 L315.0,441.8 L315.7,442.1 L316.4,442.3 L317.0,442.6 L317.7,442.9 L318.4,443.1 L319.1,443.4 L319.7,443.6 L320.4,443.9 L321.1,444.2 L321.8,444.4 L322.5,444.7 L323.2,444.9 L323.9,445.2 L324.5,445.4 L325.2,445.7 L325.9,445.9 L326.6,446.2 L327.3,446.5 L328.0,446.7 L328.7,447.0 L329.4,447.2 L330.0,447.4 L330.6,447.7 L331.3,447.9 L331.9,448.2 L332.5,448.4 L333.2,448.6 L333.8,448.9 L334.5,449.1 L335.1,449.4 L335.7,449.6 L336.4,449.8 L337.0,450.1 L337.7,450.3 L338.3,450.6 L338.9,450.8 L339.6,451.1 L340.2,451.3 L340.9,451.5 L341.5,451.8 L342.2,452.0 L342.9,452.3 L343.5,452.5 L344.2,452.7 L344.8,453.0 L345.5,453.2 L346.2,453.5 L346.8,453.7 L347.5,453.9 L348.2,454.2 L348.9,454.4 L349.6,454.6 L350.2,454.9 L350.9,455.1 L351.6,455.3 L352.3,455.6 L353.0,455.8 L353.7,456.0 L354.4,456.2 L355.2,456.5 L355.9,456.7 L356.6,456.9 L357.2,457.1 L357.9,457.3 L358.5,457.5 L359.2,457.7 L359.8,457.9 L360.5,458.0 L361.2,458.2 L361.8,458.4 L362.5,458.6 L363.2,458.8 L363.8,459.0 L364.5,459.1 L365.2,459.3 L365.9,459.5 L366.6,459.7 L367.2,459.8 L367.9,460.0 L368.6,460.2 L369.3,460.3 L370.0,460.5 L370.7,460.7 L371.4,460.9 L372.1,461.0 L372.8,461.2 L373.5,461.4 L374.2,461.5 L374.9,461.7 L375.6,461.9 L376.3,462.0 L377.0,462.2 L377.8,462.4 L378.5,462.5 L379.2,462.7 L379.9,462.9 L380.6,463.0 L381.3,463.2 L382.0,463.3 L382.7,463.5 L383.4,463.7 L384.1,463.8 L384.8,464.0 L385.5,464.2 L386.2,464.3 L387.0,464.5 L387.7,464.7 L388.4,464.8 L389.1,465.0 L389.8,465.2 L390.5,465.3 L391.1,465.5 L391.8,465.7 L392.5,465.8 L393.2,466.0 L393.9,466.2 L394.6,466.3 L395.3,466.5 L396.0,466.7 L396.6,466.8 L397.3,467.0 L398.0,467.2 L398.7,467.4 L399.4,467.5 L400.0,467.7 L400.7,467.9 L401.4,468.0 L402.1,468.2 L402.7,468.4 L403.4,468.6 L404.1,468.7 L404.8,468.9 L405.4,469.1 L406.1,469.3 L406.8,469.4 L407.5,469.6 L408.1,469.8 L408.8,469.9 L409.5,470.1 L410.2,470.3 L410.8,470.5 L411.5,470.6 L412.2,470.8 L412.9,471.0 L413.6,471.2 L414.2,471.3 L414.9,471.5 L415.6,471.7 L416.3,471.8 L417.0,472.0 L417.7,472.2 L418.3,472.3 L419.0,472.5 L419.7,472.7 L420.4,472.9 L421.1,473.0 L421.8,473.2 L422.5,473.4 L423.2,473.5 L423.9,473.7 L424.6,473.8 L425.3,474.0 L426.0,474.2 L426.7,474.3 L427.5,474.5 L428.2,474.7 L428.9,474.8 L429.6,475.0 L430.3,475.1 L431.1,475.3 L431.7,475.4 L432.4,475.6 L433.1,475.7 L433.7,475.9 L434.4,476.0 L435.1,476.2 L435.8,476.3 L436.5,476.4 L437.2,476.6 L437.9,476.7 L438.6,476.9 L439.3,477.0 L440.0,477.2 L440.7,477.3 L441.4,477.4 L442.1,477.6 L442.8,477.7 L443.5,477.9 L444.2,478.0 L445.0,478.1 L445.7,478.3 L446.4,478.4 L447.1,478.6 L447.8,478.7 L448.6,478.8 L449.3,479.0 L450.0,479.1 L450.7,479.2 L451.5,479.4 L452.2,479.5 L452.9,479.7 L453.6,479.8 L454.4,479.9 L455.1,480.1 L455.8,480.2 L456.5,480.3 L457.3,480.4 L458.0,480.6 L458.7,480.7 L459.4,480.8 L460.1,481.0 L460.9,481.1 L461.6,481.2 L462.3,481.3 L463.0,481.5 L463.7,481.6 L464.4,481.7 L465.1,481.8 L465.8,482.0 L466.5,482.1 L467.2,482.2 L467.9,482.3 L468.6,482.4 L469.2,482.6 L469.9,482.7 L470.6,482.8 L471.3,482.9 L471.9,483.0 L472.6,483.1 L473.2,483.3 L473.9,483.4 L474.5,483.5 L475.2,483.6 L475.8,483.7 L476.4,483.8 L477.1,483.9 L477.8,484.0 L478.6,484.2 L479.4,484.3 L480.1,484.4 L480.9,484.5 L481.6,484.7 L482.4,484.8 L483.1,484.9 L483.9,485.0 L484.6,485.1 L485.3,485.2 L486.0,485.4 L486.7,485.5 L487.4,485.6 L488.1,485.7 L488.9,485.8 L489.6,485.9 L490.2,486.0 L490.9,486.1 L491.6,486.2 L492.3,486.3 L493.0,486.4 L493.7,486.5 L494.4,486.6 L495.1,486.7 L495.8,486.8 L496.4,486.9 L497.1,487.0 L497.8,487.1 L498.5,487.2 L499.2,487.3 L499.9,487.4 L500.5,487.5 L501.2,487.6 L501.9,487.7 L502.6,487.8 L503.3,487.9 L504.0,488.0 L504.7,488.0 L505.4,488.1 L506.1,488.2 L506.8,488.3 L507.5,488.4 L508.2,488.5 L508.9,488.6 L509.6,488.7 L510.3,488.8 L511.1,488.9 L511.8,489.0 L512.5,489.1 L513.2,489.2 L513.9,489.3 L514.7,489.4 L515.4,489.5 L516.1,489.6 L516.9,489.7 L517.6,489.8 L518.3,489.9 L519.1,490.0 L519.8,490.1 L520.5,490.2 L521.2,490.3 L522.0,490.3 L522.7,490.4 L523.4,490.5 L524.1,490.6 L524.9,490.7 L525.6,490.8 L526.3,490.8 L527.0,490.9 L527.7,491.0 L528.4,491.0 L529.1,491.1 L529.8,491.2 L530.5,491.2 L531.2,491.3 L531.8,491.3 L532.5,491.3 L533.2,491.4 L533.8,491.4 L534.5,491.4 L535.1,491.5 L535.7,491.5 L536.4,491.5 L537.0,491.5 L537.8,491.5 L538.6,491.5 L539.5,491.5 L540.3,491.5 L541.1,491.5 L541.9,491.4 L542.7,491.4 L543.5,491.4 L544.2,491.4 L545.0,491.3 L545.8,491.3 L546.5,491.2 L547.3,491.2 L548.0,491.1 L548.8,491.0 L549.5,490.9 L550.2,490.8 L550.9,490.7 L551.6,490.5 L552.2,490.3 L552.9,490.2 L553.6,490.0 L554.2,489.7 L554.8,489.5 L555.6,489.2 L556.4,488.8 L557.1,488.4 L557.9,488.0 L558.7,487.5 L559.4,487.0 L560.1,486.5 L560.8,486.0 L561.5,485.5 L562.1,484.9 L562.6,484.4 L563.1,483.8 L563.5,483.1 L563.8,482.5 L564.0,481.8 L564.1,480.9 L564.0,480.1 L563.8,479.2 L563.4,478.4 L563.0,477.6 L562.5,476.8 L562.0,476.1 L561.5,475.4 L560.9,474.7 L560.3,474.0 L559.8,473.5 L559.2,473.1 L558.6,472.6 L558.0,472.2 L557.3,471.8 L556.7,471.4 L556.0,471.0 L555.3,470.7 L554.5,470.3 L553.8,470.0 L553.1,469.6 L552.4,469.3 L551.8,468.9 L551.1,468.6 L550.4,468.2 L549.6,469.8 L550.2,470.2 L550.9,470.5 L551.6,470.9 L552.3,471.3 L553.0,471.6 L553.7,472.0 L554.4,472.3 L555.1,472.7 L555.7,473.0 L556.4,473.4 L557.0,473.8 L557.5,474.2 L558.0,474.5 L558.5,474.9 L558.9,475.4 L559.4,476.0 L559.9,476.6 L560.4,477.2 L560.9,477.9 L561.3,478.6 L561.6,479.2 L561.9,479.9 L562.0,480.4 L562.1,480.9 L562.0,481.4 L561.9,481.7 L561.7,482.1 L561.4,482.5 L561.0,483.0 L560.6,483.5 L560.1,483.9 L559.5,484.4 L558.9,484.8 L558.3,485.3 L557.6,485.7 L556.9,486.1 L556.1,486.5 L555.4,486.9 L554.7,487.2 L554.0,487.5 L553.4,487.7 L552.9,487.9 L552.3,488.1 L551.7,488.2 L551.1,488.4 L550.5,488.5 L549.8,488.6 L549.2,488.7 L548.5,488.8 L547.8,488.9 L547.1,488.9 L546.4,489.0 L545.6,489.0 L544.9,489.1 L544.1,489.1 L543.4,489.1 L542.6,489.1 L541.8,489.1 L541.0,489.1 L540.3,489.1 L539.4,489.1 L538.6,489.1 L537.8,489.1 L537.0,489.1 L536.4,489.1 L535.8,489.1 L535.2,489.1 L534.6,489.0 L533.9,489.0 L533.3,489.0 L532.7,488.9 L532.0,488.9 L531.3,488.8 L530.7,488.8 L530.0,488.7 L529.3,488.7 L528.6,488.6 L528.0,488.5 L527.3,488.4 L526.6,488.4 L525.9,488.3 L525.1,488.2 L524.4,488.1 L523.7,488.0 L523.0,487.9 L522.3,487.8 L521.6,487.7 L520.9,487.6 L520.1,487.5 L519.4,487.4 L518.7,487.3 L517.9,487.2 L517.2,487.1 L516.5,487.0 L515.8,486.9 L515.0,486.8 L514.3,486.7 L513.6,486.6 L512.9,486.5 L512.1,486.4 L511.4,486.3 L510.7,486.2 L510.0,486.1 L509.3,486.0 L508.6,485.9 L507.9,485.8 L507.2,485.7 L506.5,485.6 L505.8,485.5 L505.1,485.4 L504.4,485.3 L503.7,485.2 L503.0,485.1 L502.3,485.0 L501.6,484.9 L500.9,484.8 L500.2,484.7 L499.6,484.6 L498.9,484.5 L498.2,484.4 L497.5,484.3 L496.8,484.2 L496.2,484.1 L495.5,484.0 L494.8,483.9 L494.1,483.8 L493.4,483.7 L492.7,483.6 L492.0,483.5 L491.4,483.4 L490.7,483.3 L490.0,483.2 L489.3,483.1 L488.6,483.0 L487.9,482.8 L487.2,482.7 L486.5,482.6 L485.7,482.5 L485.0,482.4 L484.3,482.3 L483.6,482.1 L482.8,482.0 L482.1,481.9 L481.4,481.8 L480.6,481.6 L479.8,481.5 L479.1,481.4 L478.3,481.2 L477.5,481.1 L476.9,481.0 L476.3,480.9 L475.7,480.8 L475.0,480.7 L474.4,480.5 L473.7,480.4 L473.1,480.3 L472.4,480.2 L471.7,480.1 L471.1,480.0 L470.4,479.8 L469.7,479.7 L469.1,479.6 L468.4,479.5 L467.7,479.4 L467.0,479.2 L466.3,479.1 L465.6,479.0 L464.9,478.9 L464.2,478.7 L463.5,478.6 L462.8,478.5 L462.1,478.3 L461.4,478.2 L460.7,478.1 L460.0,477.9 L459.2,477.8 L458.5,477.7 L457.8,477.5 L457.1,477.4 L456.4,477.3 L455.6,477.1 L454.9,477.0 L454.2,476.9 L453.5,476.7 L452.7,476.6 L452.0,476.4 L451.3,476.3 L450.6,476.2 L449.9,476.0 L449.1,475.9 L448.4,475.7 L447.7,475.6 L447.0,475.5 L446.3,475.3 L445.5,475.2 L444.8,475.0 L444.1,474.9 L443.4,474.8 L442.7,474.6 L442.0,474.5 L441.3,474.3 L440.6,474.2 L439.9,474.0 L439.2,473.9 L438.5,473.7 L437.8,473.6 L437.1,473.5 L436.4,473.3 L435.7,473.2 L435.1,473.0 L434.4,472.9 L433.7,472.7 L433.0,472.6 L432.4,472.4 L431.7,472.3 L431.0,472.1 L430.3,472.0 L429.6,471.8 L428.9,471.7 L428.1,471.5 L427.4,471.3 L426.7,471.2 L426.0,471.0 L425.3,470.8 L424.6,470.7 L423.9,470.5 L423.2,470.3 L422.5,470.2 L421.9,470.0 L421.2,469.8 L420.5,469.7 L419.8,469.5 L419.1,469.3 L418.4,469.1 L417.7,469.0 L417.1,468.8 L416.4,468.6 L415.7,468.5 L415.0,468.3 L414.3,468.1 L413.7,467.9 L413.0,467.8 L412.3,467.6 L411.6,467.4 L411.0,467.2 L410.3,467.1 L409.6,466.9 L408.9,466.7 L408.3,466.5 L407.6,466.4 L406.9,466.2 L406.2,466.0 L405.6,465.8 L404.9,465.7 L404.2,465.5 L403.5,465.3 L402.9,465.1 L402.2,465.0 L401.5,464.8 L400.8,464.6 L400.2,464.4 L399.5,464.3 L398.8,464.1 L398.1,463.9 L397.4,463.7 L396.7,463.6 L396.1,463.4 L395.4,463.2 L394.7,463.0 L394.0,462.9 L393.3,462.7 L392.6,462.5 L391.9,462.3 L391.2,462.2 L390.5,462.0 L389.8,461.8 L389.1,461.7 L388.4,461.5 L387.7,461.3 L387.0,461.2 L386.3,461.0 L385.6,460.8 L384.9,460.7 L384.2,460.5 L383.5,460.3 L382.7,460.2 L382.0,460.0 L381.3,459.8 L380.6,459.7 L379.9,459.5 L379.2,459.3 L378.5,459.2 L377.8,459.0 L377.1,458.8 L376.4,458.7 L375.7,458.5 L375.0,458.3 L374.3,458.1 L373.6,458.0 L372.9,457.8 L372.2,457.6 L371.5,457.5 L370.8,457.3 L370.1,457.1 L369.4,456.9 L368.7,456.8 L368.1,456.6 L367.4,456.4 L366.7,456.3 L366.0,456.1 L365.4,455.9 L364.7,455.7 L364.0,455.5 L363.4,455.4 L362.7,455.2 L362.1,455.0 L361.4,454.8 L360.8,454.6 L360.1,454.4 L359.5,454.3 L358.8,454.1 L358.2,453.9 L357.6,453.7 L356.9,453.5 L356.2,453.2 L355.5,453.0 L354.8,452.8 L354.1,452.6 L353.4,452.3 L352.7,452.1 L352.0,451.9 L351.3,451.6 L350.7,451.4 L350.0,451.2 L349.3,450.9 L348.7,450.7 L348.0,450.5 L347.3,450.2 L346.7,450.0 L346.0,449.7 L345.4,449.5 L344.7,449.2 L344.1,449.0 L343.4,448.7 L342.8,448.5 L342.1,448.3 L341.5,448.0 L340.8,447.8 L340.2,447.5 L339.6,447.3 L338.9,447.0 L338.3,446.8 L337.7,446.5 L337.0,446.3 L336.4,446.0 L335.7,445.8 L335.1,445.5 L334.5,445.3 L333.8,445.0 L333.2,444.8 L332.6,444.5 L331.9,444.3 L331.3,444.0 L330.6,443.8 L330.0,443.5 L329.3,443.3 L328.6,443.0 L327.9,442.7 L327.2,442.5 L326.5,442.2 L325.9,442.0 L325.2,441.7 L324.5,441.4 L323.8,441.2 L323.1,440.9 L322.4,440.6 L321.8,440.4 L321.1,440.1 L320.4,439.9 L319.7,439.6 L319.1,439.3 L318.4,439.1 L317.7,438.8 L317.1,438.6 L316.4,438.4 L315.7,438.1 L315.1,437.9 L314.4,437.6 L313.7,437.4 L313.1,437.1 L312.4,436.9 L311.8,436.6 L311.1,436.4 L310.5,436.2 L309.9,435.9 L309.2,435.7 L308.6,435.4 L308.0,435.2 L307.3,434.9 L306.7,434.7 L306.0,434.4 L305.3,434.1 L304.6,433.9 L303.9,433.6 L303.3,433.3 L302.6,433.1 L301.9,432.8 L301.2,432.6 L300.5,432.3 L299.9,432.1 L299.2,431.8 L298.5,431.5 L297.9,431.3 L297.2,431.0 L296.6,430.8 L295.9,430.5 L295.3,430.2 L294.7,430.0 L294.1,429.7 L293.4,429.4 L292.8,429.2 L292.2,428.9 L291.7,428.6 L291.1,428.3 L290.5,428.0 L289.9,427.7 L289.4,427.4 L288.9,427.1 L288.2,426.7 L287.6,426.4 L286.9,426.0 L286.3,425.6 L285.6,425.2 L285.0,424.7 L284.4,424.3 L283.8,423.9 L283.2,423.5 L282.6,423.1 L282.0,422.6 L281.5,422.2 L281.0,421.8 L280.4,421.4 L279.9,420.9 L279.4,420.5 L279.0,420.1 L278.6,419.7 L278.1,419.2 L277.7,418.8 L277.2,418.2 L276.7,417.6 L276.1,417.0 L275.7,416.4 L275.2,415.8 L274.9,415.2 L274.6,414.7 L274.4,414.2 L274.3,413.7 L274.2,413.3 L274.3,412.9 L274.5,412.3 L274.7,411.8 L275.1,411.2 L275.5,410.7 L276.0,410.1 L276.5,409.6 L277.0,409.2 L277.5,408.9 L278.0,408.6 L278.6,408.4 L279.3,408.2 L280.0,408.0 L280.7,407.8 L281.5,407.6 L282.2,407.4 L283.0,407.2 L283.7,407.0 Z" fill="#D7182A"/>
<polygon points="300.5,434.2 311.5,431.5 306.5,442.5" fill="#D7182A"/>


<circle cx="392.2" cy="220.7" r="27.5" fill="#FFC000" stroke="#1b2140" stroke-width="3"/>
<text x="391.5" y="234.6" font-size="33" text-anchor="middle" fill="#111">A</text>
<circle cx="507.5" cy="483.7" r="28" fill="#FFC000" stroke="#1b2140" stroke-width="3"/>
<text x="507.2" y="496.3" font-size="32" text-anchor="middle" fill="#111">B</text>

</svg>
</body></html>
